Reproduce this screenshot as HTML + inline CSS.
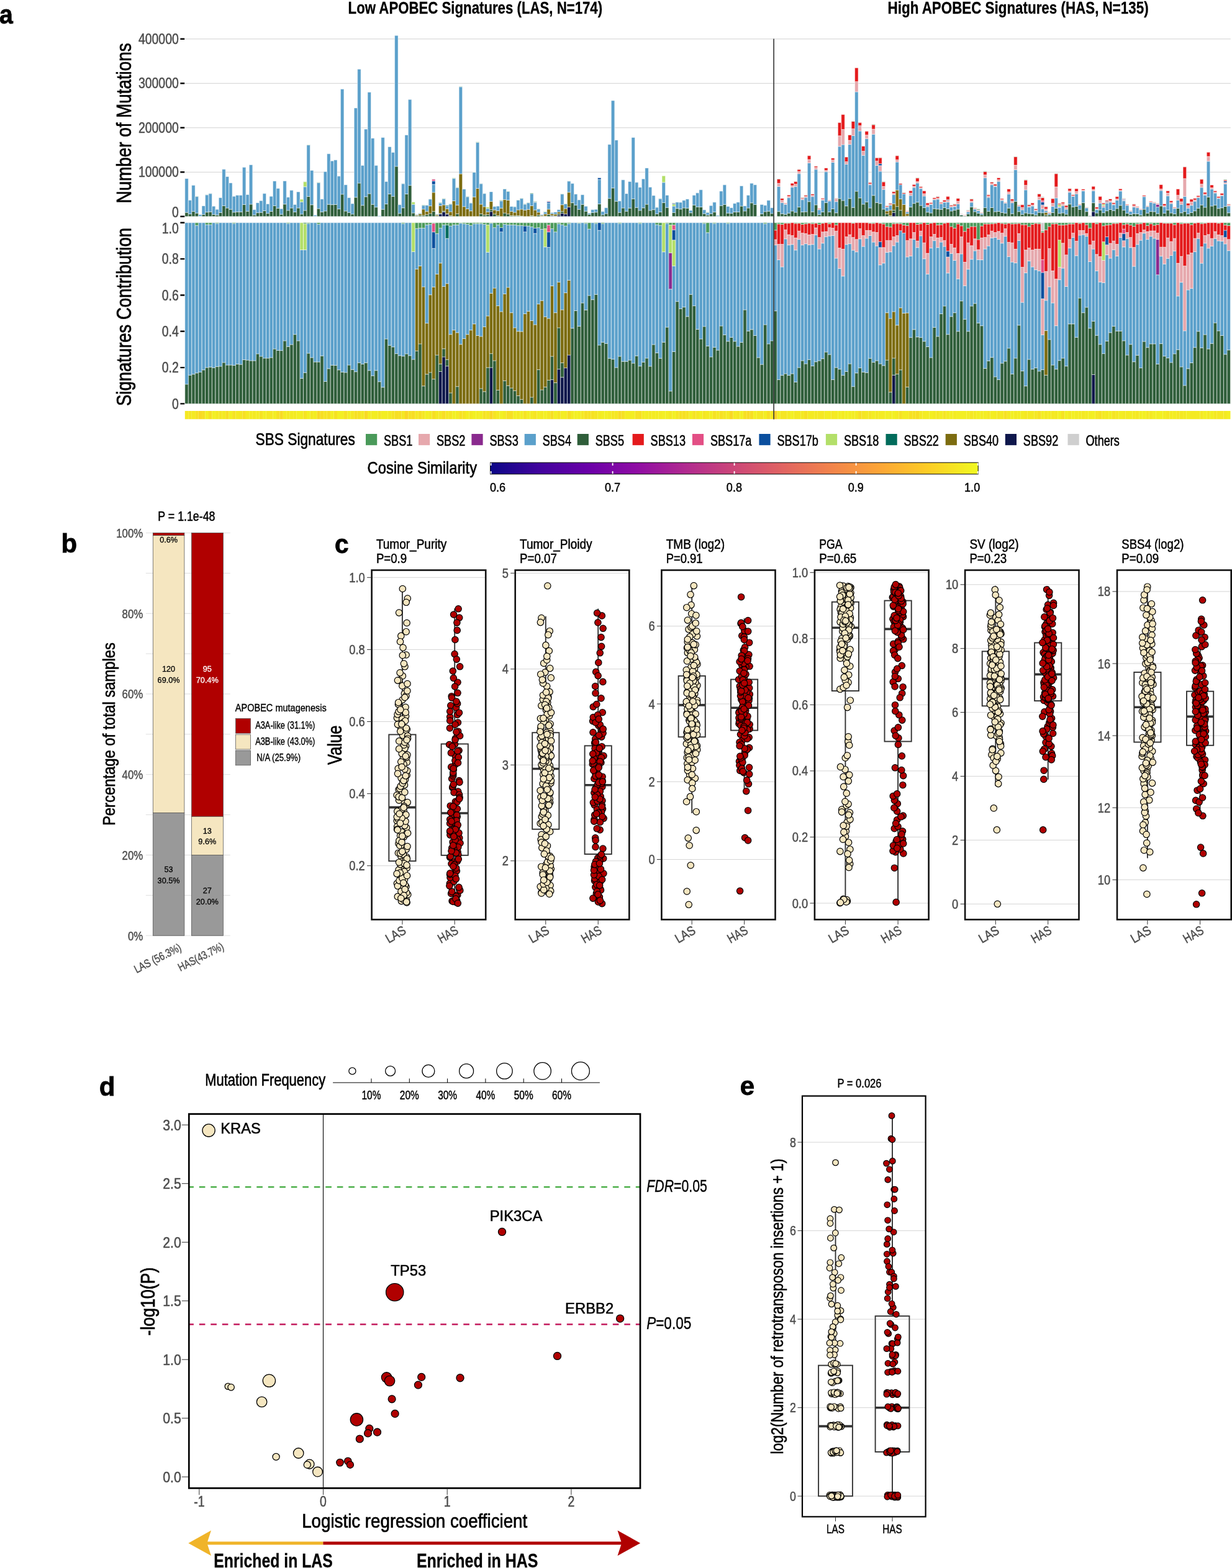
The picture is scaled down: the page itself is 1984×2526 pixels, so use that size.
<!DOCTYPE html>
<html lang="en">
<head>
<meta charset="utf-8">
<title>APOBEC signatures figure</title>
<style>
html,body{margin:0;padding:0;background:#fff;}
body{width:1984px;height:2526px;overflow:hidden;}
svg{display:block;}
text{font-family:"Liberation Sans",Arial,Helvetica,sans-serif;}
</style>
</head>
<body>
<svg width="1984" height="2526" viewBox="0 0 1984 2526">
<rect width="1984" height="2526" fill="#fff"/>
<g>
<path d="M297.8 277.3H1981.8M297.8 205.8H1981.8M297.8 134.3H1981.8M297.8 62.8H1981.8" stroke="#d2d2d2" stroke-width="1" fill="none"/>
<g stroke="#fff" stroke-width="0.5">
<path fill="#0e174c" d="M706.44 348.8h5.45V344.8h-5.45zM711.89 348.8h5.45V341.3h-5.45zM717.34 348.8h5.45V344.93h-5.45zM788.17 348.8h5.45V340.79h-5.45zM886.24 348.8h5.45V347.92h-5.45zM897.14 348.8h5.45V346.68h-5.45zM902.59 348.8h5.45V343.47h-5.45zM908.04 348.8h5.45V344.69h-5.45zM913.49 348.8h5.45V333.39h-5.45zM1436.55 348.8h5.45V342.42h-5.45zM1758.01 348.8h5.45V341h-5.45z"/>
<path fill="#2f5e3a" d="M297.8 348.8h5.45V342.2h-5.45zM303.25 348.8h5.45V344.63h-5.45zM308.7 348.8h5.45V340.61h-5.45zM314.15 348.8h5.45V343.25h-5.45zM319.59 348.8h5.45V348.25h-5.45zM325.04 348.8h5.45V345.59h-5.45zM330.49 348.8h5.45V341.74h-5.45zM335.94 348.8h5.45V341.21h-5.45zM341.39 348.8h5.45V345.48h-5.45zM346.84 348.8h5.45V346.43h-5.45zM352.29 348.8h5.45V342.51h-5.45zM357.73 348.8h5.45V331.45h-5.45zM363.18 348.8h5.45V335.04h-5.45zM368.63 348.8h5.45V337.22h-5.45zM374.08 348.8h5.45V341.87h-5.45zM379.53 348.8h5.45V341.3h-5.45zM384.98 348.8h5.45V341.37h-5.45zM390.43 348.8h5.45V329.55h-5.45zM395.87 348.8h5.45V340.29h-5.45zM401.32 348.8h5.45V328.98h-5.45zM406.77 348.8h5.45V346.16h-5.45zM412.22 348.8h5.45V342.68h-5.45zM417.67 348.8h5.45V342.13h-5.45zM423.12 348.8h5.45V339.47h-5.45zM428.57 348.8h5.45V343.7h-5.45zM434.01 348.8h5.45V340.5h-5.45zM439.46 348.8h5.45V331.49h-5.45zM444.91 348.8h5.45V335.43h-5.45zM450.36 348.8h5.45V345.14h-5.45zM455.81 348.8h5.45V328.87h-5.45zM461.26 348.8h5.45V338.93h-5.45zM466.7 348.8h5.45V335.01h-5.45zM472.15 348.8h5.45V341.41h-5.45zM477.6 348.8h5.45V334.99h-5.45zM483.05 348.8h5.45V344.92h-5.45zM488.5 348.8h5.45V339.1h-5.45zM493.95 348.8h5.45V316.54h-5.45zM499.4 348.8h5.45V329.86h-5.45zM504.84 348.8h5.45V348.27h-5.45zM510.29 348.8h5.45V336.1h-5.45zM515.74 348.8h5.45V341.35h-5.45zM521.19 348.8h5.45V339.92h-5.45zM526.64 348.8h5.45V329.2h-5.45zM532.09 348.8h5.45V329.72h-5.45zM537.54 348.8h5.45V329.5h-5.45zM542.98 348.8h5.45V336.65h-5.45zM548.43 348.8h5.45V312.89h-5.45zM553.88 348.8h5.45V339.96h-5.45zM559.33 348.8h5.45V342.3h-5.45zM564.78 348.8h5.45V344.88h-5.45zM570.23 348.8h5.45V317.86h-5.45zM575.68 348.8h5.45V294.91h-5.45zM581.12 348.8h5.45V330.79h-5.45zM586.57 348.8h5.45V316.86h-5.45zM592.02 348.8h5.45V311.96h-5.45zM597.47 348.8h5.45V329.25h-5.45zM602.92 348.8h5.45V333.67h-5.45zM613.82 348.8h5.45V337.21h-5.45zM619.26 348.8h5.45V328.6h-5.45zM624.71 348.8h5.45V312.5h-5.45zM630.16 348.8h5.45V316.36h-5.45zM635.61 348.8h5.45V268.01h-5.45zM641.06 348.8h5.45V343.76h-5.45zM646.51 348.8h5.45V334.81h-5.45zM651.96 348.8h5.45V312.53h-5.45zM657.4 348.8h5.45V298.67h-5.45zM662.85 348.8h5.45V343.07h-5.45zM668.3 348.8h5.45V347.78h-5.45zM673.75 348.8h5.45V346.88h-5.45zM679.2 348.8h5.45V346.99h-5.45zM684.65 348.8h5.45V345.79h-5.45zM690.1 348.8h5.45V343.9h-5.45zM695.54 348.8h5.45V340.6h-5.45zM700.99 348.8h5.45V347.7h-5.45zM706.44 344.8h5.45V343.86h-5.45zM711.89 341.3h5.45V340h-5.45zM717.34 344.93h5.45V344.26h-5.45zM722.79 348.8h5.45V347.59h-5.45zM733.68 348.8h5.45V344.33h-5.45zM771.82 348.8h5.45V344.33h-5.45zM777.27 348.8h5.45V346.29h-5.45zM782.72 348.8h5.45V345.71h-5.45zM788.17 340.79h5.45V337.71h-5.45zM793.62 348.8h5.45V344.84h-5.45zM799.07 348.8h5.45V347.51h-5.45zM809.96 348.8h5.45V343.11h-5.45zM815.41 348.8h5.45V344.71h-5.45zM820.86 348.8h5.45V347.35h-5.45zM826.31 348.8h5.45V347.65h-5.45zM831.76 348.8h5.45V347.62h-5.45zM837.21 348.8h5.45V348.09h-5.45zM853.55 348.8h5.45V347.44h-5.45zM864.45 348.8h5.45V346.46h-5.45zM869.9 348.8h5.45V348.56h-5.45zM875.35 348.8h5.45V348.02h-5.45zM880.79 348.8h5.45V345.54h-5.45zM886.24 347.92h5.45V347.06h-5.45zM891.69 348.8h5.45V347.92h-5.45zM897.14 346.68h5.45V344.15h-5.45zM902.59 343.47h5.45V340.54h-5.45zM918.93 348.8h5.45V326.62h-5.45zM924.38 348.8h5.45V330.28h-5.45zM929.83 348.8h5.45V337.29h-5.45zM935.28 348.8h5.45V329.25h-5.45zM940.73 348.8h5.45V340.17h-5.45zM946.18 348.8h5.45V345.34h-5.45zM951.63 348.8h5.45V342.43h-5.45zM957.07 348.8h5.45V341.8h-5.45zM962.52 348.8h5.45V328.6h-5.45zM967.97 348.8h5.45V346.05h-5.45zM973.42 348.8h5.45V344.11h-5.45zM978.87 348.8h5.45V319.65h-5.45zM984.32 348.8h5.45V302.86h-5.45zM989.77 348.8h5.45V324.18h-5.45zM995.21 348.8h5.45V342.22h-5.45zM1000.66 348.8h5.45V334.98h-5.45zM1006.11 348.8h5.45V340.17h-5.45zM1011.56 348.8h5.45V335.2h-5.45zM1017.01 348.8h5.45V320.28h-5.45zM1022.46 348.8h5.45V334.23h-5.45zM1027.9 348.8h5.45V338.94h-5.45zM1033.35 348.8h5.45V334.85h-5.45zM1038.8 348.8h5.45V329.11h-5.45zM1044.25 348.8h5.45V338.99h-5.45zM1049.7 348.8h5.45V337.72h-5.45zM1055.15 348.8h5.45V344.56h-5.45zM1060.6 348.8h5.45V341.48h-5.45zM1066.04 348.8h5.45V326.53h-5.45zM1071.49 348.8h5.45V334.22h-5.45zM1082.39 348.8h5.45V342.48h-5.45zM1087.84 348.8h5.45V335.79h-5.45zM1093.29 348.8h5.45V336.83h-5.45zM1098.74 348.8h5.45V334.9h-5.45zM1104.18 348.8h5.45V335.26h-5.45zM1109.63 348.8h5.45V342.84h-5.45zM1115.08 348.8h5.45V330.27h-5.45zM1120.53 348.8h5.45V333.2h-5.45zM1125.98 348.8h5.45V333.39h-5.45zM1131.43 348.8h5.45V344.22h-5.45zM1136.88 348.8h5.45V346.56h-5.45zM1142.32 348.8h5.45V344.24h-5.45zM1147.77 348.8h5.45V341.62h-5.45zM1153.22 348.8h5.45V348.27h-5.45zM1158.67 348.8h5.45V331.21h-5.45zM1164.12 348.8h5.45V329.38h-5.45zM1169.57 348.8h5.45V343.15h-5.45zM1175.02 348.8h5.45V343.63h-5.45zM1180.46 348.8h5.45V341.52h-5.45zM1185.91 348.8h5.45V341.5h-5.45zM1191.36 348.8h5.45V332.08h-5.45zM1196.81 348.8h5.45V339.89h-5.45zM1202.26 348.8h5.45V335.03h-5.45zM1207.71 348.8h5.45V326.84h-5.45zM1213.16 348.8h5.45V329.53h-5.45zM1218.6 348.8h5.45V348.58h-5.45zM1224.05 348.8h5.45V344.61h-5.45zM1229.5 348.8h5.45V340.89h-5.45zM1234.95 348.8h5.45V340.19h-5.45zM1240.4 348.8h5.45V343.9h-5.45zM1245.85 348.8h5.45V348.54h-5.45zM1251.3 348.8h5.45V340.72h-5.45zM1256.74 348.8h5.45V344.16h-5.45zM1262.19 348.8h5.45V345.22h-5.45zM1267.64 348.8h5.45V343.34h-5.45zM1273.09 348.8h5.45V339.91h-5.45zM1278.54 348.8h5.45V341.99h-5.45zM1283.99 348.8h5.45V333.58h-5.45zM1289.43 348.8h5.45V341.45h-5.45zM1294.88 348.8h5.45V341.12h-5.45zM1300.33 348.8h5.45V324.79h-5.45zM1305.78 348.8h5.45V341.16h-5.45zM1311.23 348.8h5.45V329.92h-5.45zM1316.68 348.8h5.45V345.75h-5.45zM1322.13 348.8h5.45V341.45h-5.45zM1327.57 348.8h5.45V326.45h-5.45zM1333.02 348.8h5.45V341.49h-5.45zM1338.47 348.8h5.45V336.3h-5.45zM1343.92 348.8h5.45V342.82h-5.45zM1349.37 348.8h5.45V319.92h-5.45zM1354.82 348.8h5.45V323.02h-5.45zM1360.27 348.8h5.45V331.76h-5.45zM1365.71 348.8h5.45V319.76h-5.45zM1371.16 348.8h5.45V334.2h-5.45zM1376.61 348.8h5.45V308.09h-5.45zM1382.06 348.8h5.45V318.86h-5.45zM1387.51 348.8h5.45V328.97h-5.45zM1392.96 348.8h5.45V325.2h-5.45zM1398.41 348.8h5.45V335h-5.45zM1403.85 348.8h5.45V314.81h-5.45zM1409.3 348.8h5.45V326.3h-5.45zM1414.75 348.8h5.45V327.8h-5.45zM1420.2 348.8h5.45V336.94h-5.45zM1425.65 348.8h5.45V344.56h-5.45zM1431.1 348.8h5.45V347.42h-5.45zM1436.55 342.42h5.45V338.62h-5.45zM1441.99 348.8h5.45V332.67h-5.45zM1447.44 348.8h5.45V338.79h-5.45zM1458.34 348.8h5.45V347.94h-5.45zM1463.79 348.8h5.45V333.62h-5.45zM1469.24 348.8h5.45V327.69h-5.45zM1474.69 348.8h5.45V325.71h-5.45zM1480.13 348.8h5.45V331.06h-5.45zM1485.58 348.8h5.45V334.57h-5.45zM1491.03 348.8h5.45V341.82h-5.45zM1496.48 348.8h5.45V343.07h-5.45zM1501.93 348.8h5.45V336.13h-5.45zM1507.38 348.8h5.45V336.83h-5.45zM1512.83 348.8h5.45V337.36h-5.45zM1518.27 348.8h5.45V334.55h-5.45zM1523.72 348.8h5.45V336.48h-5.45zM1529.17 348.8h5.45V339.91h-5.45zM1534.62 348.8h5.45V338.62h-5.45zM1540.07 348.8h5.45V336.99h-5.45zM1545.52 348.8h5.45V346.49h-5.45zM1550.97 348.8h5.45V347.73h-5.45zM1556.41 348.8h5.45V344.71h-5.45zM1561.86 348.8h5.45V333.36h-5.45zM1567.31 348.8h5.45V341h-5.45zM1572.76 348.8h5.45V343.47h-5.45zM1578.21 348.8h5.45V346.09h-5.45zM1583.66 348.8h5.45V334.58h-5.45zM1589.1 348.8h5.45V340.43h-5.45zM1594.55 348.8h5.45V334.5h-5.45zM1600 348.8h5.45V341h-5.45zM1605.45 348.8h5.45V340.51h-5.45zM1610.9 348.8h5.45V342.31h-5.45zM1616.35 348.8h5.45V343.31h-5.45zM1621.8 348.8h5.45V335.15h-5.45zM1627.24 348.8h5.45V344.16h-5.45zM1632.69 348.8h5.45V324.4h-5.45zM1638.14 348.8h5.45V340.79h-5.45zM1643.59 348.8h5.45V345.31h-5.45zM1649.04 348.8h5.45V342.98h-5.45zM1654.49 348.8h5.45V344.07h-5.45zM1659.94 348.8h5.45V344.57h-5.45zM1665.38 348.8h5.45V346.36h-5.45zM1670.83 348.8h5.45V342.16h-5.45zM1676.28 348.8h5.45V342.75h-5.45zM1681.73 348.8h5.45V346.21h-5.45zM1687.18 348.8h5.45V346.11h-5.45zM1692.63 348.8h5.45V342.56h-5.45zM1698.08 348.8h5.45V335.54h-5.45zM1703.52 348.8h5.45V343.72h-5.45zM1708.97 348.8h5.45V342.91h-5.45zM1714.42 348.8h5.45V345.04h-5.45zM1719.87 348.8h5.45V328.81h-5.45zM1725.32 348.8h5.45V333.22h-5.45zM1730.77 348.8h5.45V332.35h-5.45zM1736.22 348.8h5.45V337.19h-5.45zM1741.66 348.8h5.45V326.61h-5.45zM1747.11 348.8h5.45V340.76h-5.45zM1752.56 348.8h5.45V347.85h-5.45zM1758.01 341h5.45V326.69h-5.45zM1763.46 348.8h5.45V343.1h-5.45zM1768.91 348.8h5.45V338.25h-5.45zM1774.36 348.8h5.45V342.66h-5.45zM1779.8 348.8h5.45V339.67h-5.45zM1785.25 348.8h5.45V337.5h-5.45zM1790.7 348.8h5.45V339.31h-5.45zM1796.15 348.8h5.45V335.89h-5.45zM1801.6 348.8h5.45V330.86h-5.45zM1807.05 348.8h5.45V338.62h-5.45zM1812.5 348.8h5.45V343.51h-5.45zM1817.94 348.8h5.45V345.61h-5.45zM1823.39 348.8h5.45V344.14h-5.45zM1828.84 348.8h5.45V344.49h-5.45zM1834.29 348.8h5.45V346.39h-5.45zM1839.74 348.8h5.45V337.12h-5.45zM1845.19 348.8h5.45V343.35h-5.45zM1850.63 348.8h5.45V340.64h-5.45zM1856.08 348.8h5.45V340.97h-5.45zM1861.53 348.8h5.45V344.12h-5.45zM1866.98 348.8h5.45V331.76h-5.45zM1872.43 348.8h5.45V343.44h-5.45zM1877.88 348.8h5.45V338.34h-5.45zM1883.33 348.8h5.45V343.01h-5.45zM1888.77 348.8h5.45V344.56h-5.45zM1894.22 348.8h5.45V335.55h-5.45zM1899.67 348.8h5.45V342.83h-5.45zM1905.12 348.8h5.45V340.69h-5.45zM1910.57 348.8h5.45V344.65h-5.45zM1916.02 348.8h5.45V342.42h-5.45zM1921.47 348.8h5.45V339.71h-5.45zM1926.91 348.8h5.45V335.39h-5.45zM1932.36 348.8h5.45V330.15h-5.45zM1937.81 348.8h5.45V333.94h-5.45zM1943.26 348.8h5.45V317.43h-5.45zM1948.71 348.8h5.45V331.9h-5.45zM1954.16 348.8h5.45V330.33h-5.45zM1959.61 348.8h5.45V335.8h-5.45zM1965.05 348.8h5.45V334.76h-5.45zM1970.5 348.8h5.45V332.52h-5.45zM1975.95 348.8h5.45V342.83h-5.45z"/>
<path fill="#7c6c10" d="M668.3 347.78h5.45V346.19h-5.45zM673.75 346.88h5.45V344.39h-5.45zM679.2 346.99h5.45V336.88h-5.45zM684.65 345.79h5.45V340.59h-5.45zM690.1 343.9h5.45V331.75h-5.45zM695.54 340.6h5.45V309.92h-5.45zM700.99 347.7h5.45V345.88h-5.45zM706.44 343.86h5.45V331.36h-5.45zM711.89 340h5.45V330.04h-5.45zM717.34 344.26h5.45V336.46h-5.45zM722.79 347.59h5.45V341.05h-5.45zM728.23 348.8h5.45V323.57h-5.45zM733.68 344.33h5.45V330.31h-5.45zM739.13 348.8h5.45V280.06h-5.45zM744.58 348.8h5.45V332.79h-5.45zM750.03 348.8h5.45V336.48h-5.45zM755.48 348.8h5.45V339.78h-5.45zM760.93 348.8h5.45V317.21h-5.45zM766.37 348.8h5.45V303.57h-5.45zM771.82 344.33h5.45V329.01h-5.45zM777.27 346.29h5.45V332.91h-5.45zM782.72 345.71h5.45V341.31h-5.45zM788.17 337.71h5.45V324.38h-5.45zM793.62 344.84h5.45V338.15h-5.45zM799.07 347.51h5.45V339.52h-5.45zM804.51 348.8h5.45V335.37h-5.45zM809.96 343.11h5.45V321.59h-5.45zM815.41 344.71h5.45V322.5h-5.45zM820.86 347.35h5.45V340.42h-5.45zM826.31 347.65h5.45V342.07h-5.45zM831.76 347.62h5.45V338.05h-5.45zM837.21 348.09h5.45V337.02h-5.45zM842.65 348.8h5.45V338.49h-5.45zM848.1 348.8h5.45V337.33h-5.45zM853.55 347.44h5.45V331.47h-5.45zM859 348.8h5.45V338.21h-5.45zM864.45 346.46h5.45V341.95h-5.45zM869.9 348.56h5.45V347.01h-5.45zM875.35 348.02h5.45V344.74h-5.45zM880.79 345.54h5.45V336.98h-5.45zM886.24 347.06h5.45V344.47h-5.45zM891.69 347.92h5.45V344.99h-5.45zM897.14 344.15h5.45V341.35h-5.45zM902.59 340.54h5.45V329.84h-5.45zM908.04 344.69h5.45V336.09h-5.45zM913.49 333.39h5.45V309.74h-5.45zM1425.65 344.56h5.45V339.95h-5.45zM1431.1 347.42h5.45V338.63h-5.45zM1436.55 338.62h5.45V328.24h-5.45zM1441.99 332.67h5.45V306.1h-5.45zM1447.44 338.79h5.45V320.42h-5.45zM1452.89 348.8h5.45V329.46h-5.45zM1458.34 347.94h5.45V344.13h-5.45zM1681.73 346.21h5.45V342.19h-5.45z"/>
<path fill="#5ba0cb" d="M297.8 342.2h5.45V287.67h-5.45zM303.25 344.63h5.45V322.42h-5.45zM308.7 340.61h5.45V298.54h-5.45zM314.15 343.25h5.45V316.61h-5.45zM319.59 348.25h5.45V345.65h-5.45zM325.04 345.59h5.45V331.64h-5.45zM330.49 341.74h5.45V313.87h-5.45zM335.94 341.21h5.45V311.82h-5.45zM341.39 345.48h5.45V332.14h-5.45zM346.84 346.43h5.45V337.26h-5.45zM352.29 342.51h5.45V318.41h-5.45zM357.73 331.45h5.45V272.72h-5.45zM363.18 335.04h5.45V284.52h-5.45zM368.63 337.22h5.45V294.67h-5.45zM374.08 341.87h5.45V316.26h-5.45zM379.53 341.3h5.45V314.55h-5.45zM384.98 341.37h5.45V314.55h-5.45zM390.43 329.55h5.45V269.58h-5.45zM395.87 340.29h5.45V313.48h-5.45zM401.32 328.98h5.45V265.5h-5.45zM406.77 346.16h5.45V337.72h-5.45zM412.22 342.68h5.45V326.63h-5.45zM417.67 342.13h5.45V323.35h-5.45zM423.12 339.47h5.45V311.76h-5.45zM428.57 343.7h5.45V328.57h-5.45zM434.01 340.5h5.45V316.27h-5.45zM439.46 331.49h5.45V291.67h-5.45zM444.91 335.43h5.45V303.47h-5.45zM450.36 345.14h5.45V336.36h-5.45zM455.81 328.87h5.45V291.53h-5.45zM461.26 338.93h5.45V317.68h-5.45zM466.7 335.01h5.45V306.62h-5.45zM472.15 341.41h5.45V329.5h-5.45zM477.6 334.99h5.45V309.12h-5.45zM483.05 344.92h5.45V325.22h-5.45zM488.5 339.1h5.45V300.85h-5.45zM493.95 316.54h5.45V233.65h-5.45zM499.4 329.86h5.45V274.51h-5.45zM504.84 348.27h5.45V346.51h-5.45zM510.29 336.1h5.45V294.26h-5.45zM515.74 341.35h5.45V320.7h-5.45zM521.19 339.92h5.45V276.59h-5.45zM526.64 329.2h5.45V247.77h-5.45zM532.09 329.72h5.45V259.21h-5.45zM537.54 329.5h5.45V257.78h-5.45zM542.98 336.65h5.45V283.81h-5.45zM548.43 312.89h5.45V143.6h-5.45zM553.88 339.96h5.45V297.68h-5.45zM559.33 342.3h5.45V318.41h-5.45zM564.78 344.88h5.45V328.06h-5.45zM570.23 317.86h5.45V173.98h-5.45zM575.68 294.91h5.45V111.42h-5.45zM581.12 330.79h5.45V266.58h-5.45zM586.57 316.86h5.45V208.09h-5.45zM592.02 311.96h5.45V148.6h-5.45zM597.47 329.25h5.45V222.67h-5.45zM602.92 333.67h5.45V266.58h-5.45zM608.37 348.67h5.45V347.73h-5.45zM613.82 337.21h5.45V221.46h-5.45zM619.26 328.6h5.45V292.39h-5.45zM624.71 312.5h5.45V236.4h-5.45zM630.16 316.36h5.45V245.48h-5.45zM635.61 268.01h5.45V57.15h-5.45zM641.06 343.76h5.45V329.85h-5.45zM646.51 334.81h5.45V295.87h-5.45zM651.96 312.53h5.45V217.38h-5.45zM657.4 298.67h5.45V160.33h-5.45zM662.85 343.07h5.45V329.16h-5.45zM668.3 346.19h5.45V345.41h-5.45zM673.75 344.39h5.45V343.18h-5.45zM679.2 336.88h5.45V330.91h-5.45zM684.65 340.59h5.45V330.57h-5.45zM690.1 331.75h5.45V320.77h-5.45zM695.54 309.92h5.45V297.08h-5.45zM700.99 345.88h5.45V344.97h-5.45zM706.44 331.36h5.45V327.02h-5.45zM711.89 330.04h5.45V320.19h-5.45zM717.34 336.46h5.45V331.83h-5.45zM722.79 341.05h5.45V328.93h-5.45zM728.23 323.57h5.45V287.55h-5.45zM733.68 330.31h5.45V302.32h-5.45zM739.13 280.06h5.45V139.86h-5.45zM744.58 332.79h5.45V304.59h-5.45zM750.03 336.48h5.45V316.91h-5.45zM755.48 339.78h5.45V326.97h-5.45zM760.93 317.21h5.45V277.59h-5.45zM766.37 303.57h5.45V229.54h-5.45zM771.82 329.01h5.45V295.87h-5.45zM777.27 332.91h5.45V311.74h-5.45zM782.72 341.31h5.45V335.87h-5.45zM788.17 324.38h5.45V308.88h-5.45zM793.62 338.15h5.45V332.59h-5.45zM799.07 339.52h5.45V331.85h-5.45zM804.51 335.37h5.45V323.76h-5.45zM809.96 321.59h5.45V304.37h-5.45zM815.41 322.5h5.45V308.39h-5.45zM820.86 340.42h5.45V332.34h-5.45zM826.31 342.07h5.45V332.98h-5.45zM831.76 338.05h5.45V322.32h-5.45zM837.21 337.02h5.45V319.71h-5.45zM842.65 338.49h5.45V329.12h-5.45zM848.1 337.33h5.45V326.75h-5.45zM853.55 331.47h5.45V311.92h-5.45zM859 338.21h5.45V325.99h-5.45zM864.45 341.95h5.45V336.69h-5.45zM869.9 347.01h5.45V345.77h-5.45zM875.35 344.74h5.45V341.49h-5.45zM880.79 336.98h5.45V327.12h-5.45zM886.24 344.47h5.45V342.37h-5.45zM891.69 344.99h5.45V341.61h-5.45zM897.14 341.35h5.45V337.78h-5.45zM902.59 329.84h5.45V312.67h-5.45zM908.04 336.09h5.45V328.44h-5.45zM913.49 309.74h5.45V291.81h-5.45zM918.93 326.62h5.45V295.6h-5.45zM924.38 330.28h5.45V312.76h-5.45zM929.83 337.29h5.45V322h-5.45zM935.28 329.25h5.45V313.69h-5.45zM940.73 340.17h5.45V332.21h-5.45zM946.18 345.34h5.45V343.21h-5.45zM951.63 342.43h5.45V337.72h-5.45zM957.07 341.8h5.45V337.26h-5.45zM962.52 328.6h5.45V289.07h-5.45zM967.97 346.05h5.45V340.76h-5.45zM973.42 344.11h5.45V334.71h-5.45zM978.87 319.65h5.45V232.68h-5.45zM984.32 302.86h5.45V162.04h-5.45zM989.77 324.18h5.45V225.68h-5.45zM995.21 342.22h5.45V323.8h-5.45zM1000.66 334.98h5.45V289.74h-5.45zM1006.11 340.17h5.45V311.91h-5.45zM1011.56 335.2h5.45V292.39h-5.45zM1017.01 320.28h5.45V221.46h-5.45zM1022.46 334.23h5.45V293.82h-5.45zM1027.9 338.94h5.45V301.59h-5.45zM1033.35 334.85h5.45V288.17h-5.45zM1038.8 329.11h5.45V270.65h-5.45zM1044.25 338.99h5.45V301.4h-5.45zM1049.7 337.72h5.45V314.91h-5.45zM1055.15 344.56h5.45V333.88h-5.45zM1060.6 341.48h5.45V320.07h-5.45zM1066.04 326.53h5.45V293.85h-5.45zM1071.49 334.22h5.45V314.47h-5.45zM1076.94 348.76h5.45V348.48h-5.45zM1082.39 342.48h5.45V332.1h-5.45zM1087.84 335.79h5.45V325.78h-5.45zM1093.29 336.83h5.45V325.99h-5.45zM1098.74 334.9h5.45V322.77h-5.45zM1104.18 335.26h5.45V320.7h-5.45zM1109.63 342.84h5.45V338.93h-5.45zM1115.08 330.27h5.45V314.55h-5.45zM1120.53 333.2h5.45V310.83h-5.45zM1125.98 333.39h5.45V305.76h-5.45zM1131.43 344.22h5.45V338.12h-5.45zM1136.88 346.56h5.45V342.18h-5.45zM1142.32 344.24h5.45V331.21h-5.45zM1147.77 341.62h5.45V325.87h-5.45zM1153.22 348.27h5.45V347.01h-5.45zM1158.67 331.21h5.45V307.9h-5.45zM1164.12 329.38h5.45V297.82h-5.45zM1169.57 343.15h5.45V332.49h-5.45zM1175.02 343.63h5.45V334.71h-5.45zM1180.46 341.52h5.45V327.71h-5.45zM1185.91 341.5h5.45V325.78h-5.45zM1191.36 332.08h5.45V299.47h-5.45zM1196.81 339.89h5.45V331.64h-5.45zM1202.26 335.03h5.45V314.55h-5.45zM1207.71 326.84h5.45V295.25h-5.45zM1213.16 329.53h5.45V297.68h-5.45zM1218.6 348.58h5.45V347.94h-5.45zM1224.05 344.61h5.45V329.5h-5.45zM1229.5 340.89h5.45V330.82h-5.45zM1234.95 340.19h5.45V322.77h-5.45zM1240.4 343.9h5.45V334.71h-5.45zM1245.85 348.54h5.45V348.36h-5.45zM1251.3 340.72h5.45V300.48h-5.45zM1256.74 344.16h5.45V326.48h-5.45zM1262.19 345.22h5.45V329.13h-5.45zM1267.64 343.34h5.45V318.33h-5.45zM1273.09 339.91h5.45V301.67h-5.45zM1278.54 341.99h5.45V300.6h-5.45zM1283.99 333.58h5.45V279.72h-5.45zM1289.43 341.45h5.45V321.71h-5.45zM1294.88 341.12h5.45V318.08h-5.45zM1300.33 324.79h5.45V262.42h-5.45zM1305.78 341.16h5.45V316.65h-5.45zM1311.23 329.92h5.45V272.88h-5.45zM1316.68 345.75h5.45V337.86h-5.45zM1322.13 341.45h5.45V322.61h-5.45zM1327.57 326.45h5.45V276.67h-5.45zM1333.02 341.49h5.45V323.88h-5.45zM1338.47 336.3h5.45V261.52h-5.45zM1343.92 342.82h5.45V324.77h-5.45zM1349.37 319.92h5.45V235.84h-5.45zM1354.82 323.02h5.45V233.01h-5.45zM1360.27 331.76h5.45V264.55h-5.45zM1365.71 319.76h5.45V232.63h-5.45zM1371.16 334.2h5.45V218.44h-5.45zM1376.61 308.09h5.45V147.9h-5.45zM1382.06 318.86h5.45V211.04h-5.45zM1387.51 328.97h5.45V250.32h-5.45zM1392.96 325.2h5.45V223.39h-5.45zM1398.41 335h5.45V297.72h-5.45zM1403.85 314.81h5.45V216.25h-5.45zM1409.3 326.3h5.45V266.38h-5.45zM1414.75 327.8h5.45V275.92h-5.45zM1420.2 336.94h5.45V305.13h-5.45zM1425.65 339.95h5.45V334.1h-5.45zM1431.1 338.63h5.45V330.68h-5.45zM1436.55 328.24h5.45V313.53h-5.45zM1441.99 306.1h5.45V260.94h-5.45zM1447.44 320.42h5.45V297.6h-5.45zM1452.89 329.46h5.45V312.32h-5.45zM1458.34 344.13h5.45V341.26h-5.45zM1463.79 333.62h5.45V314.96h-5.45zM1469.24 327.69h5.45V302.06h-5.45zM1474.69 325.71h5.45V294.81h-5.45zM1480.13 331.06h5.45V303.81h-5.45zM1485.58 334.57h5.45V315.75h-5.45zM1491.03 341.82h5.45V332.93h-5.45zM1496.48 343.07h5.45V329.49h-5.45zM1501.93 336.13h5.45V321.74h-5.45zM1507.38 336.83h5.45V321.03h-5.45zM1512.83 337.36h5.45V328.24h-5.45zM1518.27 334.55h5.45V325.87h-5.45zM1523.72 336.48h5.45V325.57h-5.45zM1529.17 339.91h5.45V333.49h-5.45zM1534.62 338.62h5.45V332.77h-5.45zM1540.07 336.99h5.45V328.42h-5.45zM1545.52 346.49h5.45V345.43h-5.45zM1550.97 347.73h5.45V347.31h-5.45zM1556.41 344.71h5.45V341.2h-5.45zM1561.86 333.36h5.45V325.98h-5.45zM1567.31 341h5.45V336.9h-5.45zM1572.76 343.47h5.45V339.3h-5.45zM1578.21 346.09h5.45V343.8h-5.45zM1583.66 334.58h5.45V286.44h-5.45zM1589.1 340.43h5.45V318h-5.45zM1594.55 334.5h5.45V297.65h-5.45zM1600 341h5.45V300.7h-5.45zM1605.45 340.51h5.45V292.19h-5.45zM1610.9 342.31h5.45V323.11h-5.45zM1616.35 343.31h5.45V327.17h-5.45zM1621.8 335.15h5.45V312.64h-5.45zM1627.24 344.16h5.45V326.63h-5.45zM1632.69 324.4h5.45V273.48h-5.45zM1638.14 340.79h5.45V332.16h-5.45zM1643.59 345.31h5.45V337.99h-5.45zM1649.04 342.98h5.45V305.89h-5.45zM1654.49 344.07h5.45V333.57h-5.45zM1659.94 344.57h5.45V332.04h-5.45zM1665.38 346.36h5.45V339.7h-5.45zM1670.83 342.16h5.45V321.72h-5.45zM1676.28 342.75h5.45V336.54h-5.45zM1681.73 342.19h5.45V339.45h-5.45zM1687.18 346.11h5.45V343.9h-5.45zM1692.63 342.56h5.45V332.55h-5.45zM1698.08 335.54h5.45V318.88h-5.45zM1703.52 343.72h5.45V334.25h-5.45zM1708.97 342.91h5.45V331.29h-5.45zM1714.42 345.04h5.45V337.08h-5.45zM1719.87 328.81h5.45V309.82h-5.45zM1725.32 333.22h5.45V316.34h-5.45zM1730.77 332.35h5.45V312.13h-5.45zM1736.22 337.19h5.45V330.29h-5.45zM1741.66 326.61h5.45V307.6h-5.45zM1747.11 340.76h5.45V334.84h-5.45zM1752.56 347.85h5.45V347h-5.45zM1758.01 326.69h5.45V307.35h-5.45zM1763.46 343.1h5.45V337.73h-5.45zM1768.91 338.25h5.45V327.15h-5.45zM1774.36 342.66h5.45V333.97h-5.45zM1779.8 339.67h5.45V327.09h-5.45zM1785.25 337.5h5.45V325.69h-5.45zM1790.7 339.31h5.45V329.94h-5.45zM1796.15 335.89h5.45V322.6h-5.45zM1801.6 330.86h5.45V307.8h-5.45zM1807.05 338.62h5.45V323.48h-5.45zM1812.5 343.51h5.45V330.85h-5.45zM1817.94 345.61h5.45V340.41h-5.45zM1823.39 344.14h5.45V333.55h-5.45zM1828.84 344.49h5.45V334.64h-5.45zM1834.29 346.39h5.45V337.82h-5.45zM1839.74 337.12h5.45V316.81h-5.45zM1845.19 343.35h5.45V332.89h-5.45zM1850.63 340.64h5.45V325.98h-5.45zM1856.08 340.97h5.45V327.17h-5.45zM1861.53 344.12h5.45V333.58h-5.45zM1866.98 331.76h5.45V306.96h-5.45zM1872.43 343.44h5.45V333.07h-5.45zM1877.88 338.34h5.45V315.61h-5.45zM1883.33 343.01h5.45V328.01h-5.45zM1888.77 344.56h5.45V335.83h-5.45zM1894.22 335.55h5.45V322.42h-5.45zM1899.67 342.83h5.45V329.18h-5.45zM1905.12 340.69h5.45V316.44h-5.45zM1910.57 344.65h5.45V335.35h-5.45zM1916.02 342.42h5.45V330.81h-5.45zM1921.47 339.71h5.45V324.24h-5.45zM1926.91 335.39h5.45V318.18h-5.45zM1932.36 330.15h5.45V301.97h-5.45zM1937.81 333.94h5.45V314.3h-5.45zM1943.26 317.43h5.45V259.87h-5.45zM1948.71 331.9h5.45V304.58h-5.45zM1954.16 330.33h5.45V311.07h-5.45zM1959.61 335.8h5.45V319.78h-5.45zM1965.05 334.76h5.45V315.35h-5.45zM1970.5 332.52h5.45V296.15h-5.45zM1975.95 342.83h5.45V331.8h-5.45z"/>
<path fill="#8a2a8e" d="M1861.53 333.58h5.45V329.39h-5.45z"/>
<path fill="#016b5b" d="M717.34 331.83h5.45V330.43h-5.45z"/>
<path fill="#e6a8ad" d="M1251.3 300.48h5.45V295.26h-5.45zM1256.74 326.48h5.45V322.78h-5.45zM1262.19 329.13h5.45V328.05h-5.45zM1267.64 318.33h5.45V316.34h-5.45zM1273.09 301.67h5.45V299.05h-5.45zM1278.54 300.6h5.45V296.8h-5.45zM1283.99 279.72h5.45V276.22h-5.45zM1289.43 321.71h5.45V319.67h-5.45zM1294.88 318.08h5.45V316.14h-5.45zM1300.33 262.42h5.45V257.01h-5.45zM1305.78 316.65h5.45V314.6h-5.45zM1311.23 272.88h5.45V269.71h-5.45zM1316.68 337.86h5.45V337.04h-5.45zM1322.13 322.61h5.45V320.78h-5.45zM1327.57 276.67h5.45V274.48h-5.45zM1333.02 323.88h5.45V322.64h-5.45zM1338.47 261.52h5.45V257.67h-5.45zM1343.92 324.77h5.45V320.29h-5.45zM1349.37 235.84h5.45V218.75h-5.45zM1354.82 233.01h5.45V208.54h-5.45zM1360.27 264.55h5.45V260.53h-5.45zM1365.71 232.63h5.45V226.06h-5.45zM1371.16 218.44h5.45V207.53h-5.45zM1376.61 147.9h5.45V131.38h-5.45zM1382.06 211.04h5.45V202.57h-5.45zM1387.51 250.32h5.45V243.52h-5.45zM1392.96 223.39h5.45V217.49h-5.45zM1398.41 297.72h5.45V296.18h-5.45zM1403.85 216.25h5.45V207.94h-5.45zM1409.3 266.38h5.45V259.38h-5.45zM1414.75 275.92h5.45V266.79h-5.45zM1420.2 305.13h5.45V300.3h-5.45zM1425.65 334.1h5.45V332.93h-5.45zM1431.1 330.68h5.45V329.32h-5.45zM1436.55 313.53h5.45V311.55h-5.45zM1441.99 260.94h5.45V257.4h-5.45zM1458.34 341.26h5.45V340.42h-5.45zM1463.79 314.96h5.45V311.02h-5.45zM1469.24 302.06h5.45V300.1h-5.45zM1474.69 294.81h5.45V292.56h-5.45zM1480.13 303.81h5.45V302.55h-5.45zM1485.58 315.75h5.45V312.12h-5.45zM1491.03 332.93h5.45V330.38h-5.45zM1496.48 329.49h5.45V328.1h-5.45zM1501.93 321.74h5.45V320.69h-5.45zM1507.38 321.03h5.45V319.33h-5.45zM1512.83 328.24h5.45V327.64h-5.45zM1518.27 325.87h5.45V325h-5.45zM1523.72 325.57h5.45V322.71h-5.45zM1529.17 333.49h5.45V332.55h-5.45zM1534.62 332.77h5.45V331.38h-5.45zM1540.07 328.42h5.45V324.29h-5.45zM1545.52 345.43h5.45V345.04h-5.45zM1550.97 347.31h5.45V347.01h-5.45zM1556.41 341.2h5.45V339.71h-5.45zM1561.86 325.98h5.45V323.83h-5.45zM1567.31 336.9h5.45V335.97h-5.45zM1572.76 339.3h5.45V338.64h-5.45zM1578.21 343.8h5.45V343.04h-5.45zM1583.66 286.44h5.45V281.78h-5.45zM1589.1 318h5.45V315.85h-5.45zM1594.55 297.65h5.45V295.53h-5.45zM1600 300.7h5.45V299.29h-5.45zM1605.45 292.19h5.45V289.44h-5.45zM1610.9 323.11h5.45V321.49h-5.45zM1616.35 327.17h5.45V326.19h-5.45zM1621.8 312.64h5.45V309.13h-5.45zM1627.24 326.63h5.45V323.63h-5.45zM1632.69 273.48h5.45V266.12h-5.45zM1638.14 332.16h5.45V331.46h-5.45zM1643.59 337.99h5.45V334.24h-5.45zM1649.04 305.89h5.45V298.42h-5.45zM1654.49 333.57h5.45V332.2h-5.45zM1659.94 332.04h5.45V329.98h-5.45zM1665.38 339.7h5.45V338.3h-5.45zM1670.83 321.72h5.45V317.29h-5.45zM1676.28 336.54h5.45V330.14h-5.45zM1681.73 339.45h5.45V336.83h-5.45zM1687.18 343.9h5.45V342.3h-5.45zM1692.63 332.55h5.45V327.39h-5.45zM1698.08 318.88h5.45V300.97h-5.45zM1703.52 334.25h5.45V332.79h-5.45zM1708.97 331.29h5.45V328.06h-5.45zM1714.42 337.08h5.45V333.93h-5.45zM1719.87 309.82h5.45V307.64h-5.45zM1725.32 316.34h5.45V315.49h-5.45zM1730.77 312.13h5.45V308.54h-5.45zM1736.22 330.29h5.45V329.78h-5.45zM1741.66 307.6h5.45V306.58h-5.45zM1747.11 334.84h5.45V334.62h-5.45zM1752.56 347h5.45V346.79h-5.45zM1758.01 307.35h5.45V305.22h-5.45zM1763.46 337.73h5.45V336.35h-5.45zM1768.91 327.15h5.45V322.64h-5.45zM1774.36 333.97h5.45V331.25h-5.45zM1779.8 327.09h5.45V325.64h-5.45zM1785.25 325.69h5.45V323.33h-5.45zM1790.7 329.94h5.45V328.87h-5.45zM1796.15 322.6h5.45V320.52h-5.45zM1801.6 307.8h5.45V306.73h-5.45zM1807.05 323.48h5.45V322.45h-5.45zM1812.5 330.85h5.45V330.2h-5.45zM1817.94 340.41h5.45V339.86h-5.45zM1823.39 333.55h5.45V331.44h-5.45zM1828.84 334.64h5.45V333.68h-5.45zM1834.29 337.82h5.45V337.3h-5.45zM1839.74 316.81h5.45V316.2h-5.45zM1845.19 332.89h5.45V332.14h-5.45zM1850.63 325.98h5.45V325.24h-5.45zM1856.08 327.17h5.45V326.2h-5.45zM1861.53 329.39h5.45V328.64h-5.45zM1866.98 306.96h5.45V304.39h-5.45zM1872.43 333.07h5.45V331.17h-5.45zM1877.88 315.61h5.45V310.94h-5.45zM1883.33 328.01h5.45V326.06h-5.45zM1888.77 335.83h5.45V334.76h-5.45zM1894.22 322.42h5.45V314.4h-5.45zM1899.67 329.18h5.45V325h-5.45zM1905.12 316.44h5.45V287.7h-5.45zM1910.57 335.35h5.45V331.21h-5.45zM1916.02 330.81h5.45V325.27h-5.45zM1921.47 324.24h5.45V322.1h-5.45zM1926.91 318.18h5.45V317.18h-5.45zM1932.36 301.97h5.45V296.48h-5.45zM1937.81 314.3h5.45V312.67h-5.45zM1943.26 259.87h5.45V252h-5.45zM1948.71 304.58h5.45V302.45h-5.45zM1954.16 311.07h5.45V309.5h-5.45zM1959.61 319.78h5.45V318.71h-5.45zM1965.05 315.35h5.45V314.19h-5.45zM1970.5 296.15h5.45V294h-5.45zM1975.95 331.8h5.45V330.56h-5.45z"/>
<path fill="#b3df69" d="M483.05 325.22h5.45V321.06h-5.45zM488.5 300.85h5.45V292.72h-5.45zM662.85 329.16h5.45V325.42h-5.45zM782.72 335.87h5.45V333.54h-5.45zM875.35 341.49h5.45V340.64h-5.45zM1066.04 293.85h5.45V283.31h-5.45zM1082.39 332.1h5.45V328.96h-5.45zM1703.52 332.79h5.45V329.6h-5.45zM1774.36 331.25h5.45V328.96h-5.45z"/>
<path fill="#0b4f9e" d="M695.54 297.08h5.45V291.6h-5.45zM804.51 323.76h5.45V323.13h-5.45zM842.65 329.12h5.45V328.44h-5.45zM859 325.99h5.45V325.29h-5.45zM880.79 327.12h5.45V324.98h-5.45zM962.52 289.07h5.45V286.45h-5.45zM1082.39 328.96h5.45V327.71h-5.45zM1414.75 266.79h5.45V263.66h-5.45zM1523.72 322.71h5.45V321.68h-5.45zM1676.28 330.14h5.45V325.47h-5.45zM1779.8 325.64h5.45V324.47h-5.45zM1807.05 322.45h5.45V321.31h-5.45zM1970.5 294h5.45V291.67h-5.45z"/>
<path fill="#e34f85" d="M695.54 291.6h5.45V288.71h-5.45zM880.79 324.98h5.45V324.03h-5.45zM1082.39 327.71h5.45V327.13h-5.45zM1676.28 325.47h5.45V323.19h-5.45zM1807.05 321.31h5.45V320.58h-5.45z"/>
<path fill="#e41a1c" d="M1251.3 295.26h5.45V288.45h-5.45zM1256.74 322.78h5.45V319.54h-5.45zM1262.19 328.05h5.45V327.27h-5.45zM1267.64 316.34h5.45V314.16h-5.45zM1273.09 299.05h5.45V295.25h-5.45zM1278.54 296.8h5.45V292.26h-5.45zM1283.99 276.22h5.45V272.95h-5.45zM1289.43 319.67h5.45V318.19h-5.45zM1294.88 316.14h5.45V314.26h-5.45zM1300.33 257.01h5.45V250.71h-5.45zM1305.78 314.6h5.45V312.48h-5.45zM1311.23 269.71h5.45V267.68h-5.45zM1316.68 337.04h5.45V336.12h-5.45zM1322.13 320.78h5.45V319.36h-5.45zM1327.57 274.48h5.45V270.65h-5.45zM1333.02 322.64h5.45V322.08h-5.45zM1338.47 257.67h5.45V254.85h-5.45zM1343.92 320.29h5.45V319.27h-5.45zM1349.37 218.75h5.45V197.58h-5.45zM1354.82 208.54h5.45V184.56h-5.45zM1360.27 260.53h5.45V253.06h-5.45zM1365.71 226.06h5.45V217.38h-5.45zM1371.16 207.53h5.45V195.54h-5.45zM1376.61 131.38h5.45V109.35h-5.45zM1382.06 202.57h5.45V197.58h-5.45zM1387.51 243.52h5.45V235.47h-5.45zM1392.96 217.49h5.45V211.59h-5.45zM1398.41 296.18h5.45V293.98h-5.45zM1403.85 207.94h5.45V200.96h-5.45zM1409.3 259.38h5.45V254.28h-5.45zM1414.75 263.66h5.45V254.06h-5.45zM1420.2 300.3h5.45V292.99h-5.45zM1425.65 332.93h5.45V331.58h-5.45zM1431.1 329.32h5.45V327.73h-5.45zM1436.55 311.55h5.45V308.64h-5.45zM1441.99 257.4h5.45V250.81h-5.45zM1447.44 297.6h5.45V295.57h-5.45zM1452.89 312.32h5.45V310.62h-5.45zM1458.34 340.42h5.45V339.65h-5.45zM1463.79 311.02h5.45V307.33h-5.45zM1469.24 300.1h5.45V297.32h-5.45zM1474.69 292.56h5.45V286.8h-5.45zM1480.13 302.55h5.45V300.61h-5.45zM1485.58 312.12h5.45V307.54h-5.45zM1491.03 330.38h5.45V326.83h-5.45zM1496.48 328.1h5.45V326.42h-5.45zM1501.93 320.69h5.45V318.77h-5.45zM1507.38 319.33h5.45V317.01h-5.45zM1512.83 327.64h5.45V326.03h-5.45zM1518.27 325h5.45V322.5h-5.45zM1523.72 321.68h5.45V316.62h-5.45zM1529.17 332.55h5.45V330.74h-5.45zM1534.62 331.38h5.45V329.17h-5.45zM1540.07 324.29h5.45V319.48h-5.45zM1545.52 345.04h5.45V344.79h-5.45zM1550.97 347.01h5.45V346.62h-5.45zM1556.41 339.71h5.45V338.88h-5.45zM1561.86 323.83h5.45V320.8h-5.45zM1567.31 335.97h5.45V335.01h-5.45zM1572.76 338.64h5.45V337.97h-5.45zM1578.21 343.04h5.45V342.62h-5.45zM1583.66 281.78h5.45V276.38h-5.45zM1589.1 315.85h5.45V313.73h-5.45zM1594.55 295.53h5.45V293.29h-5.45zM1600 299.29h5.45V296.67h-5.45zM1605.45 289.44h5.45V286.45h-5.45zM1610.9 321.49h5.45V319.96h-5.45zM1616.35 326.19h5.45V325.58h-5.45zM1621.8 309.13h5.45V304.46h-5.45zM1627.24 323.63h5.45V320.68h-5.45zM1632.69 266.12h5.45V252.57h-5.45zM1638.14 331.46h5.45V330.43h-5.45zM1643.59 334.24h5.45V329.71h-5.45zM1649.04 298.42h5.45V290.11h-5.45zM1654.49 332.2h5.45V329.9h-5.45zM1659.94 329.98h5.45V326.83h-5.45zM1665.38 338.3h5.45V336.55h-5.45zM1670.83 317.29h5.45V312.13h-5.45zM1676.28 323.19h5.45V318.36h-5.45zM1681.73 336.83h5.45V333.07h-5.45zM1687.18 342.3h5.45V341.38h-5.45zM1692.63 327.39h5.45V319.83h-5.45zM1698.08 300.97h5.45V279.79h-5.45zM1703.52 329.6h5.45V327.84h-5.45zM1708.97 328.06h5.45V325.72h-5.45zM1714.42 333.93h5.45V330.91h-5.45zM1719.87 307.64h5.45V303.79h-5.45zM1725.32 315.49h5.45V313.73h-5.45zM1730.77 308.54h5.45V303.97h-5.45zM1736.22 329.78h5.45V329h-5.45zM1741.66 306.58h5.45V304.68h-5.45zM1747.11 334.62h5.45V333.88h-5.45zM1752.56 346.79h5.45V346.58h-5.45zM1758.01 305.22h5.45V300.32h-5.45zM1763.46 336.35h5.45V333.8h-5.45zM1768.91 322.64h5.45V316.62h-5.45zM1774.36 328.96h5.45V327.01h-5.45zM1779.8 324.47h5.45V322.76h-5.45zM1785.25 323.33h5.45V320.37h-5.45zM1790.7 328.87h5.45V326.72h-5.45zM1796.15 320.52h5.45V316.82h-5.45zM1801.6 306.73h5.45V304.18h-5.45zM1807.05 320.58h5.45V319.88h-5.45zM1812.5 330.2h5.45V329.28h-5.45zM1817.94 339.86h5.45V339.2h-5.45zM1823.39 331.44h5.45V329.11h-5.45zM1828.84 333.68h5.45V332.83h-5.45zM1834.29 337.3h5.45V336.71h-5.45zM1839.74 316.2h5.45V314.84h-5.45zM1845.19 332.14h5.45V331.56h-5.45zM1850.63 325.24h5.45V324.28h-5.45zM1856.08 326.2h5.45V325.46h-5.45zM1861.53 328.64h5.45V327.64h-5.45zM1866.98 304.39h5.45V297.46h-5.45zM1872.43 331.17h5.45V328.48h-5.45zM1877.88 310.94h5.45V307.6h-5.45zM1883.33 326.06h5.45V323.49h-5.45zM1888.77 334.76h5.45V333.6h-5.45zM1894.22 314.4h5.45V304.47h-5.45zM1899.67 325h5.45V319.73h-5.45zM1905.12 287.7h5.45V268.75h-5.45zM1910.57 331.21h5.45V327.49h-5.45zM1916.02 325.27h5.45V320.87h-5.45zM1921.47 322.1h5.45V319.61h-5.45zM1926.91 317.18h5.45V315.27h-5.45zM1932.36 296.48h5.45V288.76h-5.45zM1937.81 312.67h5.45V310.02h-5.45zM1943.26 252h5.45V245.27h-5.45zM1948.71 302.45h5.45V298.04h-5.45zM1954.16 309.5h5.45V307.47h-5.45zM1959.61 318.71h5.45V316.65h-5.45zM1965.05 314.19h5.45V311.55h-5.45zM1970.5 291.67h5.45V289.94h-5.45zM1975.95 330.56h5.45V329.03h-5.45z"/>
<path fill="#4a9a5a" d="M314.15 316.61h5.45V316.12h-5.45zM330.49 313.87h5.45V313.48h-5.45zM335.94 311.82h5.45V311.41h-5.45zM488.5 292.72h5.45V292.39h-5.45zM493.95 233.65h5.45V233.18h-5.45zM510.29 294.26h5.45V293.82h-5.45zM646.51 295.87h5.45V295.6h-5.45zM673.75 343.18h5.45V343.01h-5.45zM679.2 330.91h5.45V330.35h-5.45zM684.65 330.57h5.45V330.35h-5.45zM690.1 320.77h5.45V320.49h-5.45zM695.54 288.71h5.45V288.53h-5.45zM700.99 344.97h5.45V344.72h-5.45zM706.44 327.02h5.45V326.35h-5.45zM711.89 320.19h5.45V319.84h-5.45zM717.34 330.43h5.45V330.21h-5.45zM722.79 328.93h5.45V328.57h-5.45zM728.23 287.55h5.45V286.81h-5.45zM733.68 302.32h5.45V301.75h-5.45zM739.13 139.86h5.45V139.23h-5.45zM744.58 304.59h5.45V304.33h-5.45zM750.03 316.91h5.45V316.62h-5.45zM755.48 326.97h5.45V326.63h-5.45zM760.93 277.59h5.45V277.16h-5.45zM766.37 229.54h5.45V228.82h-5.45zM771.82 295.87h5.45V295.6h-5.45zM777.27 311.74h5.45V311.41h-5.45zM782.72 333.54h5.45V333.36h-5.45zM793.62 332.59h5.45V332.14h-5.45zM799.07 331.85h5.45V331.64h-5.45zM804.51 323.13h5.45V322.42h-5.45zM809.96 304.37h5.45V303.97h-5.45zM815.41 308.39h5.45V307.9h-5.45zM820.86 332.34h5.45V332.14h-5.45zM826.31 332.98h5.45V332.78h-5.45zM831.76 322.32h5.45V321.92h-5.45zM837.21 319.71h5.45V319.27h-5.45zM842.65 328.44h5.45V328.06h-5.45zM848.1 326.75h5.45V326.35h-5.45zM853.55 311.92h5.45V311.05h-5.45zM859 325.29h5.45V324.56h-5.45zM864.45 336.69h5.45V336.36h-5.45zM875.35 340.64h5.45V340.36h-5.45zM880.79 324.03h5.45V323.7h-5.45zM886.24 342.37h5.45V342.15h-5.45zM891.69 341.61h5.45V341.22h-5.45zM902.59 312.67h5.45V312.26h-5.45zM908.04 328.44h5.45V328.06h-5.45zM913.49 291.81h5.45V291.53h-5.45zM946.18 343.21h5.45V343.01h-5.45zM1027.9 301.59h5.45V301.4h-5.45zM1055.15 333.88h5.45V333.71h-5.45zM1060.6 320.07h5.45V319.63h-5.45zM1082.39 327.13h5.45V326.85h-5.45zM1136.88 342.18h5.45V341.79h-5.45zM1251.3 288.45h5.45V288.03h-5.45zM1256.74 319.54h5.45V319.27h-5.45zM1278.54 292.26h5.45V292.03h-5.45zM1283.99 272.95h5.45V272.72h-5.45zM1289.43 318.19h5.45V317.91h-5.45zM1294.88 314.26h5.45V314.05h-5.45zM1300.33 250.71h5.45V250.42h-5.45zM1305.78 312.48h5.45V312.26h-5.45zM1311.23 267.68h5.45V267.43h-5.45zM1333.02 322.08h5.45V321.92h-5.45zM1343.92 319.27h5.45V318.91h-5.45zM1371.16 195.54h5.45V195.08h-5.45zM1398.41 293.98h5.45V293.82h-5.45zM1403.85 200.96h5.45V200.37h-5.45zM1414.75 254.06h5.45V253.78h-5.45zM1420.2 292.99h5.45V292.6h-5.45zM1425.65 331.58h5.45V331.21h-5.45zM1431.1 327.73h5.45V327.21h-5.45zM1436.55 308.64h5.45V308.4h-5.45zM1441.99 250.81h5.45V250.42h-5.45zM1447.44 295.57h5.45V295.25h-5.45zM1452.89 310.62h5.45V310.12h-5.45zM1474.69 286.8h5.45V286.24h-5.45zM1480.13 300.61h5.45V300.32h-5.45zM1491.03 326.83h5.45V326.63h-5.45zM1507.38 317.01h5.45V316.62h-5.45zM1512.83 326.03h5.45V325.78h-5.45zM1529.17 330.74h5.45V330.35h-5.45zM1534.62 329.17h5.45V328.57h-5.45zM1540.07 319.48h5.45V319.27h-5.45zM1556.41 338.88h5.45V338.58h-5.45zM1561.86 320.8h5.45V320.2h-5.45zM1567.31 335.01h5.45V334.71h-5.45zM1572.76 337.97h5.45V336.86h-5.45zM1583.66 276.38h5.45V275.87h-5.45zM1589.1 313.73h5.45V313.48h-5.45zM1594.55 293.29h5.45V292.96h-5.45zM1600 296.67h5.45V296.46h-5.45zM1616.35 325.58h5.45V325.42h-5.45zM1627.24 320.68h5.45V320.49h-5.45zM1632.69 252.57h5.45V251.99h-5.45zM1643.59 329.71h5.45V329.5h-5.45zM1649.04 290.11h5.45V289.46h-5.45zM1654.49 329.9h5.45V329.5h-5.45zM1659.94 326.83h5.45V326.63h-5.45zM1670.83 312.13h5.45V311.91h-5.45zM1676.28 318.36h5.45V318.11h-5.45zM1681.73 333.07h5.45V332.43h-5.45zM1687.18 341.38h5.45V341.22h-5.45zM1692.63 319.83h5.45V319.63h-5.45zM1698.08 279.79h5.45V279.37h-5.45zM1703.52 327.84h5.45V327.56h-5.45zM1708.97 325.72h5.45V325.42h-5.45zM1714.42 330.91h5.45V330.71h-5.45zM1719.87 303.79h5.45V303.47h-5.45zM1725.32 313.73h5.45V313.48h-5.45zM1747.11 333.88h5.45V333.71h-5.45zM1774.36 327.01h5.45V326.63h-5.45zM1779.8 322.76h5.45V322.42h-5.45zM1785.25 320.37h5.45V320.06h-5.45zM1807.05 319.88h5.45V319.56h-5.45zM1823.39 329.11h5.45V328.71h-5.45zM1845.19 331.56h5.45V331.28h-5.45zM1856.08 325.46h5.45V325.13h-5.45zM1861.53 327.64h5.45V327.42h-5.45zM1888.77 333.6h5.45V333.43h-5.45zM1899.67 319.73h5.45V319.56h-5.45zM1905.12 268.75h5.45V268.51h-5.45zM1916.02 320.87h5.45V320.56h-5.45zM1932.36 288.76h5.45V288.45h-5.45zM1970.5 289.94h5.45V289.17h-5.45zM1975.95 329.03h5.45V328.71h-5.45z"/>
<path fill="#cfcfcf" d="M1676.28 318.11h5.45V316.62h-5.45z"/>
<path fill="#0e174c" d="M706.44 650.4h5.45V598.5h-5.45zM711.89 650.4h5.45V574.88h-5.45zM717.34 650.4h5.45V589.75h-5.45zM788.17 650.4h5.45V592.08h-5.45zM886.24 650.4h5.45V611.62h-5.45zM897.14 650.4h5.45V594.7h-5.45zM902.59 650.4h5.45V607.83h-5.45zM908.04 650.4h5.45V592.66h-5.45zM913.49 650.4h5.45V571.96h-5.45zM1436.55 650.4h5.45V604.33h-5.45zM1758.01 650.4h5.45V603.45h-5.45z"/>
<path fill="#2f5e3a" d="M297.8 650.4h5.45V618.91h-5.45zM303.25 650.4h5.45V604.33h-5.45zM308.7 650.4h5.45V602.87h-5.45zM314.15 650.4h5.45V600.83h-5.45zM319.59 650.4h5.45V599.37h-5.45zM325.04 650.4h5.45V595.87h-5.45zM330.49 650.4h5.45V592.08h-5.45zM335.94 650.4h5.45V591.21h-5.45zM341.39 650.4h5.45V592.37h-5.45zM346.84 650.4h5.45V590.62h-5.45zM352.29 650.4h5.45V590.04h-5.45zM357.73 650.4h5.45V583.92h-5.45zM363.18 650.4h5.45V588h-5.45zM368.63 650.4h5.45V588h-5.45zM374.08 650.4h5.45V588.58h-5.45zM379.53 650.4h5.45V586.54h-5.45zM384.98 650.4h5.45V587.12h-5.45zM390.43 650.4h5.45V579.54h-5.45zM395.87 650.4h5.45V580.12h-5.45zM401.32 650.4h5.45V581h-5.45zM406.77 650.4h5.45V581h-5.45zM412.22 650.4h5.45V569.92h-5.45zM417.67 650.4h5.45V574h-5.45zM423.12 650.4h5.45V576.92h-5.45zM428.57 650.4h5.45V576.92h-5.45zM434.01 650.4h5.45V576.04h-5.45zM439.46 650.4h5.45V562.05h-5.45zM444.91 650.4h5.45V564.38h-5.45zM450.36 650.4h5.45V564.67h-5.45zM455.81 650.4h5.45V548.92h-5.45zM461.26 650.4h5.45V558.25h-5.45zM466.7 650.4h5.45V555.05h-5.45zM472.15 650.4h5.45V538.72h-5.45zM477.6 650.4h5.45V548.92h-5.45zM483.05 650.4h5.45V609.58h-5.45zM488.5 650.4h5.45V600.24h-5.45zM493.95 650.4h5.45V569.04h-5.45zM499.4 650.4h5.45V576.04h-5.45zM504.84 650.4h5.45V583.04h-5.45zM510.29 650.4h5.45V583.04h-5.45zM515.74 650.4h5.45V573.13h-5.45zM521.19 650.4h5.45V614.53h-5.45zM526.64 650.4h5.45V593.83h-5.45zM532.09 650.4h5.45V588.29h-5.45zM537.54 650.4h5.45V588.58h-5.45zM542.98 650.4h5.45V595.87h-5.45zM548.43 650.4h5.45V599.37h-5.45zM553.88 650.4h5.45V599.95h-5.45zM559.33 650.4h5.45V588h-5.45zM564.78 650.4h5.45V595.29h-5.45zM570.23 650.4h5.45V598.79h-5.45zM575.68 650.4h5.45V584.21h-5.45zM581.12 650.4h5.45V586.54h-5.45zM586.57 650.4h5.45V584.21h-5.45zM592.02 650.4h5.45V596.75h-5.45zM597.47 650.4h5.45V605.2h-5.45zM602.92 650.4h5.45V596.75h-5.45zM608.37 650.4h5.45V614.82h-5.45zM613.82 650.4h5.45V623.86h-5.45zM619.26 650.4h5.45V546.01h-5.45zM624.71 650.4h5.45V556.21h-5.45zM630.16 650.4h5.45V558.84h-5.45zM635.61 650.4h5.45V569.63h-5.45zM641.06 650.4h5.45V572.83h-5.45zM646.51 650.4h5.45V573.71h-5.45zM651.96 650.4h5.45V569.92h-5.45zM657.4 650.4h5.45V572.83h-5.45zM662.85 650.4h5.45V578.96h-5.45zM668.3 650.4h5.45V565.25h-5.45zM673.75 650.4h5.45V553.88h-5.45zM679.2 650.4h5.45V621.82h-5.45zM684.65 650.4h5.45V602.87h-5.45zM690.1 650.4h5.45V599.95h-5.45zM695.54 650.4h5.45V610.74h-5.45zM700.99 650.4h5.45V571.96h-5.45zM706.44 598.5h5.45V586.25h-5.45zM711.89 574.88h5.45V561.75h-5.45zM717.34 589.75h5.45V579.25h-5.45zM722.79 650.4h5.45V632.9h-5.45zM733.68 650.4h5.45V622.7h-5.45zM771.82 650.4h5.45V625.91h-5.45zM777.27 650.4h5.45V630.86h-5.45zM782.72 650.4h5.45V592.08h-5.45zM788.17 592.08h5.45V569.63h-5.45zM793.62 650.4h5.45V581h-5.45zM799.07 650.4h5.45V628.53h-5.45zM809.96 650.4h5.45V613.37h-5.45zM815.41 650.4h5.45V621.24h-5.45zM820.86 650.4h5.45V625.03h-5.45zM826.31 650.4h5.45V629.4h-5.45zM831.76 650.4h5.45V637.57h-5.45zM837.21 650.4h5.45V643.4h-5.45zM853.55 650.4h5.45V639.9h-5.45zM864.45 650.4h5.45V595.58h-5.45zM869.9 650.4h5.45V627.95h-5.45zM875.35 650.4h5.45V623.57h-5.45zM880.79 650.4h5.45V612.49h-5.45zM886.24 611.62h5.45V574h-5.45zM891.69 650.4h5.45V616.57h-5.45zM897.14 594.7h5.45V527.93h-5.45zM902.59 607.83h5.45V584.5h-5.45zM918.93 650.4h5.45V528.8h-5.45zM924.38 650.4h5.45V500.52h-5.45zM929.83 650.4h5.45V525.6h-5.45zM935.28 650.4h5.45V487.98h-5.45zM940.73 650.4h5.45V499.35h-5.45zM946.18 650.4h5.45V476.02h-5.45zM951.63 650.4h5.45V482.73h-5.45zM957.07 650.4h5.45V474.27h-5.45zM962.52 650.4h5.45V555.92h-5.45zM967.97 650.4h5.45V551.26h-5.45zM973.42 650.4h5.45V553.3h-5.45zM978.87 650.4h5.45V577.21h-5.45zM984.32 650.4h5.45V578.67h-5.45zM989.77 650.4h5.45V592.08h-5.45zM995.21 650.4h5.45V574h-5.45zM1000.66 650.4h5.45V582.17h-5.45zM1006.11 650.4h5.45V582.17h-5.45zM1011.56 650.4h5.45V580.12h-5.45zM1017.01 650.4h5.45V585.08h-5.45zM1022.46 650.4h5.45V573.13h-5.45zM1027.9 650.4h5.45V589.75h-5.45zM1033.35 650.4h5.45V583.33h-5.45zM1038.8 650.4h5.45V576.92h-5.45zM1044.25 650.4h5.45V590.04h-5.45zM1049.7 650.4h5.45V555.05h-5.45zM1055.15 650.4h5.45V568.46h-5.45zM1060.6 650.4h5.45V577.21h-5.45zM1066.04 650.4h5.45V551.26h-5.45zM1071.49 650.4h5.45V527.05h-5.45zM1076.94 650.4h5.45V629.99h-5.45zM1082.39 650.4h5.45V566.42h-5.45zM1087.84 650.4h5.45V485.65h-5.45zM1093.29 650.4h5.45V497.31h-5.45zM1098.74 650.4h5.45V494.69h-5.45zM1104.18 650.4h5.45V509.85h-5.45zM1109.63 650.4h5.45V474.27h-5.45zM1115.08 650.4h5.45V492.64h-5.45zM1120.53 650.4h5.45V530.55h-5.45zM1125.98 650.4h5.45V546.01h-5.45zM1131.43 650.4h5.45V525.89h-5.45zM1136.88 650.4h5.45V557.38h-5.45zM1142.32 650.4h5.45V574.88h-5.45zM1147.77 650.4h5.45V559.42h-5.45zM1153.22 650.4h5.45V564.09h-5.45zM1158.67 650.4h5.45V525.01h-5.45zM1164.12 650.4h5.45V539.3h-5.45zM1169.57 650.4h5.45V549.8h-5.45zM1175.02 650.4h5.45V543.38h-5.45zM1180.46 650.4h5.45V549.8h-5.45zM1185.91 650.4h5.45V557.96h-5.45zM1191.36 650.4h5.45V551.55h-5.45zM1196.81 650.4h5.45V499.06h-5.45zM1202.26 650.4h5.45V533.18h-5.45zM1207.71 650.4h5.45V530.84h-5.45zM1213.16 650.4h5.45V540.47h-5.45zM1218.6 650.4h5.45V576.04h-5.45zM1224.05 650.4h5.45V587.12h-5.45zM1229.5 650.4h5.45V522.97h-5.45zM1234.95 650.4h5.45V553.88h-5.45zM1240.4 650.4h5.45V548.92h-5.45zM1245.85 650.4h5.45V500.81h-5.45zM1251.3 650.4h5.45V611.62h-5.45zM1256.74 650.4h5.45V604.62h-5.45zM1262.19 650.4h5.45V601.99h-5.45zM1267.64 650.4h5.45V604.62h-5.45zM1273.09 650.4h5.45V601.99h-5.45zM1278.54 650.4h5.45V615.41h-5.45zM1283.99 650.4h5.45V592.08h-5.45zM1289.43 650.4h5.45V581h-5.45zM1294.88 650.4h5.45V585.96h-5.45zM1300.33 650.4h5.45V579.25h-5.45zM1305.78 650.4h5.45V589.46h-5.45zM1311.23 650.4h5.45V582.75h-5.45zM1316.68 650.4h5.45V581h-5.45zM1322.13 650.4h5.45V577.79h-5.45zM1327.57 650.4h5.45V567h-5.45zM1333.02 650.4h5.45V571.08h-5.45zM1338.47 650.4h5.45V611.62h-5.45zM1343.92 650.4h5.45V592.08h-5.45zM1349.37 650.4h5.45V594.7h-5.45zM1354.82 650.4h5.45V604.62h-5.45zM1360.27 650.4h5.45V598.5h-5.45zM1365.71 650.4h5.45V585.96h-5.45zM1371.16 650.4h5.45V622.7h-5.45zM1376.61 650.4h5.45V600.83h-5.45zM1382.06 650.4h5.45V592.66h-5.45zM1387.51 650.4h5.45V599.37h-5.45zM1392.96 650.4h5.45V600.24h-5.45zM1398.41 650.4h5.45V577.21h-5.45zM1403.85 650.4h5.45V583.62h-5.45zM1409.3 650.4h5.45V581h-5.45zM1414.75 650.4h5.45V585.96h-5.45zM1420.2 650.4h5.45V588.87h-5.45zM1425.65 650.4h5.45V580.12h-5.45zM1431.1 650.4h5.45V631.74h-5.45zM1436.55 604.33h5.45V576.92h-5.45zM1441.99 650.4h5.45V602.58h-5.45zM1447.44 650.4h5.45V595.87h-5.45zM1458.34 650.4h5.45V623.57h-5.45zM1463.79 650.4h5.45V543.67h-5.45zM1469.24 650.4h5.45V530.84h-5.45zM1474.69 650.4h5.45V542.8h-5.45zM1480.13 650.4h5.45V543.67h-5.45zM1485.58 650.4h5.45V549.8h-5.45zM1491.03 650.4h5.45V558.55h-5.45zM1496.48 650.4h5.45V576.04h-5.45zM1501.93 650.4h5.45V527.34h-5.45zM1507.38 650.4h5.45V541.92h-5.45zM1512.83 650.4h5.45V505.47h-5.45zM1518.27 650.4h5.45V492.94h-5.45zM1523.72 650.4h5.45V538.72h-5.45zM1529.17 650.4h5.45V509.85h-5.45zM1534.62 650.4h5.45V503.73h-5.45zM1540.07 650.4h5.45V533.76h-5.45zM1545.52 650.4h5.45V484.77h-5.45zM1550.97 650.4h5.45V514.22h-5.45zM1556.41 650.4h5.45V533.76h-5.45zM1561.86 650.4h5.45V492.94h-5.45zM1567.31 650.4h5.45V488.85h-5.45zM1572.76 650.4h5.45V520.35h-5.45zM1578.21 650.4h5.45V524.72h-5.45zM1583.66 650.4h5.45V593.54h-5.45zM1589.1 650.4h5.45V581.29h-5.45zM1594.55 650.4h5.45V575.75h-5.45zM1600 650.4h5.45V606.95h-5.45zM1605.45 650.4h5.45V611.62h-5.45zM1610.9 650.4h5.45V585.08h-5.45zM1616.35 650.4h5.45V581.87h-5.45zM1621.8 650.4h5.45V560.88h-5.45zM1627.24 650.4h5.45V602.58h-5.45zM1632.69 650.4h5.45V576.92h-5.45zM1638.14 650.4h5.45V523.85h-5.45zM1643.59 650.4h5.45V597.62h-5.45zM1649.04 650.4h5.45V621.82h-5.45zM1654.49 650.4h5.45V578.96h-5.45zM1659.94 650.4h5.45V594.7h-5.45zM1665.38 650.4h5.45V592.66h-5.45zM1670.83 650.4h5.45V597.91h-5.45zM1676.28 650.4h5.45V595.58h-5.45zM1681.73 650.4h5.45V604.33h-5.45zM1687.18 650.4h5.45V546.88h-5.45zM1692.63 650.4h5.45V588h-5.45zM1698.08 650.4h5.45V594.7h-5.45zM1703.52 650.4h5.45V580.71h-5.45zM1708.97 650.4h5.45V576.92h-5.45zM1714.42 650.4h5.45V589.75h-5.45zM1719.87 650.4h5.45V521.8h-5.45zM1725.32 650.4h5.45V521.8h-5.45zM1730.77 650.4h5.45V543.38h-5.45zM1736.22 650.4h5.45V480.11h-5.45zM1741.66 650.4h5.45V503.73h-5.45zM1747.11 650.4h5.45V494.98h-5.45zM1752.56 650.4h5.45V528.8h-5.45zM1758.01 603.45h5.45V517.43h-5.45zM1763.46 650.4h5.45V540.18h-5.45zM1768.91 650.4h5.45V554.76h-5.45zM1774.36 650.4h5.45V569.63h-5.45zM1779.8 650.4h5.45V549.51h-5.45zM1785.25 650.4h5.45V535.8h-5.45zM1790.7 650.4h5.45V525.6h-5.45zM1796.15 650.4h5.45V533.18h-5.45zM1801.6 650.4h5.45V533.18h-5.45zM1807.05 650.4h5.45V548.92h-5.45zM1812.5 650.4h5.45V571.96h-5.45zM1817.94 650.4h5.45V554.76h-5.45zM1823.39 650.4h5.45V582.75h-5.45zM1828.84 650.4h5.45V572.25h-5.45zM1834.29 650.4h5.45V592.66h-5.45zM1839.74 650.4h5.45V550.09h-5.45zM1845.19 650.4h5.45V559.71h-5.45zM1850.63 650.4h5.45V553.88h-5.45zM1856.08 650.4h5.45V553.88h-5.45zM1861.53 650.4h5.45V586.54h-5.45zM1866.98 650.4h5.45V553.59h-5.45zM1872.43 650.4h5.45V573.71h-5.45zM1877.88 650.4h5.45V576.63h-5.45zM1883.33 650.4h5.45V583.92h-5.45zM1888.77 650.4h5.45V569.92h-5.45zM1894.22 650.4h5.45V563.21h-5.45zM1899.67 650.4h5.45V590.91h-5.45zM1905.12 650.4h5.45V620.95h-5.45zM1910.57 650.4h5.45V593.83h-5.45zM1916.02 650.4h5.45V584.5h-5.45zM1921.47 650.4h5.45V559.71h-5.45zM1926.91 650.4h5.45V533.76h-5.45zM1932.36 650.4h5.45V560.3h-5.45zM1937.81 650.4h5.45V539.01h-5.45zM1943.26 650.4h5.45V562.05h-5.45zM1948.71 650.4h5.45V553.3h-5.45zM1954.16 650.4h5.45V520.05h-5.45zM1959.61 650.4h5.45V532.89h-5.45zM1965.05 650.4h5.45V540.47h-5.45zM1970.5 650.4h5.45V570.79h-5.45zM1975.95 650.4h5.45V563.79h-5.45z"/>
<path fill="#7c6c10" d="M668.3 565.25h5.45V433.45h-5.45zM673.75 553.88h5.45V428.49h-5.45zM679.2 621.82h5.45V462.03h-5.45zM684.65 602.87h5.45V520.64h-5.45zM690.1 599.95h5.45V474.86h-5.45zM695.54 610.74h5.45V462.32h-5.45zM700.99 571.96h5.45V441.61h-5.45zM706.44 586.25h5.45V423.83h-5.45zM711.89 561.75h5.45V461.44h-5.45zM717.34 579.25h5.45V456.78h-5.45zM722.79 632.9h5.45V538.72h-5.45zM728.23 650.4h5.45V531.72h-5.45zM733.68 622.7h5.45V535.8h-5.45zM739.13 650.4h5.45V554.76h-5.45zM744.58 650.4h5.45V545.42h-5.45zM750.03 650.4h5.45V538.72h-5.45zM755.48 650.4h5.45V531.72h-5.45zM760.93 650.4h5.45V521.8h-5.45zM766.37 650.4h5.45V540.47h-5.45zM771.82 625.91h5.45V541.92h-5.45zM777.27 630.86h5.45V526.47h-5.45zM782.72 592.08h5.45V508.97h-5.45zM788.17 569.63h5.45V472.52h-5.45zM793.62 581h5.45V464.07h-5.45zM799.07 628.53h5.45V492.64h-5.45zM804.51 650.4h5.45V501.98h-5.45zM809.96 613.37h5.45V473.4h-5.45zM815.41 621.24h5.45V462.9h-5.45zM820.86 625.03h5.45V503.73h-5.45zM826.31 629.4h5.45V527.93h-5.45zM831.76 637.57h5.45V533.76h-5.45zM837.21 643.4h5.45V534.05h-5.45zM842.65 650.4h5.45V505.47h-5.45zM848.1 650.4h5.45V501.39h-5.45zM853.55 639.9h5.45V516.56h-5.45zM859 650.4h5.45V522.97h-5.45zM864.45 595.58h5.45V489.73h-5.45zM869.9 627.95h5.45V484.19h-5.45zM875.35 623.57h5.45V510.14h-5.45zM880.79 612.49h5.45V513.06h-5.45zM886.24 574h5.45V460.57h-5.45zM891.69 616.57h5.45V503.73h-5.45zM897.14 527.93h5.45V454.44h-5.45zM902.59 584.5h5.45V499.06h-5.45zM908.04 592.66h5.45V471.65h-5.45zM913.49 571.96h5.45V451.53h-5.45zM1425.65 580.12h5.45V503.73h-5.45zM1431.1 631.74h5.45V513.06h-5.45zM1436.55 576.92h5.45V501.98h-5.45zM1441.99 602.58h5.45V523.85h-5.45zM1447.44 595.87h5.45V495.85h-5.45zM1452.89 650.4h5.45V504.6h-5.45zM1458.34 623.57h5.45V504.02h-5.45zM1681.73 604.33h5.45V532.59h-5.45z"/>
<path fill="#5ba0cb" d="M297.8 618.91h5.45V358.8h-5.45zM303.25 604.33h5.45V358.8h-5.45zM308.7 602.87h5.45V358.8h-5.45zM314.15 600.83h5.45V363.17h-5.45zM319.59 599.37h5.45V358.8h-5.45zM325.04 595.87h5.45V358.8h-5.45zM330.49 592.08h5.45V362.01h-5.45zM335.94 591.21h5.45V362.01h-5.45zM341.39 592.37h5.45V358.8h-5.45zM346.84 590.62h5.45V359.97h-5.45zM352.29 590.04h5.45V358.8h-5.45zM357.73 583.92h5.45V358.8h-5.45zM363.18 588h5.45V358.8h-5.45zM368.63 588h5.45V358.8h-5.45zM374.08 588.58h5.45V359.97h-5.45zM379.53 586.54h5.45V358.8h-5.45zM384.98 587.12h5.45V358.8h-5.45zM390.43 579.54h5.45V358.8h-5.45zM395.87 580.12h5.45V358.8h-5.45zM401.32 581h5.45V358.8h-5.45zM406.77 581h5.45V358.8h-5.45zM412.22 569.92h5.45V358.8h-5.45zM417.67 574h5.45V358.8h-5.45zM423.12 576.92h5.45V358.8h-5.45zM428.57 576.92h5.45V358.8h-5.45zM434.01 576.04h5.45V358.8h-5.45zM439.46 562.05h5.45V358.8h-5.45zM444.91 564.38h5.45V358.8h-5.45zM450.36 564.67h5.45V358.8h-5.45zM455.81 548.92h5.45V358.8h-5.45zM461.26 558.25h5.45V359.97h-5.45zM466.7 555.05h5.45V358.8h-5.45zM472.15 538.72h5.45V358.8h-5.45zM477.6 548.92h5.45V358.8h-5.45zM483.05 609.58h5.45V402.54h-5.45zM488.5 600.24h5.45V402.54h-5.45zM493.95 569.04h5.45V359.97h-5.45zM499.4 576.04h5.45V358.8h-5.45zM504.84 583.04h5.45V358.8h-5.45zM510.29 583.04h5.45V361.13h-5.45zM515.74 573.13h5.45V358.8h-5.45zM521.19 614.53h5.45V358.8h-5.45zM526.64 593.83h5.45V358.8h-5.45zM532.09 588.29h5.45V358.8h-5.45zM537.54 588.58h5.45V358.8h-5.45zM542.98 595.87h5.45V358.8h-5.45zM548.43 599.37h5.45V358.8h-5.45zM553.88 599.95h5.45V358.8h-5.45zM559.33 588h5.45V358.8h-5.45zM564.78 595.29h5.45V358.8h-5.45zM570.23 598.79h5.45V358.8h-5.45zM575.68 584.21h5.45V358.8h-5.45zM581.12 586.54h5.45V358.8h-5.45zM586.57 584.21h5.45V358.8h-5.45zM592.02 596.75h5.45V358.8h-5.45zM597.47 605.2h5.45V358.8h-5.45zM602.92 596.75h5.45V358.8h-5.45zM608.37 614.82h5.45V358.8h-5.45zM613.82 623.86h5.45V358.8h-5.45zM619.26 546.01h5.45V358.8h-5.45zM624.71 556.21h5.45V358.8h-5.45zM630.16 558.84h5.45V358.8h-5.45zM635.61 569.63h5.45V358.8h-5.45zM641.06 572.83h5.45V358.8h-5.45zM646.51 573.71h5.45V360.26h-5.45zM651.96 569.92h5.45V358.8h-5.45zM657.4 572.83h5.45V358.8h-5.45zM662.85 578.96h5.45V405.46h-5.45zM668.3 433.45h5.45V368.13h-5.45zM673.75 428.49h5.45V367.55h-5.45zM679.2 462.03h5.45V367.55h-5.45zM684.65 520.64h5.45V362.3h-5.45zM690.1 474.86h5.45V361.72h-5.45zM695.54 462.32h5.45V400.21h-5.45zM700.99 441.61h5.45V376.3h-5.45zM706.44 423.83h5.45V367.55h-5.45zM711.89 461.44h5.45V362.3h-5.45zM717.34 456.78h5.45V384.17h-5.45zM722.79 538.72h5.45V364.05h-5.45zM728.23 531.72h5.45V362.3h-5.45zM733.68 535.8h5.45V362.3h-5.45zM739.13 554.76h5.45V359.67h-5.45zM744.58 545.42h5.45V360.55h-5.45zM750.03 538.72h5.45V361.42h-5.45zM755.48 531.72h5.45V363.17h-5.45zM760.93 521.8h5.45V360.55h-5.45zM766.37 540.47h5.45V360.55h-5.45zM771.82 541.92h5.45V360.26h-5.45zM777.27 526.47h5.45V361.42h-5.45zM782.72 508.97h5.45V406.33h-5.45zM788.17 472.52h5.45V359.67h-5.45zM793.62 464.07h5.45V366.67h-5.45zM799.07 492.64h5.45V362.3h-5.45zM804.51 501.98h5.45V373.67h-5.45zM809.96 473.4h5.45V361.42h-5.45zM815.41 462.9h5.45V362.3h-5.45zM820.86 503.73h5.45V362.3h-5.45zM826.31 527.93h5.45V362.3h-5.45zM831.76 533.76h5.45V363.17h-5.45zM837.21 534.05h5.45V363.17h-5.45zM842.65 505.47h5.45V373.67h-5.45zM848.1 501.39h5.45V364.05h-5.45zM853.55 516.56h5.45V365.51h-5.45zM859 522.97h5.45V376h-5.45zM864.45 489.73h5.45V366.67h-5.45zM869.9 484.19h5.45V369.3h-5.45zM875.35 510.14h5.45V397.87h-5.45zM880.79 513.06h5.45V398.46h-5.45zM886.24 460.57h5.45V368.42h-5.45zM891.69 503.73h5.45V373.67h-5.45zM897.14 454.44h5.45V360.55h-5.45zM902.59 499.06h5.45V362.01h-5.45zM908.04 471.65h5.45V364.05h-5.45zM913.49 451.53h5.45V360.26h-5.45zM918.93 528.8h5.45V358.8h-5.45zM924.38 500.52h5.45V358.8h-5.45zM929.83 525.6h5.45V359.67h-5.45zM935.28 487.98h5.45V358.8h-5.45zM940.73 499.35h5.45V359.97h-5.45zM946.18 476.02h5.45V369.01h-5.45zM951.63 482.73h5.45V358.8h-5.45zM957.07 474.27h5.45V359.97h-5.45zM962.52 555.92h5.45V371.05h-5.45zM967.97 551.26h5.45V360.26h-5.45zM973.42 553.3h5.45V358.8h-5.45zM978.87 577.21h5.45V358.8h-5.45zM984.32 578.67h5.45V358.8h-5.45zM989.77 592.08h5.45V358.8h-5.45zM995.21 574h5.45V359.97h-5.45zM1000.66 582.17h5.45V358.8h-5.45zM1006.11 582.17h5.45V358.8h-5.45zM1011.56 580.12h5.45V358.8h-5.45zM1017.01 585.08h5.45V358.8h-5.45zM1022.46 573.13h5.45V358.8h-5.45zM1027.9 589.75h5.45V359.97h-5.45zM1033.35 583.33h5.45V358.8h-5.45zM1038.8 576.92h5.45V358.8h-5.45zM1044.25 590.04h5.45V358.8h-5.45zM1049.7 555.05h5.45V358.8h-5.45zM1055.15 568.46h5.45V362.01h-5.45zM1060.6 577.21h5.45V363.17h-5.45zM1066.04 551.26h5.45V405.75h-5.45zM1071.49 527.05h5.45V359.97h-5.45zM1076.94 629.99h5.45V465.82h-5.45zM1082.39 566.42h5.45V428.49h-5.45zM1087.84 485.65h5.45V358.8h-5.45zM1093.29 497.31h5.45V358.8h-5.45zM1098.74 494.69h5.45V358.8h-5.45zM1104.18 509.85h5.45V358.8h-5.45zM1109.63 474.27h5.45V358.8h-5.45zM1115.08 492.64h5.45V358.8h-5.45zM1120.53 530.55h5.45V358.8h-5.45zM1125.98 546.01h5.45V358.8h-5.45zM1131.43 525.89h5.45V359.97h-5.45zM1136.88 557.38h5.45V374.84h-5.45zM1142.32 574.88h5.45V358.8h-5.45zM1147.77 559.42h5.45V359.97h-5.45zM1153.22 564.09h5.45V358.8h-5.45zM1158.67 525.01h5.45V358.8h-5.45zM1164.12 539.3h5.45V358.8h-5.45zM1169.57 549.8h5.45V359.97h-5.45zM1175.02 543.38h5.45V358.8h-5.45zM1180.46 549.8h5.45V358.8h-5.45zM1185.91 557.96h5.45V358.8h-5.45zM1191.36 551.55h5.45V358.8h-5.45zM1196.81 499.06h5.45V358.8h-5.45zM1202.26 533.18h5.45V358.8h-5.45zM1207.71 530.84h5.45V358.8h-5.45zM1213.16 540.47h5.45V358.8h-5.45zM1218.6 576.04h5.45V358.8h-5.45zM1224.05 587.12h5.45V358.8h-5.45zM1229.5 522.97h5.45V360.55h-5.45zM1234.95 553.88h5.45V358.8h-5.45zM1240.4 548.92h5.45V358.8h-5.45zM1245.85 500.81h5.45V394.67h-5.45zM1251.3 611.62h5.45V418.58h-5.45zM1256.74 604.62h5.45V429.95h-5.45zM1262.19 601.99h5.45V384.75h-5.45zM1267.64 604.62h5.45V394.67h-5.45zM1273.09 601.99h5.45V393.79h-5.45zM1278.54 615.41h5.45V402.83h-5.45zM1283.99 592.08h5.45V385.63h-5.45zM1289.43 581h5.45V394.67h-5.45zM1294.88 585.96h5.45V392.63h-5.45zM1300.33 579.25h5.45V394.38h-5.45zM1305.78 589.46h5.45V393.79h-5.45zM1311.23 582.75h5.45V378.34h-5.45zM1316.68 581h5.45V401.08h-5.45zM1322.13 577.79h5.45V391.75h-5.45zM1327.57 567h5.45V381.25h-5.45zM1333.02 571.08h5.45V380.09h-5.45zM1338.47 611.62h5.45V379.5h-5.45zM1343.92 592.08h5.45V415.95h-5.45zM1349.37 594.7h5.45V432.57h-5.45zM1354.82 604.62h5.45V444.82h-5.45zM1360.27 598.5h5.45V393.79h-5.45zM1365.71 585.96h5.45V392.63h-5.45zM1371.16 622.7h5.45V403.12h-5.45zM1376.61 600.83h5.45V405.75h-5.45zM1382.06 592.66h5.45V384.75h-5.45zM1387.51 599.37h5.45V397h-5.45zM1392.96 600.24h5.45V383.88h-5.45zM1398.41 577.21h5.45V379.5h-5.45zM1403.85 583.62h5.45V390h-5.45zM1409.3 581h5.45V396.12h-5.45zM1414.75 585.96h5.45V426.74h-5.45zM1420.2 588.87h5.45V423.83h-5.45zM1425.65 503.73h5.45V406.62h-5.45zM1431.1 513.06h5.45V405.75h-5.45zM1436.55 501.98h5.45V395.83h-5.45zM1441.99 523.85h5.45V390h-5.45zM1447.44 495.85h5.45V371.63h-5.45zM1452.89 504.6h5.45V375.42h-5.45zM1458.34 504.02h5.45V413.91h-5.45zM1463.79 543.67h5.45V412.45h-5.45zM1469.24 530.84h5.45V385.63h-5.45zM1474.69 542.8h5.45V398.75h-5.45zM1480.13 543.67h5.45V379.8h-5.45zM1485.58 549.8h5.45V416.83h-5.45zM1491.03 558.55h5.45V441.61h-5.45zM1496.48 576.04h5.45V399.62h-5.45zM1501.93 527.34h5.45V387.67h-5.45zM1507.38 541.92h5.45V398.75h-5.45zM1512.83 505.47h5.45V390h-5.45zM1518.27 492.94h5.45V397h-5.45zM1523.72 538.72h5.45V439.86h-5.45zM1529.17 509.85h5.45V408.37h-5.45zM1534.62 503.73h5.45V419.45h-5.45zM1540.07 533.76h5.45V449.2h-5.45zM1545.52 484.77h5.45V408.96h-5.45zM1550.97 514.22h5.45V460.28h-5.45zM1556.41 533.76h5.45V433.74h-5.45zM1561.86 492.94h5.45V417.7h-5.45zM1567.31 488.85h5.45V404h-5.45zM1572.76 520.35h5.45V418.29h-5.45zM1578.21 524.72h5.45V418.58h-5.45zM1583.66 593.54h5.45V401.08h-5.45zM1589.1 581.29h5.45V396.12h-5.45zM1594.55 575.75h5.45V383.29h-5.45zM1600 606.95h5.45V382.42h-5.45zM1605.45 611.62h5.45V385.63h-5.45zM1610.9 585.08h5.45V391.75h-5.45zM1616.35 581.87h5.45V380.67h-5.45zM1621.8 560.88h5.45V413.33h-5.45zM1627.24 602.58h5.45V422.08h-5.45zM1632.69 576.92h5.45V423.54h-5.45zM1638.14 523.85h5.45V387.38h-5.45zM1643.59 597.62h5.45V487.1h-5.45zM1649.04 621.82h5.45V439.57h-5.45zM1654.49 578.96h5.45V420.33h-5.45zM1659.94 594.7h5.45V429.95h-5.45zM1665.38 592.66h5.45V434.62h-5.45zM1670.83 597.91h5.45V436.37h-5.45zM1676.28 595.58h5.45V539.3h-5.45zM1681.73 532.59h5.45V483.9h-5.45zM1687.18 546.88h5.45V462.03h-5.45zM1692.63 588h5.45V487.98h-5.45zM1698.08 594.7h5.45V524.72h-5.45zM1703.52 580.71h5.45V450.65h-5.45zM1708.97 576.92h5.45V431.99h-5.45zM1714.42 589.75h5.45V461.44h-5.45zM1719.87 521.8h5.45V399.62h-5.45zM1725.32 521.8h5.45V382.42h-5.45zM1730.77 543.38h5.45V411.87h-5.45zM1736.22 480.11h5.45V378.92h-5.45zM1741.66 503.73h5.45V378.05h-5.45zM1747.11 494.98h5.45V380.67h-5.45zM1752.56 528.8h5.45V421.49h-5.45zM1758.01 517.43h5.45V401.08h-5.45zM1763.46 540.18h5.45V436.37h-5.45zM1768.91 554.76h5.45V454.15h-5.45zM1774.36 569.63h5.45V455.32h-5.45zM1779.8 549.51h5.45V410.41h-5.45zM1785.25 535.8h5.45V415.95h-5.45zM1790.7 525.6h5.45V402.25h-5.45zM1796.15 533.18h5.45V412.45h-5.45zM1801.6 533.18h5.45V382.42h-5.45zM1807.05 548.92h5.45V397.87h-5.45zM1812.5 571.96h5.45V384.17h-5.45zM1817.94 554.76h5.45V398.75h-5.45zM1823.39 582.75h5.45V429.08h-5.45zM1828.84 572.25h5.45V393.79h-5.45zM1834.29 592.66h5.45V387.09h-5.45zM1839.74 550.09h5.45V375.71h-5.45zM1845.19 559.71h5.45V385.63h-5.45zM1850.63 553.88h5.45V380.67h-5.45zM1856.08 553.88h5.45V383.88h-5.45zM1861.53 586.54h5.45V442.78h-5.45zM1866.98 553.59h5.45V412.75h-5.45zM1872.43 573.71h5.45V425.28h-5.45zM1877.88 576.63h5.45V416.25h-5.45zM1883.33 583.92h5.45V411.58h-5.45zM1888.77 569.92h5.45V404.29h-5.45zM1894.22 563.21h5.45V476.9h-5.45zM1899.67 590.91h5.45V454.74h-5.45zM1905.12 620.95h5.45V532.89h-5.45zM1910.57 593.83h5.45V466.98h-5.45zM1916.02 584.5h5.45V464.65h-5.45zM1921.47 559.71h5.45V405.46h-5.45zM1926.91 533.76h5.45V384.17h-5.45zM1932.36 560.3h5.45V424.12h-5.45zM1937.81 539.01h5.45V391.75h-5.45zM1943.26 562.05h5.45V399.92h-5.45zM1948.71 553.3h5.45V396.42h-5.45zM1954.16 520.05h5.45V384.17h-5.45zM1959.61 532.89h5.45V387.96h-5.45zM1965.05 540.47h5.45V388.54h-5.45zM1970.5 570.79h5.45V392.92h-5.45zM1975.95 563.79h5.45V403.71h-5.45z"/>
<path fill="#8a2a8e" d="M1076.94 465.82h5.45V407.21h-5.45zM1861.53 442.78h5.45V385.63h-5.45z"/>
<path fill="#016b5b" d="M717.34 384.17h5.45V362.3h-5.45z"/>
<path fill="#e6a8ad" d="M1245.85 394.67h5.45V385.92h-5.45zM1251.3 418.58h5.45V393.5h-5.45zM1256.74 429.95h5.45V393.5h-5.45zM1262.19 384.75h5.45V370.17h-5.45zM1267.64 394.67h5.45V378.05h-5.45zM1273.09 393.79h5.45V379.5h-5.45zM1278.54 402.83h5.45V383.29h-5.45zM1283.99 385.63h5.45V372.21h-5.45zM1289.43 394.67h5.45V375.42h-5.45zM1294.88 392.63h5.45V376.3h-5.45zM1300.33 394.38h5.45V378.34h-5.45zM1305.78 393.79h5.45V377.46h-5.45zM1311.23 378.34h5.45V366.96h-5.45zM1316.68 401.08h5.45V382.42h-5.45zM1322.13 391.75h5.45V373.67h-5.45zM1327.57 381.25h5.45V373.09h-5.45zM1333.02 380.09h5.45V366.67h-5.45zM1338.47 379.5h5.45V367.55h-5.45zM1343.92 415.95h5.45V372.21h-5.45zM1349.37 432.57h5.45V399.62h-5.45zM1354.82 444.82h5.45V401.37h-5.45zM1360.27 393.79h5.45V381.54h-5.45zM1365.71 392.63h5.45V378.05h-5.45zM1371.16 403.12h5.45V382.42h-5.45zM1376.61 405.75h5.45V385.63h-5.45zM1382.06 384.75h5.45V368.42h-5.45zM1387.51 397h5.45V379.5h-5.45zM1392.96 383.88h5.45V371.34h-5.45zM1398.41 379.5h5.45V371.34h-5.45zM1403.85 390h5.45V373.67h-5.45zM1409.3 396.12h5.45V374.55h-5.45zM1414.75 426.74h5.45V398.75h-5.45zM1420.2 423.83h5.45V398.75h-5.45zM1425.65 406.62h5.45V387.38h-5.45zM1431.1 405.75h5.45V387.38h-5.45zM1436.55 395.83h5.45V381.54h-5.45zM1441.99 390h5.45V379.5h-5.45zM1458.34 413.91h5.45V387.38h-5.45zM1463.79 412.45h5.45V384.75h-5.45zM1469.24 385.63h5.45V374.55h-5.45zM1474.69 398.75h5.45V388.25h-5.45zM1480.13 379.8h5.45V372.21h-5.45zM1485.58 416.83h5.45V391.17h-5.45zM1491.03 441.61h5.45V408.08h-5.45zM1496.48 399.62h5.45V381.54h-5.45zM1501.93 387.67h5.45V377.46h-5.45zM1507.38 398.75h5.45V383.29h-5.45zM1512.83 390h5.45V382.42h-5.45zM1518.27 397h5.45V387.38h-5.45zM1523.72 439.86h5.45V413.91h-5.45zM1529.17 408.37h5.45V393.5h-5.45zM1534.62 419.45h5.45V399.33h-5.45zM1540.07 449.2h5.45V408.37h-5.45zM1545.52 408.96h5.45V381.54h-5.45zM1550.97 460.28h5.45V422.37h-5.45zM1556.41 433.74h5.45V391.17h-5.45zM1561.86 417.7h5.45V395.83h-5.45zM1567.31 404h5.45V384.75h-5.45zM1572.76 418.29h5.45V402.25h-5.45zM1578.21 418.58h5.45V383.29h-5.45zM1583.66 401.08h5.45V382.42h-5.45zM1589.1 396.12h5.45V378.34h-5.45zM1594.55 383.29h5.45V372.21h-5.45zM1600 382.42h5.45V374.55h-5.45zM1605.45 385.63h5.45V372.8h-5.45zM1610.9 391.75h5.45V375.42h-5.45zM1616.35 380.67h5.45V368.42h-5.45zM1621.8 413.33h5.45V390.29h-5.45zM1627.24 422.08h5.45V391.17h-5.45zM1632.69 423.54h5.45V401.37h-5.45zM1638.14 387.38h5.45V376.3h-5.45zM1643.59 487.1h5.45V430.53h-5.45zM1649.04 439.57h5.45V402.83h-5.45zM1654.49 420.33h5.45V399.62h-5.45zM1659.94 429.95h5.45V402.83h-5.45zM1665.38 434.62h5.45V401.37h-5.45zM1670.83 436.37h5.45V401.37h-5.45zM1676.28 539.3h5.45V481.27h-5.45zM1681.73 483.9h5.45V437.24h-5.45zM1687.18 462.03h5.45V400.5h-5.45zM1692.63 487.98h5.45V436.37h-5.45zM1698.08 524.72h5.45V449.49h-5.45zM1703.52 450.65h5.45V430.53h-5.45zM1708.97 431.99h5.45V391.75h-5.45zM1714.42 461.44h5.45V410.7h-5.45zM1719.87 399.62h5.45V385.63h-5.45zM1725.32 382.42h5.45V375.42h-5.45zM1730.77 411.87h5.45V388.54h-5.45zM1736.22 378.92h5.45V371.34h-5.45zM1741.66 378.05h5.45V371.34h-5.45zM1747.11 380.67h5.45V376.3h-5.45zM1752.56 421.49h5.45V394.38h-5.45zM1758.01 401.08h5.45V388.25h-5.45zM1763.46 436.37h5.45V409.83h-5.45zM1768.91 454.15h5.45V413.33h-5.45zM1774.36 455.32h5.45V419.45h-5.45zM1779.8 410.41h5.45V394.38h-5.45zM1785.25 415.95h5.45V392.04h-5.45zM1790.7 402.25h5.45V388.25h-5.45zM1796.15 412.45h5.45V393.5h-5.45zM1801.6 382.42h5.45V375.42h-5.45zM1807.05 397.87h5.45V387.67h-5.45zM1812.5 384.17h5.45V374.55h-5.45zM1817.94 398.75h5.45V382.42h-5.45zM1823.39 429.08h5.45V398.46h-5.45zM1828.84 393.79h5.45V376.3h-5.45zM1834.29 387.09h5.45V374.55h-5.45zM1839.74 375.71h5.45V370.46h-5.45zM1845.19 385.63h5.45V373.09h-5.45zM1850.63 380.67h5.45V371.92h-5.45zM1856.08 383.88h5.45V371.92h-5.45zM1861.53 385.63h5.45V375.42h-5.45zM1866.98 412.75h5.45V398.17h-5.45zM1872.43 425.28h5.45V398.17h-5.45zM1877.88 416.25h5.45V383.29h-5.45zM1883.33 411.58h5.45V389.13h-5.45zM1888.77 404.29h5.45V384.17h-5.45zM1894.22 476.9h5.45V424.12h-5.45zM1899.67 454.74h5.45V413.04h-5.45zM1905.12 532.89h5.45V428.49h-5.45zM1910.57 466.98h5.45V410.41h-5.45zM1916.02 464.65h5.45V407.5h-5.45zM1921.47 405.46h5.45V384.17h-5.45zM1926.91 384.17h5.45V375.42h-5.45zM1932.36 424.12h5.45V397.58h-5.45zM1937.81 391.75h5.45V379.5h-5.45zM1943.26 399.92h5.45V377.75h-5.45zM1948.71 396.42h5.45V384.17h-5.45zM1954.16 384.17h5.45V373.09h-5.45zM1959.61 387.96h5.45V378.34h-5.45zM1965.05 388.54h5.45V379.5h-5.45zM1970.5 392.92h5.45V382.42h-5.45zM1975.95 403.71h5.45V385.63h-5.45z"/>
<path fill="#b3df69" d="M483.05 402.54h5.45V358.8h-5.45zM488.5 402.54h5.45V360.55h-5.45zM662.85 405.46h5.45V358.8h-5.45zM782.72 406.33h5.45V362.3h-5.45zM875.35 397.87h5.45V368.42h-5.45zM1066.04 405.75h5.45V358.8h-5.45zM1076.94 407.21h5.45V362.59h-5.45zM1082.39 428.49h5.45V386.79h-5.45zM1703.52 430.53h5.45V386.79h-5.45zM1774.36 419.45h5.45V389.42h-5.45z"/>
<path fill="#0b4f9e" d="M695.54 400.21h5.45V373.67h-5.45zM804.51 373.67h5.45V366.67h-5.45zM842.65 373.67h5.45V364.05h-5.45zM859 376h5.45V367.55h-5.45zM880.79 398.46h5.45V373.67h-5.45zM962.52 371.05h5.45V358.8h-5.45zM1082.39 386.79h5.45V370.17h-5.45zM1414.75 398.75h5.45V389.13h-5.45zM1523.72 413.91h5.45V404.58h-5.45zM1676.28 481.27h5.45V438.99h-5.45zM1779.8 394.38h5.45V381.54h-5.45zM1807.05 387.67h5.45V376.3h-5.45zM1970.5 382.42h5.45V371.05h-5.45z"/>
<path fill="#e34f85" d="M695.54 373.67h5.45V359.67h-5.45zM880.79 373.67h5.45V362.59h-5.45zM1082.39 370.17h5.45V362.59h-5.45zM1676.28 438.99h5.45V418.29h-5.45zM1807.05 376.3h5.45V369.01h-5.45z"/>
<path fill="#e41a1c" d="M1245.85 385.92h5.45V370.76h-5.45zM1251.3 393.5h5.45V360.84h-5.45zM1256.74 393.5h5.45V361.42h-5.45zM1262.19 370.17h5.45V359.67h-5.45zM1267.64 378.05h5.45V359.67h-5.45zM1273.09 379.5h5.45V358.8h-5.45zM1278.54 383.29h5.45V359.97h-5.45zM1283.99 372.21h5.45V359.67h-5.45zM1289.43 375.42h5.45V361.42h-5.45zM1294.88 376.3h5.45V360.55h-5.45zM1300.33 378.34h5.45V359.67h-5.45zM1305.78 377.46h5.45V360.55h-5.45zM1311.23 366.96h5.45V359.67h-5.45zM1316.68 382.42h5.45V361.42h-5.45zM1322.13 373.67h5.45V359.67h-5.45zM1327.57 373.09h5.45V358.8h-5.45zM1333.02 366.67h5.45V360.55h-5.45zM1338.47 367.55h5.45V358.8h-5.45zM1343.92 372.21h5.45V362.3h-5.45zM1349.37 399.62h5.45V358.8h-5.45zM1354.82 401.37h5.45V358.8h-5.45zM1360.27 381.54h5.45V358.8h-5.45zM1365.71 378.05h5.45V358.8h-5.45zM1371.16 382.42h5.45V359.67h-5.45zM1376.61 385.63h5.45V358.8h-5.45zM1382.06 368.42h5.45V358.8h-5.45zM1387.51 379.5h5.45V358.8h-5.45zM1392.96 371.34h5.45V358.8h-5.45zM1398.41 371.34h5.45V359.67h-5.45zM1403.85 373.67h5.45V359.97h-5.45zM1409.3 374.55h5.45V358.8h-5.45zM1414.75 389.13h5.45V359.67h-5.45zM1420.2 398.75h5.45V360.84h-5.45zM1425.65 387.38h5.45V364.92h-5.45zM1431.1 387.38h5.45V365.8h-5.45zM1436.55 381.54h5.45V360.55h-5.45zM1441.99 379.5h5.45V359.97h-5.45zM1447.44 371.63h5.45V360.55h-5.45zM1452.89 375.42h5.45V362.59h-5.45zM1458.34 387.38h5.45V363.47h-5.45zM1463.79 384.75h5.45V358.8h-5.45zM1469.24 374.55h5.45V358.8h-5.45zM1474.69 388.25h5.45V361.42h-5.45zM1480.13 372.21h5.45V360.55h-5.45zM1485.58 391.17h5.45V358.8h-5.45zM1491.03 408.08h5.45V361.42h-5.45zM1496.48 381.54h5.45V359.67h-5.45zM1501.93 377.46h5.45V358.8h-5.45zM1507.38 383.29h5.45V362.3h-5.45zM1512.83 382.42h5.45V362.01h-5.45zM1518.27 387.38h5.45V359.67h-5.45zM1523.72 404.58h5.45V358.8h-5.45zM1529.17 393.5h5.45V364.92h-5.45zM1534.62 399.33h5.45V367.55h-5.45zM1540.07 408.37h5.45V360.84h-5.45zM1545.52 381.54h5.45V363.76h-5.45zM1550.97 422.37h5.45V372.8h-5.45zM1556.41 391.17h5.45V367.55h-5.45zM1561.86 395.83h5.45V364.92h-5.45zM1567.31 384.75h5.45V364.92h-5.45zM1572.76 402.25h5.45V385.92h-5.45zM1578.21 383.29h5.45V364.05h-5.45zM1583.66 382.42h5.45V360.84h-5.45zM1589.1 378.34h5.45V360.84h-5.45zM1594.55 372.21h5.45V360.55h-5.45zM1600 374.55h5.45V359.97h-5.45zM1605.45 372.8h5.45V358.8h-5.45zM1610.9 375.42h5.45V359.97h-5.45zM1616.35 368.42h5.45V360.84h-5.45zM1621.8 390.29h5.45V359.67h-5.45zM1627.24 391.17h5.45V360.84h-5.45zM1632.69 401.37h5.45V360.55h-5.45zM1638.14 376.3h5.45V359.97h-5.45zM1643.59 430.53h5.45V362.01h-5.45zM1649.04 402.83h5.45V362.01h-5.45zM1654.49 399.62h5.45V364.92h-5.45zM1659.94 402.83h5.45V361.42h-5.45zM1665.38 401.37h5.45V359.97h-5.45zM1670.83 401.37h5.45V360.55h-5.45zM1676.28 418.29h5.45V374.55h-5.45zM1681.73 437.24h5.45V370.17h-5.45zM1687.18 400.5h5.45V364.92h-5.45zM1692.63 436.37h5.45V360.84h-5.45zM1698.08 449.49h5.45V360.55h-5.45zM1703.52 386.79h5.45V362.59h-5.45zM1708.97 391.75h5.45V362.59h-5.45zM1714.42 410.7h5.45V362.01h-5.45zM1719.87 385.63h5.45V360.84h-5.45zM1725.32 375.42h5.45V360.84h-5.45zM1730.77 388.54h5.45V358.8h-5.45zM1736.22 371.34h5.45V359.97h-5.45zM1741.66 371.34h5.45V358.8h-5.45zM1747.11 376.3h5.45V362.01h-5.45zM1752.56 394.38h5.45V367.55h-5.45zM1758.01 388.25h5.45V358.8h-5.45zM1763.46 409.83h5.45V360.55h-5.45zM1768.91 413.33h5.45V358.8h-5.45zM1774.36 389.42h5.45V363.76h-5.45zM1779.8 381.54h5.45V362.59h-5.45zM1785.25 392.04h5.45V362.01h-5.45zM1790.7 388.25h5.45V359.97h-5.45zM1796.15 393.5h5.45V359.97h-5.45zM1801.6 375.42h5.45V358.8h-5.45zM1807.05 369.01h5.45V362.01h-5.45zM1812.5 374.55h5.45V360.84h-5.45zM1817.94 382.42h5.45V362.59h-5.45zM1823.39 398.46h5.45V364.63h-5.45zM1828.84 376.3h5.45V360.84h-5.45zM1834.29 374.55h5.45V360.26h-5.45zM1839.74 370.46h5.45V358.8h-5.45zM1845.19 373.09h5.45V363.47h-5.45zM1850.63 371.92h5.45V360.55h-5.45zM1856.08 371.92h5.45V362.88h-5.45zM1861.53 375.42h5.45V361.72h-5.45zM1866.98 398.17h5.45V358.8h-5.45zM1872.43 398.17h5.45V359.67h-5.45zM1877.88 383.29h5.45V359.67h-5.45zM1883.33 389.13h5.45V359.67h-5.45zM1888.77 384.17h5.45V362.01h-5.45zM1894.22 424.12h5.45V358.8h-5.45zM1899.67 413.04h5.45V360.55h-5.45zM1905.12 428.49h5.45V359.67h-5.45zM1910.57 410.41h5.45V359.67h-5.45zM1916.02 407.5h5.45V362.01h-5.45zM1921.47 384.17h5.45V359.38h-5.45zM1926.91 375.42h5.45V358.8h-5.45zM1932.36 397.58h5.45V360.26h-5.45zM1937.81 379.5h5.45V359.67h-5.45zM1943.26 377.75h5.45V358.8h-5.45zM1948.71 384.17h5.45V358.8h-5.45zM1954.16 373.09h5.45V358.8h-5.45zM1959.61 378.34h5.45V359.67h-5.45zM1965.05 379.5h5.45V358.8h-5.45zM1970.5 371.05h5.45V362.59h-5.45zM1975.95 385.63h5.45V363.47h-5.45z"/>
<path fill="#4a9a5a" d="M314.15 363.17h5.45V358.8h-5.45zM330.49 362.01h5.45V358.8h-5.45zM335.94 362.01h5.45V358.8h-5.45zM346.84 359.97h5.45V358.8h-5.45zM374.08 359.97h5.45V358.8h-5.45zM461.26 359.97h5.45V358.8h-5.45zM488.5 360.55h5.45V358.8h-5.45zM493.95 359.97h5.45V358.8h-5.45zM510.29 361.13h5.45V358.8h-5.45zM646.51 360.26h5.45V358.8h-5.45zM668.3 368.13h5.45V358.8h-5.45zM673.75 367.55h5.45V358.8h-5.45zM679.2 367.55h5.45V358.8h-5.45zM684.65 362.3h5.45V358.8h-5.45zM690.1 361.72h5.45V358.8h-5.45zM695.54 359.67h5.45V358.8h-5.45zM700.99 376.3h5.45V358.8h-5.45zM706.44 367.55h5.45V358.8h-5.45zM711.89 362.3h5.45V358.8h-5.45zM717.34 362.3h5.45V358.8h-5.45zM722.79 364.05h5.45V358.8h-5.45zM728.23 362.3h5.45V358.8h-5.45zM733.68 362.3h5.45V358.8h-5.45zM739.13 359.67h5.45V358.8h-5.45zM744.58 360.55h5.45V358.8h-5.45zM750.03 361.42h5.45V358.8h-5.45zM755.48 363.17h5.45V358.8h-5.45zM760.93 360.55h5.45V358.8h-5.45zM766.37 360.55h5.45V358.8h-5.45zM771.82 360.26h5.45V358.8h-5.45zM777.27 361.42h5.45V358.8h-5.45zM782.72 362.3h5.45V358.8h-5.45zM788.17 359.67h5.45V358.8h-5.45zM793.62 366.67h5.45V358.8h-5.45zM799.07 362.3h5.45V358.8h-5.45zM804.51 366.67h5.45V358.8h-5.45zM809.96 361.42h5.45V358.8h-5.45zM815.41 362.3h5.45V358.8h-5.45zM820.86 362.3h5.45V358.8h-5.45zM826.31 362.3h5.45V358.8h-5.45zM831.76 363.17h5.45V358.8h-5.45zM837.21 363.17h5.45V358.8h-5.45zM842.65 364.05h5.45V358.8h-5.45zM848.1 364.05h5.45V358.8h-5.45zM853.55 365.51h5.45V358.8h-5.45zM859 367.55h5.45V358.8h-5.45zM864.45 366.67h5.45V358.8h-5.45zM869.9 369.3h5.45V358.8h-5.45zM875.35 368.42h5.45V358.8h-5.45zM880.79 362.59h5.45V358.8h-5.45zM886.24 368.42h5.45V358.8h-5.45zM891.69 373.67h5.45V358.8h-5.45zM897.14 360.55h5.45V358.8h-5.45zM902.59 362.01h5.45V358.8h-5.45zM908.04 364.05h5.45V358.8h-5.45zM913.49 360.26h5.45V358.8h-5.45zM929.83 359.67h5.45V358.8h-5.45zM940.73 359.97h5.45V358.8h-5.45zM946.18 369.01h5.45V358.8h-5.45zM957.07 359.97h5.45V358.8h-5.45zM967.97 360.26h5.45V358.8h-5.45zM995.21 359.97h5.45V358.8h-5.45zM1027.9 359.97h5.45V358.8h-5.45zM1055.15 362.01h5.45V358.8h-5.45zM1060.6 363.17h5.45V358.8h-5.45zM1071.49 359.97h5.45V358.8h-5.45zM1076.94 362.59h5.45V358.8h-5.45zM1082.39 362.59h5.45V358.8h-5.45zM1131.43 359.97h5.45V358.8h-5.45zM1136.88 374.84h5.45V358.8h-5.45zM1147.77 359.97h5.45V358.8h-5.45zM1169.57 359.97h5.45V358.8h-5.45zM1229.5 360.55h5.45V358.8h-5.45zM1245.85 370.76h5.45V358.8h-5.45zM1251.3 360.84h5.45V358.8h-5.45zM1256.74 361.42h5.45V358.8h-5.45zM1262.19 359.67h5.45V358.8h-5.45zM1267.64 359.67h5.45V358.8h-5.45zM1278.54 359.97h5.45V358.8h-5.45zM1283.99 359.67h5.45V358.8h-5.45zM1289.43 361.42h5.45V358.8h-5.45zM1294.88 360.55h5.45V358.8h-5.45zM1300.33 359.67h5.45V358.8h-5.45zM1305.78 360.55h5.45V358.8h-5.45zM1311.23 359.67h5.45V358.8h-5.45zM1316.68 361.42h5.45V358.8h-5.45zM1322.13 359.67h5.45V358.8h-5.45zM1333.02 360.55h5.45V358.8h-5.45zM1343.92 362.3h5.45V358.8h-5.45zM1371.16 359.67h5.45V358.8h-5.45zM1398.41 359.67h5.45V358.8h-5.45zM1403.85 359.97h5.45V358.8h-5.45zM1414.75 359.67h5.45V358.8h-5.45zM1420.2 360.84h5.45V358.8h-5.45zM1425.65 364.92h5.45V358.8h-5.45zM1431.1 365.8h5.45V358.8h-5.45zM1436.55 360.55h5.45V358.8h-5.45zM1441.99 359.97h5.45V358.8h-5.45zM1447.44 360.55h5.45V358.8h-5.45zM1452.89 362.59h5.45V358.8h-5.45zM1458.34 363.47h5.45V358.8h-5.45zM1474.69 361.42h5.45V358.8h-5.45zM1480.13 360.55h5.45V358.8h-5.45zM1491.03 361.42h5.45V358.8h-5.45zM1496.48 359.67h5.45V358.8h-5.45zM1507.38 362.3h5.45V358.8h-5.45zM1512.83 362.01h5.45V358.8h-5.45zM1518.27 359.67h5.45V358.8h-5.45zM1529.17 364.92h5.45V358.8h-5.45zM1534.62 367.55h5.45V358.8h-5.45zM1540.07 360.84h5.45V358.8h-5.45zM1545.52 363.76h5.45V358.8h-5.45zM1550.97 372.8h5.45V358.8h-5.45zM1556.41 367.55h5.45V358.8h-5.45zM1561.86 364.92h5.45V358.8h-5.45zM1567.31 364.92h5.45V358.8h-5.45zM1572.76 385.92h5.45V358.8h-5.45zM1578.21 364.05h5.45V358.8h-5.45zM1583.66 360.84h5.45V358.8h-5.45zM1589.1 360.84h5.45V358.8h-5.45zM1594.55 360.55h5.45V358.8h-5.45zM1600 359.97h5.45V358.8h-5.45zM1610.9 359.97h5.45V358.8h-5.45zM1616.35 360.84h5.45V358.8h-5.45zM1621.8 359.67h5.45V358.8h-5.45zM1627.24 360.84h5.45V358.8h-5.45zM1632.69 360.55h5.45V358.8h-5.45zM1638.14 359.97h5.45V358.8h-5.45zM1643.59 362.01h5.45V358.8h-5.45zM1649.04 362.01h5.45V358.8h-5.45zM1654.49 364.92h5.45V358.8h-5.45zM1659.94 361.42h5.45V358.8h-5.45zM1665.38 359.97h5.45V358.8h-5.45zM1670.83 360.55h5.45V358.8h-5.45zM1676.28 374.55h5.45V372.21h-5.45zM1681.73 370.17h5.45V358.8h-5.45zM1687.18 364.92h5.45V358.8h-5.45zM1692.63 360.84h5.45V358.8h-5.45zM1698.08 360.55h5.45V358.8h-5.45zM1703.52 362.59h5.45V358.8h-5.45zM1708.97 362.59h5.45V358.8h-5.45zM1714.42 362.01h5.45V358.8h-5.45zM1719.87 360.84h5.45V358.8h-5.45zM1725.32 360.84h5.45V358.8h-5.45zM1736.22 359.97h5.45V358.8h-5.45zM1747.11 362.01h5.45V358.8h-5.45zM1752.56 367.55h5.45V358.8h-5.45zM1763.46 360.55h5.45V358.8h-5.45zM1774.36 363.76h5.45V358.8h-5.45zM1779.8 362.59h5.45V358.8h-5.45zM1785.25 362.01h5.45V358.8h-5.45zM1790.7 359.97h5.45V358.8h-5.45zM1796.15 359.97h5.45V358.8h-5.45zM1807.05 362.01h5.45V358.8h-5.45zM1812.5 360.84h5.45V358.8h-5.45zM1817.94 362.59h5.45V358.8h-5.45zM1823.39 364.63h5.45V358.8h-5.45zM1828.84 360.84h5.45V358.8h-5.45zM1834.29 360.26h5.45V358.8h-5.45zM1845.19 363.47h5.45V358.8h-5.45zM1850.63 360.55h5.45V358.8h-5.45zM1856.08 362.88h5.45V358.8h-5.45zM1861.53 361.72h5.45V358.8h-5.45zM1872.43 359.67h5.45V358.8h-5.45zM1877.88 359.67h5.45V358.8h-5.45zM1883.33 359.67h5.45V358.8h-5.45zM1888.77 362.01h5.45V358.8h-5.45zM1899.67 360.55h5.45V358.8h-5.45zM1905.12 359.67h5.45V358.8h-5.45zM1910.57 359.67h5.45V358.8h-5.45zM1916.02 362.01h5.45V358.8h-5.45zM1921.47 359.38h5.45V358.8h-5.45zM1932.36 360.26h5.45V358.8h-5.45zM1937.81 359.67h5.45V358.8h-5.45zM1959.61 359.67h5.45V358.8h-5.45zM1970.5 362.59h5.45V358.8h-5.45zM1975.95 363.47h5.45V358.8h-5.45z"/>
<path fill="#cfcfcf" d="M1676.28 372.21h5.45V358.8h-5.45z"/>
</g>
<path fill="#f5e823" d="M297.8 662h5.5v13.3h-5.5zM434.01 662h5.5v13.3h-5.5zM564.78 662h5.5v13.3h-5.5zM668.3 662h5.5v13.3h-5.5zM679.2 662h5.5v13.3h-5.5zM706.44 662h5.5v13.3h-5.5zM717.34 662h5.5v13.3h-5.5zM880.79 662h5.5v13.3h-5.5zM989.77 662h5.5v13.3h-5.5zM1087.84 662h5.5v13.3h-5.5zM1120.53 662h5.5v13.3h-5.5zM1316.68 662h5.5v13.3h-5.5zM1322.13 662h5.5v13.3h-5.5zM1561.86 662h5.5v13.3h-5.5zM1589.1 662h5.5v13.3h-5.5zM1605.45 662h5.5v13.3h-5.5zM1649.04 662h5.5v13.3h-5.5zM1665.38 662h5.5v13.3h-5.5zM1763.46 662h5.5v13.3h-5.5zM1828.84 662h5.5v13.3h-5.5zM1877.88 662h5.5v13.3h-5.5zM1894.22 662h5.5v13.3h-5.5z"/>
<path fill="#f5e723" d="M303.25 662h5.5v13.3h-5.5zM352.29 662h5.5v13.3h-5.5zM384.98 662h5.5v13.3h-5.5zM608.37 662h5.5v13.3h-5.5zM646.51 662h5.5v13.3h-5.5zM722.79 662h5.5v13.3h-5.5zM782.72 662h5.5v13.3h-5.5zM984.32 662h5.5v13.3h-5.5zM1164.12 662h5.5v13.3h-5.5zM1185.91 662h5.5v13.3h-5.5z"/>
<path fill="#f4ea22" d="M308.7 662h5.5v13.3h-5.5zM357.73 662h5.5v13.3h-5.5zM379.53 662h5.5v13.3h-5.5zM406.77 662h5.5v13.3h-5.5zM428.57 662h5.5v13.3h-5.5zM461.26 662h5.5v13.3h-5.5zM809.96 662h5.5v13.3h-5.5zM1153.22 662h5.5v13.3h-5.5zM1283.99 662h5.5v13.3h-5.5zM1300.33 662h5.5v13.3h-5.5zM1305.78 662h5.5v13.3h-5.5zM1409.3 662h5.5v13.3h-5.5zM1480.13 662h5.5v13.3h-5.5zM1610.9 662h5.5v13.3h-5.5zM1621.8 662h5.5v13.3h-5.5zM1654.49 662h5.5v13.3h-5.5zM1659.94 662h5.5v13.3h-5.5zM1681.73 662h5.5v13.3h-5.5zM1698.08 662h5.5v13.3h-5.5zM1719.87 662h5.5v13.3h-5.5zM1774.36 662h5.5v13.3h-5.5zM1807.05 662h5.5v13.3h-5.5zM1845.19 662h5.5v13.3h-5.5zM1916.02 662h5.5v13.3h-5.5zM1921.47 662h5.5v13.3h-5.5zM1943.26 662h5.5v13.3h-5.5zM1970.5 662h5.5v13.3h-5.5z"/>
<path fill="#f6e223" d="M314.15 662h5.5v13.3h-5.5zM444.91 662h5.5v13.3h-5.5zM537.54 662h5.5v13.3h-5.5zM575.68 662h5.5v13.3h-5.5zM951.63 662h5.5v13.3h-5.5zM1000.66 662h5.5v13.3h-5.5zM1093.29 662h5.5v13.3h-5.5zM1147.77 662h5.5v13.3h-5.5zM1447.44 662h5.5v13.3h-5.5zM1469.24 662h5.5v13.3h-5.5z"/>
<path fill="#f9d924" d="M319.59 662h5.5v13.3h-5.5zM510.29 662h5.5v13.3h-5.5zM586.57 662h5.5v13.3h-5.5z"/>
<path fill="#f7df23" d="M325.04 662h5.5v13.3h-5.5zM363.18 662h5.5v13.3h-5.5zM515.74 662h5.5v13.3h-5.5zM635.61 662h5.5v13.3h-5.5zM695.54 662h5.5v13.3h-5.5zM886.24 662h5.5v13.3h-5.5zM1207.71 662h5.5v13.3h-5.5zM1234.95 662h5.5v13.3h-5.5zM1382.06 662h5.5v13.3h-5.5z"/>
<path fill="#f3ef22" d="M330.49 662h5.5v13.3h-5.5zM368.63 662h5.5v13.3h-5.5zM423.12 662h5.5v13.3h-5.5zM532.09 662h5.5v13.3h-5.5zM542.98 662h5.5v13.3h-5.5zM548.43 662h5.5v13.3h-5.5zM559.33 662h5.5v13.3h-5.5zM766.37 662h5.5v13.3h-5.5zM826.31 662h5.5v13.3h-5.5zM891.69 662h5.5v13.3h-5.5zM929.83 662h5.5v13.3h-5.5zM967.97 662h5.5v13.3h-5.5zM1071.49 662h5.5v13.3h-5.5zM1109.63 662h5.5v13.3h-5.5zM1142.32 662h5.5v13.3h-5.5zM1251.3 662h5.5v13.3h-5.5zM1349.37 662h5.5v13.3h-5.5zM1365.71 662h5.5v13.3h-5.5zM1496.48 662h5.5v13.3h-5.5zM1529.17 662h5.5v13.3h-5.5zM1540.07 662h5.5v13.3h-5.5zM1545.52 662h5.5v13.3h-5.5zM1550.97 662h5.5v13.3h-5.5zM1572.76 662h5.5v13.3h-5.5zM1785.25 662h5.5v13.3h-5.5zM1834.29 662h5.5v13.3h-5.5zM1861.53 662h5.5v13.3h-5.5zM1975.95 662h5.5v13.3h-5.5z"/>
<path fill="#f7e023" d="M335.94 662h5.5v13.3h-5.5zM390.43 662h5.5v13.3h-5.5zM526.64 662h5.5v13.3h-5.5zM570.23 662h5.5v13.3h-5.5zM641.06 662h5.5v13.3h-5.5zM815.41 662h5.5v13.3h-5.5zM820.86 662h5.5v13.3h-5.5zM1098.74 662h5.5v13.3h-5.5zM1196.81 662h5.5v13.3h-5.5zM1294.88 662h5.5v13.3h-5.5z"/>
<path fill="#f3f022" d="M341.39 662h5.5v13.3h-5.5zM477.6 662h5.5v13.3h-5.5zM875.35 662h5.5v13.3h-5.5zM924.38 662h5.5v13.3h-5.5zM973.42 662h5.5v13.3h-5.5zM1066.04 662h5.5v13.3h-5.5zM1082.39 662h5.5v13.3h-5.5zM1213.16 662h5.5v13.3h-5.5zM1273.09 662h5.5v13.3h-5.5zM1703.52 662h5.5v13.3h-5.5zM1725.32 662h5.5v13.3h-5.5zM1758.01 662h5.5v13.3h-5.5zM1839.74 662h5.5v13.3h-5.5zM1856.08 662h5.5v13.3h-5.5zM1866.98 662h5.5v13.3h-5.5zM1937.81 662h5.5v13.3h-5.5z"/>
<path fill="#f4eb22" d="M346.84 662h5.5v13.3h-5.5zM395.87 662h5.5v13.3h-5.5zM472.15 662h5.5v13.3h-5.5zM624.71 662h5.5v13.3h-5.5zM690.1 662h5.5v13.3h-5.5zM799.07 662h5.5v13.3h-5.5zM831.76 662h5.5v13.3h-5.5zM853.55 662h5.5v13.3h-5.5zM869.9 662h5.5v13.3h-5.5zM962.52 662h5.5v13.3h-5.5zM1044.25 662h5.5v13.3h-5.5zM1136.88 662h5.5v13.3h-5.5zM1169.57 662h5.5v13.3h-5.5zM1240.4 662h5.5v13.3h-5.5zM1267.64 662h5.5v13.3h-5.5zM1376.61 662h5.5v13.3h-5.5zM1441.99 662h5.5v13.3h-5.5zM1501.93 662h5.5v13.3h-5.5zM1567.31 662h5.5v13.3h-5.5zM1632.69 662h5.5v13.3h-5.5zM1779.8 662h5.5v13.3h-5.5zM1812.5 662h5.5v13.3h-5.5zM1823.39 662h5.5v13.3h-5.5zM1905.12 662h5.5v13.3h-5.5zM1926.91 662h5.5v13.3h-5.5z"/>
<path fill="#f6e323" d="M374.08 662h5.5v13.3h-5.5zM417.67 662h5.5v13.3h-5.5zM777.27 662h5.5v13.3h-5.5zM946.18 662h5.5v13.3h-5.5zM1022.46 662h5.5v13.3h-5.5zM1708.97 662h5.5v13.3h-5.5zM1768.91 662h5.5v13.3h-5.5z"/>
<path fill="#f4ec22" d="M401.32 662h5.5v13.3h-5.5zM455.81 662h5.5v13.3h-5.5zM592.02 662h5.5v13.3h-5.5zM908.04 662h5.5v13.3h-5.5zM978.87 662h5.5v13.3h-5.5zM1006.11 662h5.5v13.3h-5.5zM1011.56 662h5.5v13.3h-5.5zM1033.35 662h5.5v13.3h-5.5zM1049.7 662h5.5v13.3h-5.5zM1060.6 662h5.5v13.3h-5.5zM1180.46 662h5.5v13.3h-5.5zM1333.02 662h5.5v13.3h-5.5zM1343.92 662h5.5v13.3h-5.5zM1354.82 662h5.5v13.3h-5.5zM1414.75 662h5.5v13.3h-5.5zM1420.2 662h5.5v13.3h-5.5zM1452.89 662h5.5v13.3h-5.5zM1458.34 662h5.5v13.3h-5.5zM1485.58 662h5.5v13.3h-5.5zM1534.62 662h5.5v13.3h-5.5zM1600 662h5.5v13.3h-5.5zM1687.18 662h5.5v13.3h-5.5zM1736.22 662h5.5v13.3h-5.5zM1747.11 662h5.5v13.3h-5.5zM1883.33 662h5.5v13.3h-5.5z"/>
<path fill="#f3ed22" d="M412.22 662h5.5v13.3h-5.5zM483.05 662h5.5v13.3h-5.5zM504.84 662h5.5v13.3h-5.5zM597.47 662h5.5v13.3h-5.5zM602.92 662h5.5v13.3h-5.5zM733.68 662h5.5v13.3h-5.5zM902.59 662h5.5v13.3h-5.5zM918.93 662h5.5v13.3h-5.5zM1055.15 662h5.5v13.3h-5.5zM1327.57 662h5.5v13.3h-5.5zM1371.16 662h5.5v13.3h-5.5zM1431.1 662h5.5v13.3h-5.5zM1491.03 662h5.5v13.3h-5.5zM1512.83 662h5.5v13.3h-5.5zM1523.72 662h5.5v13.3h-5.5zM1578.21 662h5.5v13.3h-5.5zM1643.59 662h5.5v13.3h-5.5zM1730.77 662h5.5v13.3h-5.5zM1817.94 662h5.5v13.3h-5.5zM1872.43 662h5.5v13.3h-5.5zM1888.77 662h5.5v13.3h-5.5z"/>
<path fill="#f3ee22" d="M439.46 662h5.5v13.3h-5.5zM613.82 662h5.5v13.3h-5.5zM619.26 662h5.5v13.3h-5.5zM750.03 662h5.5v13.3h-5.5zM771.82 662h5.5v13.3h-5.5zM837.21 662h5.5v13.3h-5.5zM848.1 662h5.5v13.3h-5.5zM864.45 662h5.5v13.3h-5.5zM1017.01 662h5.5v13.3h-5.5zM1038.8 662h5.5v13.3h-5.5zM1229.5 662h5.5v13.3h-5.5zM1403.85 662h5.5v13.3h-5.5zM1556.41 662h5.5v13.3h-5.5zM1583.66 662h5.5v13.3h-5.5zM1594.55 662h5.5v13.3h-5.5zM1638.14 662h5.5v13.3h-5.5zM1676.28 662h5.5v13.3h-5.5zM1752.56 662h5.5v13.3h-5.5zM1801.6 662h5.5v13.3h-5.5zM1910.57 662h5.5v13.3h-5.5z"/>
<path fill="#f8db24" d="M450.36 662h5.5v13.3h-5.5z"/>
<path fill="#f3ec22" d="M466.7 662h5.5v13.3h-5.5z"/>
<path fill="#f6e423" d="M488.5 662h5.5v13.3h-5.5zM630.16 662h5.5v13.3h-5.5zM793.62 662h5.5v13.3h-5.5zM842.65 662h5.5v13.3h-5.5zM1104.18 662h5.5v13.3h-5.5zM1115.08 662h5.5v13.3h-5.5z"/>
<path fill="#f2f022" d="M493.95 662h5.5v13.3h-5.5zM684.65 662h5.5v13.3h-5.5zM728.23 662h5.5v13.3h-5.5zM760.93 662h5.5v13.3h-5.5zM804.51 662h5.5v13.3h-5.5zM1125.98 662h5.5v13.3h-5.5zM1191.36 662h5.5v13.3h-5.5zM1360.27 662h5.5v13.3h-5.5zM1425.65 662h5.5v13.3h-5.5zM1436.55 662h5.5v13.3h-5.5zM1627.24 662h5.5v13.3h-5.5zM1714.42 662h5.5v13.3h-5.5zM1948.71 662h5.5v13.3h-5.5z"/>
<path fill="#f4e922" d="M499.4 662h5.5v13.3h-5.5zM581.12 662h5.5v13.3h-5.5zM700.99 662h5.5v13.3h-5.5zM755.48 662h5.5v13.3h-5.5zM1076.94 662h5.5v13.3h-5.5zM1218.6 662h5.5v13.3h-5.5zM1278.54 662h5.5v13.3h-5.5zM1289.43 662h5.5v13.3h-5.5zM1311.23 662h5.5v13.3h-5.5zM1392.96 662h5.5v13.3h-5.5zM1507.38 662h5.5v13.3h-5.5zM1741.66 662h5.5v13.3h-5.5zM1850.63 662h5.5v13.3h-5.5zM1899.67 662h5.5v13.3h-5.5zM1932.36 662h5.5v13.3h-5.5zM1954.16 662h5.5v13.3h-5.5z"/>
<path fill="#f6e523" d="M521.19 662h5.5v13.3h-5.5zM744.58 662h5.5v13.3h-5.5zM859 662h5.5v13.3h-5.5zM897.14 662h5.5v13.3h-5.5z"/>
<path fill="#f7e223" d="M553.88 662h5.5v13.3h-5.5z"/>
<path fill="#fad624" d="M651.96 662h5.5v13.3h-5.5z"/>
<path fill="#f7e123" d="M657.4 662h5.5v13.3h-5.5zM673.75 662h5.5v13.3h-5.5zM739.13 662h5.5v13.3h-5.5zM940.73 662h5.5v13.3h-5.5zM1027.9 662h5.5v13.3h-5.5zM1158.67 662h5.5v13.3h-5.5zM1463.79 662h5.5v13.3h-5.5zM1616.35 662h5.5v13.3h-5.5zM1670.83 662h5.5v13.3h-5.5z"/>
<path fill="#f8dd24" d="M662.85 662h5.5v13.3h-5.5z"/>
<path fill="#f8de24" d="M711.89 662h5.5v13.3h-5.5z"/>
<path fill="#f9d724" d="M788.17 662h5.5v13.3h-5.5z"/>
<path fill="#f7de23" d="M913.49 662h5.5v13.3h-5.5zM1474.69 662h5.5v13.3h-5.5z"/>
<path fill="#f5e923" d="M935.28 662h5.5v13.3h-5.5zM1338.47 662h5.5v13.3h-5.5zM1692.63 662h5.5v13.3h-5.5zM1796.15 662h5.5v13.3h-5.5zM1959.61 662h5.5v13.3h-5.5zM1965.05 662h5.5v13.3h-5.5z"/>
<path fill="#f5e623" d="M957.07 662h5.5v13.3h-5.5zM1131.43 662h5.5v13.3h-5.5zM1224.05 662h5.5v13.3h-5.5zM1256.74 662h5.5v13.3h-5.5zM1262.19 662h5.5v13.3h-5.5zM1398.41 662h5.5v13.3h-5.5zM1518.27 662h5.5v13.3h-5.5z"/>
<path fill="#f8dc24" d="M995.21 662h5.5v13.3h-5.5zM1202.26 662h5.5v13.3h-5.5z"/>
<path fill="#f9d824" d="M1175.02 662h5.5v13.3h-5.5z"/>
<path fill="#fbd025" d="M1245.85 662h5.5v13.3h-5.5z"/>
<path fill="#f5e523" d="M1387.51 662h5.5v13.3h-5.5zM1790.7 662h5.5v13.3h-5.5z"/>
<line x1="1246.1" y1="62.4" x2="1246.1" y2="675.4" stroke="#333" stroke-width="1.6"/>
<path d="M290.4 348.8H297.2M290.4 277.3H297.2M290.4 205.8H297.2M290.4 134.3H297.2M290.4 62.8H297.2M290.4 650.4H297.2M290.4 592.08H297.2M290.4 533.76H297.2M290.4 475.44H297.2M290.4 417.12H297.2M290.4 358.8H297.2" stroke="#000" stroke-width="2.4" fill="none"/>
<text x="276.98" y="350.4" font-size="23.3" textLength="10.82" lengthAdjust="spacingAndGlyphs" fill="#4d4d4d" stroke="#4d4d4d" stroke-width="0.54">0</text>
<text x="222.88" y="285.4" font-size="23.3" textLength="64.92" lengthAdjust="spacingAndGlyphs" fill="#4d4d4d" stroke="#4d4d4d" stroke-width="0.54">100000</text>
<text x="222.88" y="213.9" font-size="23.3" textLength="64.92" lengthAdjust="spacingAndGlyphs" fill="#4d4d4d" stroke="#4d4d4d" stroke-width="0.54">200000</text>
<text x="222.88" y="142.4" font-size="23.3" textLength="64.92" lengthAdjust="spacingAndGlyphs" fill="#4d4d4d" stroke="#4d4d4d" stroke-width="0.54">300000</text>
<text x="222.88" y="70.9" font-size="23.3" textLength="64.92" lengthAdjust="spacingAndGlyphs" fill="#4d4d4d" stroke="#4d4d4d" stroke-width="0.54">400000</text>
<text x="276.98" y="658.5" font-size="23.3" textLength="10.82" lengthAdjust="spacingAndGlyphs" fill="#4d4d4d" stroke="#4d4d4d" stroke-width="0.54">0</text>
<text x="260.75" y="600.18" font-size="23.3" textLength="27.05" lengthAdjust="spacingAndGlyphs" fill="#4d4d4d" stroke="#4d4d4d" stroke-width="0.54">0.2</text>
<text x="260.75" y="541.86" font-size="23.3" textLength="27.05" lengthAdjust="spacingAndGlyphs" fill="#4d4d4d" stroke="#4d4d4d" stroke-width="0.54">0.4</text>
<text x="260.75" y="483.54" font-size="23.3" textLength="27.05" lengthAdjust="spacingAndGlyphs" fill="#4d4d4d" stroke="#4d4d4d" stroke-width="0.54">0.6</text>
<text x="260.75" y="425.22" font-size="23.3" textLength="27.05" lengthAdjust="spacingAndGlyphs" fill="#4d4d4d" stroke="#4d4d4d" stroke-width="0.54">0.8</text>
<text x="260.75" y="376.4" font-size="23.3" textLength="27.05" lengthAdjust="spacingAndGlyphs" fill="#4d4d4d" stroke="#4d4d4d" stroke-width="0.54">1.0</text>
<text transform="translate(211.4 198.4) rotate(-90)" x="-129" y="0" font-size="32.3" textLength="258" lengthAdjust="spacingAndGlyphs" stroke="#000" stroke-width="0.74">Number of Mutations</text>
<text transform="translate(211.4 510.5) rotate(-90)" x="-143.5" y="0" font-size="32.3" textLength="287" lengthAdjust="spacingAndGlyphs" stroke="#000" stroke-width="0.74">Signatures Contribution</text>
<text x="560.6" y="21.5" font-size="28" textLength="409.5" lengthAdjust="spacingAndGlyphs" font-weight="bold" stroke="#000" stroke-width="0.34">Low APOBEC Signatures (LAS, N=174)</text>
<text x="1429.6" y="21.5" font-size="28" textLength="420" lengthAdjust="spacingAndGlyphs" font-weight="bold" stroke="#000" stroke-width="0.34">High APOBEC Signatures (HAS, N=135)</text>
<text x="-1" y="37.6" font-size="42" textLength="21.8" lengthAdjust="spacingAndGlyphs" font-weight="bold" stroke="#000" stroke-width="0.8">a</text>
<text x="411.6" y="717" font-size="28.5" textLength="160.2" lengthAdjust="spacingAndGlyphs" stroke="#000" stroke-width="0.66">SBS Signatures</text>
<rect x="589" y="699" width="18.2" height="18.2" fill="#4a9a5a"/>
<text x="618" y="718" font-size="23.7" textLength="46.36" lengthAdjust="spacingAndGlyphs" stroke="#000" stroke-width="0.55">SBS1</text>
<rect x="674" y="699" width="18.2" height="18.2" fill="#e6a8ad"/>
<text x="703" y="718" font-size="23.7" textLength="46.36" lengthAdjust="spacingAndGlyphs" stroke="#000" stroke-width="0.55">SBS2</text>
<rect x="759.4" y="699" width="18.2" height="18.2" fill="#8a2a8e"/>
<text x="788.4" y="718" font-size="23.7" textLength="46.36" lengthAdjust="spacingAndGlyphs" stroke="#000" stroke-width="0.55">SBS3</text>
<rect x="844.7" y="699" width="18.2" height="18.2" fill="#5ba0cb"/>
<text x="873.7" y="718" font-size="23.7" textLength="46.36" lengthAdjust="spacingAndGlyphs" stroke="#000" stroke-width="0.55">SBS4</text>
<rect x="929.7" y="699" width="18.2" height="18.2" fill="#2f5e3a"/>
<text x="958.7" y="718" font-size="23.7" textLength="46.36" lengthAdjust="spacingAndGlyphs" stroke="#000" stroke-width="0.55">SBS5</text>
<rect x="1018.6" y="699" width="18.2" height="18.2" fill="#e41a1c"/>
<text x="1047.6" y="718" font-size="23.7" textLength="56.45" lengthAdjust="spacingAndGlyphs" stroke="#000" stroke-width="0.55">SBS13</text>
<rect x="1114.9" y="699" width="18.2" height="18.2" fill="#e34f85"/>
<text x="1143.9" y="718" font-size="23.7" textLength="66.53" lengthAdjust="spacingAndGlyphs" stroke="#000" stroke-width="0.55">SBS17a</text>
<rect x="1222.4" y="699" width="18.2" height="18.2" fill="#0b4f9e"/>
<text x="1251.4" y="718" font-size="23.7" textLength="66.53" lengthAdjust="spacingAndGlyphs" stroke="#000" stroke-width="0.55">SBS17b</text>
<rect x="1329.9" y="699" width="18.2" height="18.2" fill="#b3df69"/>
<text x="1358.9" y="718" font-size="23.7" textLength="56.45" lengthAdjust="spacingAndGlyphs" stroke="#000" stroke-width="0.55">SBS18</text>
<rect x="1426.5" y="699" width="18.2" height="18.2" fill="#016b5b"/>
<text x="1455.5" y="718" font-size="23.7" textLength="56.45" lengthAdjust="spacingAndGlyphs" stroke="#000" stroke-width="0.55">SBS22</text>
<rect x="1522.7" y="699" width="18.2" height="18.2" fill="#7c6c10"/>
<text x="1551.7" y="718" font-size="23.7" textLength="56.45" lengthAdjust="spacingAndGlyphs" stroke="#000" stroke-width="0.55">SBS40</text>
<rect x="1618.8" y="699" width="18.2" height="18.2" fill="#0e174c"/>
<text x="1647.8" y="718" font-size="23.7" textLength="56.45" lengthAdjust="spacingAndGlyphs" stroke="#000" stroke-width="0.55">SBS92</text>
<rect x="1719.5" y="699" width="18.2" height="18.2" fill="#cfcfcf"/>
<text x="1748.5" y="718" font-size="23.7" textLength="54.41" lengthAdjust="spacingAndGlyphs" stroke="#000" stroke-width="0.55">Others</text>
<text x="591.6" y="762.7" font-size="28.5" textLength="176.4" lengthAdjust="spacingAndGlyphs" stroke="#000" stroke-width="0.66">Cosine Similarity</text>
<defs><linearGradient id="pl" x1="0" x2="1" y1="0" y2="0"><stop offset="0%" stop-color="#0d0887"/><stop offset="10%" stop-color="#41049d"/><stop offset="20%" stop-color="#6a00a8"/><stop offset="30%" stop-color="#8f0da4"/><stop offset="40%" stop-color="#b12a90"/><stop offset="50%" stop-color="#cc4778"/><stop offset="60%" stop-color="#e16462"/><stop offset="70%" stop-color="#f2844b"/><stop offset="80%" stop-color="#fca636"/><stop offset="90%" stop-color="#fcce25"/><stop offset="100%" stop-color="#f0f921"/></linearGradient></defs>
<rect x="789.6" y="745.2" width="785.6" height="18.6" fill="url(#pl)" stroke="#000" stroke-width="1"/>
<path d="M790.6 745.7v4.4M790.6 763.3v-4.4M986.6 745.7v4.4M986.6 763.3v-4.4M1182.6 745.7v4.4M1182.6 763.3v-4.4M1378.6 745.7v4.4M1378.6 763.3v-4.4M1574.6 745.7v4.4M1574.6 763.3v-4.4" stroke="#fff" stroke-width="1.8" fill="none"/>
<text x="789" y="792.3" font-size="21" textLength="25.11" lengthAdjust="spacingAndGlyphs" stroke="#000" stroke-width="0.48">0.6</text>
<text x="973.95" y="792.3" font-size="21" textLength="25.11" lengthAdjust="spacingAndGlyphs" stroke="#000" stroke-width="0.48">0.7</text>
<text x="1169.85" y="792.3" font-size="21" textLength="25.11" lengthAdjust="spacingAndGlyphs" stroke="#000" stroke-width="0.48">0.8</text>
<text x="1365.75" y="792.3" font-size="21" textLength="25.11" lengthAdjust="spacingAndGlyphs" stroke="#000" stroke-width="0.48">0.9</text>
<text x="1553.09" y="792.3" font-size="21" textLength="25.11" lengthAdjust="spacingAndGlyphs" stroke="#000" stroke-width="0.48">1.0</text>
</g>
<g>
<path d="M234.8 1507.2H370.8M234.8 1442.33H370.8M234.8 1377.46H370.8M234.8 1312.59H370.8M234.8 1247.72H370.8M234.8 1182.85H370.8M234.8 1117.98H370.8M234.8 1053.11H370.8M234.8 988.24H370.8M234.8 923.37H370.8M234.8 858.5H370.8" stroke="#dedede" stroke-width="1" fill="none"/>
<rect x="246.3" y="1309.35" width="50.6" height="197.85" fill="#999999" stroke="#4a4a4a" stroke-width="0.7"/>
<rect x="246.3" y="862.39" width="50.6" height="446.95" fill="#f5e6c0" stroke="#4a4a4a" stroke-width="0.7"/>
<rect x="246.3" y="858.5" width="50.6" height="3.89" fill="#b00000" stroke="#4a4a4a" stroke-width="0.7"/>
<rect x="308.4" y="1377.46" width="51" height="129.74" fill="#999999" stroke="#4a4a4a" stroke-width="0.7"/>
<rect x="308.4" y="1315.18" width="51" height="62.28" fill="#f5e6c0" stroke="#4a4a4a" stroke-width="0.7"/>
<rect x="308.4" y="858.5" width="51" height="456.68" fill="#b00000" stroke="#4a4a4a" stroke-width="0.7"/>
<text x="257.13" y="873.7" font-size="12.7" textLength="28.95" lengthAdjust="spacingAndGlyphs" fill="#000" stroke="#000" stroke-width="0.29">0.6%</text>
<text x="261" y="1082.2" font-size="12.7" textLength="21.19" lengthAdjust="spacingAndGlyphs" fill="#000" stroke="#000" stroke-width="0.29">120</text>
<text x="253.59" y="1100" font-size="12.7" textLength="36.01" lengthAdjust="spacingAndGlyphs" fill="#000" stroke="#000" stroke-width="0.29">69.0%</text>
<text x="326.74" y="1082.4" font-size="12.7" textLength="14.13" lengthAdjust="spacingAndGlyphs" fill="#fff" stroke="#fff" stroke-width="0.29">95</text>
<text x="315.79" y="1100.4" font-size="12.7" textLength="36.01" lengthAdjust="spacingAndGlyphs" fill="#fff" stroke="#fff" stroke-width="0.29">70.4%</text>
<text x="326.74" y="1342.5" font-size="12.7" textLength="14.13" lengthAdjust="spacingAndGlyphs" fill="#000" stroke="#000" stroke-width="0.29">13</text>
<text x="319.33" y="1360.3" font-size="12.7" textLength="28.95" lengthAdjust="spacingAndGlyphs" fill="#000" stroke="#000" stroke-width="0.29">9.6%</text>
<text x="264.54" y="1404.7" font-size="12.7" textLength="14.13" lengthAdjust="spacingAndGlyphs" fill="#000" stroke="#000" stroke-width="0.29">53</text>
<text x="253.59" y="1422.7" font-size="12.7" textLength="36.01" lengthAdjust="spacingAndGlyphs" fill="#000" stroke="#000" stroke-width="0.29">30.5%</text>
<text x="326.74" y="1438.6" font-size="12.7" textLength="14.13" lengthAdjust="spacingAndGlyphs" fill="#000" stroke="#000" stroke-width="0.29">27</text>
<text x="315.79" y="1456.6" font-size="12.7" textLength="36.01" lengthAdjust="spacingAndGlyphs" fill="#000" stroke="#000" stroke-width="0.29">20.0%</text>
<text x="205.92" y="1514.6" font-size="21" textLength="24.28" lengthAdjust="spacingAndGlyphs" fill="#4d4d4d" stroke="#4d4d4d" stroke-width="0.48">0%</text>
<text x="196.58" y="1384.86" font-size="21" textLength="33.62" lengthAdjust="spacingAndGlyphs" fill="#4d4d4d" stroke="#4d4d4d" stroke-width="0.48">20%</text>
<text x="196.58" y="1255.12" font-size="21" textLength="33.62" lengthAdjust="spacingAndGlyphs" fill="#4d4d4d" stroke="#4d4d4d" stroke-width="0.48">40%</text>
<text x="196.58" y="1125.38" font-size="21" textLength="33.62" lengthAdjust="spacingAndGlyphs" fill="#4d4d4d" stroke="#4d4d4d" stroke-width="0.48">60%</text>
<text x="196.58" y="995.64" font-size="21" textLength="33.62" lengthAdjust="spacingAndGlyphs" fill="#4d4d4d" stroke="#4d4d4d" stroke-width="0.48">80%</text>
<text x="187.23" y="865.9" font-size="21" textLength="42.97" lengthAdjust="spacingAndGlyphs" fill="#4d4d4d" stroke="#4d4d4d" stroke-width="0.48">100%</text>
<text x="254.3" y="838.6" font-size="21.3" textLength="92.2" lengthAdjust="spacingAndGlyphs" stroke="#000" stroke-width="0.49">P = 1.1e-48</text>
<text transform="translate(185.1 1182.5) rotate(-90)" x="-147.5" y="0" font-size="28" textLength="295" lengthAdjust="spacingAndGlyphs" stroke="#000" stroke-width="0.64">Percentage of total samples</text>
<text x="98.5" y="890.3" font-size="42" textLength="25.7" lengthAdjust="spacingAndGlyphs" font-weight="bold" stroke="#000" stroke-width="0.8">b</text>
<text transform="translate(219.9 1567.9) rotate(-27)" x="0" y="0" font-size="18.2" textLength="82.5" lengthAdjust="spacingAndGlyphs" fill="#4d4d4d" stroke="#4d4d4d" stroke-width="0.42">LAS (56.3%)</text>
<text transform="translate(290.5 1565.1) rotate(-27)" x="0" y="0" font-size="18.2" textLength="80" lengthAdjust="spacingAndGlyphs" fill="#4d4d4d" stroke="#4d4d4d" stroke-width="0.42">HAS(43.7%)</text>
<text x="378.8" y="1146.3" font-size="16.4" textLength="147" lengthAdjust="spacingAndGlyphs" stroke="#000" stroke-width="0.38">APOBEC mutagenesis</text>
<rect x="379.5" y="1157.5" width="24" height="23.8" fill="#b00000" stroke="#4a4a4a" stroke-width="0.7"/>
<text x="411.2" y="1174.2" font-size="15.9" textLength="96.2" lengthAdjust="spacingAndGlyphs" stroke="#000" stroke-width="0.37">A3A-like (31.1%)</text>
<rect x="379.5" y="1183.25" width="24" height="23.8" fill="#f5e6c0" stroke="#4a4a4a" stroke-width="0.7"/>
<text x="411.2" y="1199.95" font-size="15.9" textLength="96.2" lengthAdjust="spacingAndGlyphs" stroke="#000" stroke-width="0.37">A3B-like (43.0%)</text>
<rect x="379.5" y="1209" width="24" height="23.8" fill="#999999" stroke="#4a4a4a" stroke-width="0.7"/>
<text x="413.3" y="1225.7" font-size="15.9" textLength="70.8" lengthAdjust="spacingAndGlyphs" stroke="#000" stroke-width="0.37">N/A (25.9%)</text>
</g>
<g>
<path d="M598.6 1394.7H782.2M598.6 1278.6H782.2M598.6 1162.5H782.2M598.6 1046.4H782.2M598.6 930.3H782.2" stroke="#d0d0d0" stroke-width="0.9" fill="none"/>
<path d="M647.9 944.81V1183.4M647.9 1387.15V1454.49" stroke="#333" stroke-width="1.9" fill="none"/>
<rect x="626.3" y="1183.4" width="43.2" height="203.76" fill="none" stroke="#333" stroke-width="1.9"/>
<path d="M626.3 1300.66H669.5" stroke="#333" stroke-width="3.6" fill="none"/>
<g fill="#f5e6c0" stroke="#000" stroke-width="1.2"><circle cx="654" cy="1428.3" r="5.2"/><circle cx="649.2" cy="1327" r="5.2"/><circle cx="650.2" cy="1348.5" r="5.2"/><circle cx="639.4" cy="1156.6" r="5.2"/><circle cx="650.6" cy="1211.6" r="5.2"/><circle cx="655.3" cy="1174.9" r="5.2"/><circle cx="648.2" cy="1127.3" r="5.2"/><circle cx="655.1" cy="1454" r="5.2"/><circle cx="644.6" cy="1346.2" r="5.2"/><circle cx="650" cy="1413.1" r="5.2"/><circle cx="643.9" cy="1355.8" r="5.2"/><circle cx="655.3" cy="1228" r="5.2"/><circle cx="639.2" cy="1322.3" r="5.2"/><circle cx="649.4" cy="1445.9" r="5.2"/><circle cx="650.8" cy="1396.6" r="5.2"/><circle cx="642.1" cy="1272.1" r="5.2"/><circle cx="653.4" cy="1297.7" r="5.2"/><circle cx="640.3" cy="1444.4" r="5.2"/><circle cx="653.5" cy="1153.8" r="5.2"/><circle cx="646.9" cy="1395.2" r="5.2"/><circle cx="652" cy="1436.7" r="5.2"/><circle cx="651.3" cy="1117.3" r="5.2"/><circle cx="645.8" cy="1024.4" r="5.2"/><circle cx="646.8" cy="1429.9" r="5.2"/><circle cx="653.1" cy="1451" r="5.2"/><circle cx="654.7" cy="1380.5" r="5.2"/><circle cx="642.5" cy="1402.7" r="5.2"/><circle cx="650.2" cy="1306.2" r="5.2"/><circle cx="647.4" cy="1278.9" r="5.2"/><circle cx="653.1" cy="1181.6" r="5.2"/><circle cx="645.8" cy="1379.4" r="5.2"/><circle cx="641.4" cy="1374.2" r="5.2"/><circle cx="654.6" cy="1333.3" r="5.2"/><circle cx="641.4" cy="1310" r="5.2"/><circle cx="648.6" cy="1184.6" r="5.2"/><circle cx="653.6" cy="1201.7" r="5.2"/><circle cx="649.1" cy="1222.6" r="5.2"/><circle cx="642" cy="1401.3" r="5.2"/><circle cx="641.4" cy="1134.6" r="5.2"/><circle cx="656.3" cy="964.1" r="5.2"/><circle cx="641.9" cy="1359.1" r="5.2"/><circle cx="651.7" cy="1330.1" r="5.2"/><circle cx="654.4" cy="1450" r="5.2"/><circle cx="643.9" cy="1362.2" r="5.2"/><circle cx="651.7" cy="1364.3" r="5.2"/><circle cx="648.4" cy="1088.9" r="5.2"/><circle cx="652.4" cy="1425.8" r="5.2"/><circle cx="646.4" cy="1351.7" r="5.2"/><circle cx="650.2" cy="1231.3" r="5.2"/><circle cx="647.7" cy="1158.2" r="5.2"/><circle cx="642.9" cy="1095.9" r="5.2"/><circle cx="651.9" cy="1205.7" r="5.2"/><circle cx="651.5" cy="1264.6" r="5.2"/><circle cx="639.4" cy="1423.2" r="5.2"/><circle cx="642.8" cy="1354.2" r="5.2"/><circle cx="650.4" cy="1200.2" r="5.2"/><circle cx="651.2" cy="1292" r="5.2"/><circle cx="650.1" cy="1448.3" r="5.2"/><circle cx="640.4" cy="1096.1" r="5.2"/><circle cx="654.2" cy="970.3" r="5.2"/><circle cx="646.7" cy="1387.9" r="5.2"/><circle cx="647.8" cy="1104.9" r="5.2"/><circle cx="654.7" cy="1220.1" r="5.2"/><circle cx="645.2" cy="1171.3" r="5.2"/><circle cx="639.6" cy="1331.6" r="5.2"/><circle cx="654.2" cy="1367.3" r="5.2"/><circle cx="646" cy="1253.3" r="5.2"/><circle cx="645.7" cy="1227.3" r="5.2"/><circle cx="656.5" cy="1185.5" r="5.2"/><circle cx="644.1" cy="1083.8" r="5.2"/><circle cx="652" cy="1073.8" r="5.2"/><circle cx="654" cy="1121.1" r="5.2"/><circle cx="643.5" cy="1409.5" r="5.2"/><circle cx="646.9" cy="1303.9" r="5.2"/><circle cx="656.8" cy="1441.2" r="5.2"/><circle cx="641.2" cy="1238" r="5.2"/><circle cx="655.2" cy="1248.9" r="5.2"/><circle cx="647.6" cy="1420.4" r="5.2"/><circle cx="639.7" cy="1306.9" r="5.2"/><circle cx="641.3" cy="1319.7" r="5.2"/><circle cx="644.8" cy="1392.6" r="5.2"/><circle cx="649" cy="1043.3" r="5.2"/><circle cx="653.4" cy="1384.6" r="5.2"/><circle cx="639.1" cy="1281" r="5.2"/><circle cx="654.1" cy="1017.7" r="5.2"/><circle cx="649.4" cy="1431.1" r="5.2"/><circle cx="653.1" cy="1323.2" r="5.2"/><circle cx="643.8" cy="1270.4" r="5.2"/><circle cx="639.5" cy="1336.1" r="5.2"/><circle cx="655.7" cy="1241.6" r="5.2"/><circle cx="645.1" cy="1266.7" r="5.2"/><circle cx="651.9" cy="1123.5" r="5.2"/><circle cx="648.3" cy="1261.7" r="5.2"/><circle cx="654.1" cy="1055" r="5.2"/><circle cx="653.8" cy="1312.6" r="5.2"/><circle cx="651.5" cy="1417.2" r="5.2"/><circle cx="653.1" cy="1139.3" r="5.2"/><circle cx="640.4" cy="1427.3" r="5.2"/><circle cx="647.1" cy="1318.1" r="5.2"/><circle cx="641.6" cy="1131.7" r="5.2"/><circle cx="654" cy="1368.4" r="5.2"/><circle cx="648.8" cy="1164.3" r="5.2"/><circle cx="649.4" cy="1376.3" r="5.2"/><circle cx="646.4" cy="1451.6" r="5.2"/><circle cx="656" cy="1363.5" r="5.2"/><circle cx="647" cy="1340.3" r="5.2"/><circle cx="656.2" cy="1292.6" r="5.2"/><circle cx="643" cy="1418.6" r="5.2"/><circle cx="642.5" cy="1289.2" r="5.2"/><circle cx="640.1" cy="1150.8" r="5.2"/><circle cx="647.2" cy="1214.1" r="5.2"/><circle cx="654" cy="1343.9" r="5.2"/><circle cx="651.9" cy="1239.2" r="5.2"/><circle cx="645.9" cy="1436.1" r="5.2"/><circle cx="644.5" cy="1326.2" r="5.2"/><circle cx="642.1" cy="1283.6" r="5.2"/><circle cx="655.9" cy="1216" r="5.2"/><circle cx="654.7" cy="1438.2" r="5.2"/><circle cx="648.3" cy="948.5" r="5.2"/><circle cx="639.3" cy="1316" r="5.2"/><circle cx="656" cy="1101.5" r="5.2"/><circle cx="655.4" cy="1383.4" r="5.2"/><circle cx="647.5" cy="1285.1" r="5.2"/><circle cx="650.9" cy="1391.1" r="5.2"/><circle cx="655.2" cy="1398.3" r="5.2"/><circle cx="650.7" cy="1298.9" r="5.2"/><circle cx="644.5" cy="1033.7" r="5.2"/><circle cx="647" cy="1356.8" r="5.2"/><circle cx="655" cy="1393.7" r="5.2"/><circle cx="640.4" cy="1167.1" r="5.2"/><circle cx="649.9" cy="1444.7" r="5.2"/><circle cx="649.2" cy="1448.9" r="5.2"/><circle cx="651.1" cy="1404.1" r="5.2"/><circle cx="656.6" cy="1342.2" r="5.2"/><circle cx="648.3" cy="1055.7" r="5.2"/><circle cx="640.5" cy="1246.3" r="5.2"/><circle cx="644.6" cy="1374.5" r="5.2"/><circle cx="647.9" cy="1414.7" r="5.2"/><circle cx="643.2" cy="1311" r="5.2"/><circle cx="654.3" cy="1173" r="5.2"/><circle cx="642" cy="1146.3" r="5.2"/><circle cx="647.1" cy="1235.5" r="5.2"/><circle cx="650.2" cy="1300.9" r="5.2"/><circle cx="644.3" cy="1406.1" r="5.2"/><circle cx="642.7" cy="1193.9" r="5.2"/><circle cx="642.6" cy="1206.4" r="5.2"/><circle cx="647.8" cy="1346.9" r="5.2"/><circle cx="640.2" cy="1336.9" r="5.2"/><circle cx="652.5" cy="1256.2" r="5.2"/><circle cx="642.6" cy="987.1" r="5.2"/><circle cx="653.2" cy="1218.2" r="5.2"/><circle cx="650.4" cy="1069.1" r="5.2"/><circle cx="652.1" cy="1432.8" r="5.2"/><circle cx="642.5" cy="1389.2" r="5.2"/><circle cx="649.7" cy="1422.3" r="5.2"/><circle cx="651.8" cy="1196" r="5.2"/><circle cx="639.1" cy="1407.6" r="5.2"/><circle cx="653.3" cy="1147.7" r="5.2"/><circle cx="652.7" cy="1161.2" r="5.2"/><circle cx="650" cy="1257.6" r="5.2"/><circle cx="644.7" cy="1178.2" r="5.2"/><circle cx="650.4" cy="1442.6" r="5.2"/><circle cx="655.1" cy="1003.5" r="5.2"/><circle cx="645.8" cy="1447" r="5.2"/><circle cx="651.8" cy="1276.2" r="5.2"/><circle cx="655.9" cy="1113" r="5.2"/><circle cx="654.6" cy="1452.9" r="5.2"/><circle cx="656.5" cy="1189.7" r="5.2"/><circle cx="655.5" cy="1410.7" r="5.2"/><circle cx="646.8" cy="1166.4" r="5.2"/><circle cx="653.2" cy="1249.8" r="5.2"/><circle cx="647.8" cy="1371.8" r="5.2"/><circle cx="655.1" cy="1192" r="5.2"/><circle cx="644.9" cy="1143.2" r="5.2"/></g>
<path d="M732.2 980.22V1198.49M732.2 1377.87V1455.65" stroke="#333" stroke-width="1.9" fill="none"/>
<rect x="710.6" y="1198.49" width="43.2" height="179.37" fill="none" stroke="#333" stroke-width="1.9"/>
<path d="M710.6 1309.95H753.8" stroke="#333" stroke-width="3.6" fill="none"/>
<g fill="#b00000" stroke="#000" stroke-width="1.2"><circle cx="739.7" cy="1432.5" r="5.2"/><circle cx="733.4" cy="1291.3" r="5.2"/><circle cx="739.1" cy="1209.1" r="5.2"/><circle cx="725.8" cy="1136.6" r="5.2"/><circle cx="736.5" cy="1151.4" r="5.2"/><circle cx="737" cy="1372.1" r="5.2"/><circle cx="728.7" cy="1268.8" r="5.2"/><circle cx="727.7" cy="1254.5" r="5.2"/><circle cx="729.4" cy="1388.2" r="5.2"/><circle cx="737.8" cy="1376.6" r="5.2"/><circle cx="739.8" cy="1349.8" r="5.2"/><circle cx="733.3" cy="1217.8" r="5.2"/><circle cx="724.4" cy="1173" r="5.2"/><circle cx="739.7" cy="995.1" r="5.2"/><circle cx="728.7" cy="1317.1" r="5.2"/><circle cx="734.6" cy="1140" r="5.2"/><circle cx="729.1" cy="1356.5" r="5.2"/><circle cx="724.5" cy="1381.1" r="5.2"/><circle cx="736.2" cy="1315.8" r="5.2"/><circle cx="737" cy="1099.2" r="5.2"/><circle cx="739.4" cy="1148.2" r="5.2"/><circle cx="729.7" cy="1250" r="5.2"/><circle cx="732.9" cy="1030.5" r="5.2"/><circle cx="729.8" cy="1247" r="5.2"/><circle cx="733.4" cy="1448.5" r="5.2"/><circle cx="737.4" cy="1164" r="5.2"/><circle cx="727.2" cy="1121.7" r="5.2"/><circle cx="733.3" cy="1231.5" r="5.2"/><circle cx="734.4" cy="1453.4" r="5.2"/><circle cx="727.6" cy="1124.1" r="5.2"/><circle cx="733" cy="1167.2" r="5.2"/><circle cx="724.6" cy="1339.7" r="5.2"/><circle cx="728.6" cy="1330.3" r="5.2"/><circle cx="728.1" cy="1421.2" r="5.2"/><circle cx="726.6" cy="1439.4" r="5.2"/><circle cx="737" cy="1116.3" r="5.2"/><circle cx="736" cy="1292" r="5.2"/><circle cx="726.7" cy="1235.6" r="5.2"/><circle cx="727.7" cy="1436.4" r="5.2"/><circle cx="723.6" cy="1199.5" r="5.2"/><circle cx="724.7" cy="1154.8" r="5.2"/><circle cx="736.6" cy="1351.9" r="5.2"/><circle cx="737.7" cy="1275.1" r="5.2"/><circle cx="728.9" cy="1267.3" r="5.2"/><circle cx="739.3" cy="1257.6" r="5.2"/><circle cx="730.6" cy="990" r="5.2"/><circle cx="724.3" cy="1423.3" r="5.2"/><circle cx="735" cy="1360.1" r="5.2"/><circle cx="724.6" cy="1326.5" r="5.2"/><circle cx="730.9" cy="1420.1" r="5.2"/><circle cx="724.7" cy="1161" r="5.2"/><circle cx="732.6" cy="1106" r="5.2"/><circle cx="724.9" cy="1345.1" r="5.2"/><circle cx="729.6" cy="1308" r="5.2"/><circle cx="733.1" cy="1400.6" r="5.2"/><circle cx="731.1" cy="1276.6" r="5.2"/><circle cx="728.3" cy="1311.7" r="5.2"/><circle cx="736.8" cy="1441.7" r="5.2"/><circle cx="738.1" cy="980.8" r="5.2"/><circle cx="728.1" cy="1451.5" r="5.2"/><circle cx="730.3" cy="1239.9" r="5.2"/><circle cx="732.5" cy="1199.1" r="5.2"/><circle cx="731.9" cy="1335" r="5.2"/><circle cx="736.3" cy="1303" r="5.2"/><circle cx="740.8" cy="1434.5" r="5.2"/><circle cx="741" cy="1358.2" r="5.2"/><circle cx="740.6" cy="1073.8" r="5.2"/><circle cx="724.7" cy="1320" r="5.2"/><circle cx="725.4" cy="1379.8" r="5.2"/><circle cx="732.1" cy="1053.6" r="5.2"/><circle cx="725.3" cy="1298.2" r="5.2"/><circle cx="729.8" cy="1299.2" r="5.2"/><circle cx="733.4" cy="1189.6" r="5.2"/><circle cx="736.9" cy="1210.1" r="5.2"/><circle cx="739" cy="1341.9" r="5.2"/><circle cx="737.7" cy="1178.2" r="5.2"/><circle cx="724.7" cy="1146.1" r="5.2"/><circle cx="735.5" cy="1332.7" r="5.2"/><circle cx="727" cy="1391.5" r="5.2"/><circle cx="735.7" cy="1313" r="5.2"/><circle cx="728.3" cy="1202.7" r="5.2"/><circle cx="740.6" cy="1185.4" r="5.2"/><circle cx="739.6" cy="1280.2" r="5.2"/><circle cx="736.6" cy="1387.3" r="5.2"/><circle cx="740.1" cy="1284.6" r="5.2"/><circle cx="731.8" cy="1393.2" r="5.2"/><circle cx="733.1" cy="1353.2" r="5.2"/><circle cx="735.4" cy="1403.1" r="5.2"/><circle cx="734.6" cy="1398.5" r="5.2"/><circle cx="739" cy="1429.4" r="5.2"/><circle cx="737.8" cy="1364.6" r="5.2"/><circle cx="735.5" cy="1450.3" r="5.2"/><circle cx="735.1" cy="1321.9" r="5.2"/><circle cx="739.7" cy="1286.9" r="5.2"/><circle cx="735.3" cy="1062.1" r="5.2"/><circle cx="737.2" cy="1328.9" r="5.2"/><circle cx="734.9" cy="1179.3" r="5.2"/><circle cx="735.9" cy="1003.1" r="5.2"/><circle cx="725" cy="1413.7" r="5.2"/><circle cx="740" cy="1260.1" r="5.2"/><circle cx="730.8" cy="1367.4" r="5.2"/><circle cx="729.3" cy="1081" r="5.2"/><circle cx="732.9" cy="1225.2" r="5.2"/><circle cx="727.8" cy="1366" r="5.2"/><circle cx="727" cy="1323.2" r="5.2"/><circle cx="734.6" cy="1444" r="5.2"/><circle cx="734.4" cy="1374.1" r="5.2"/><circle cx="727" cy="1370.9" r="5.2"/><circle cx="725.8" cy="1308.9" r="5.2"/><circle cx="733.4" cy="1336.3" r="5.2"/><circle cx="729.8" cy="1345.2" r="5.2"/><circle cx="729.9" cy="1395.7" r="5.2"/><circle cx="729.8" cy="1361.9" r="5.2"/><circle cx="724.5" cy="1408.4" r="5.2"/><circle cx="729.7" cy="1244.6" r="5.2"/><circle cx="730.9" cy="1347.7" r="5.2"/><circle cx="730.4" cy="1263.6" r="5.2"/><circle cx="732.9" cy="1411.1" r="5.2"/><circle cx="738.3" cy="1219.9" r="5.2"/><circle cx="738.3" cy="1384" r="5.2"/><circle cx="734.4" cy="1415.8" r="5.2"/><circle cx="736.6" cy="1133.5" r="5.2"/><circle cx="730.3" cy="1092.3" r="5.2"/><circle cx="736.2" cy="1015.4" r="5.2"/><circle cx="724.7" cy="1338.6" r="5.2"/><circle cx="723.9" cy="1427.1" r="5.2"/><circle cx="733" cy="1191.8" r="5.2"/><circle cx="729.7" cy="1452.5" r="5.2"/><circle cx="737.5" cy="1228.9" r="5.2"/><circle cx="733.9" cy="1447.9" r="5.2"/><circle cx="734.9" cy="1130.1" r="5.2"/><circle cx="724.8" cy="1406.9" r="5.2"/><circle cx="726.4" cy="1212.9" r="5.2"/><circle cx="737.3" cy="1455.1" r="5.2"/><circle cx="730.2" cy="1238" r="5.2"/></g>
<rect x="598.6" y="918.5" width="183.6" height="562.9" fill="none" stroke="#111" stroke-width="2.6"/>
<path d="M591.1 1394.7H597.6M591.1 1278.6H597.6M591.1 1162.5H597.6M591.1 1046.4H597.6M591.1 930.3H597.6M647.9 1482.4V1489.4M732.2 1482.4V1489.4" stroke="#333" stroke-width="1" fill="none"/>
<text x="562.34" y="1402.2" font-size="21.3" textLength="25.46" lengthAdjust="spacingAndGlyphs" fill="#4d4d4d" stroke="#4d4d4d" stroke-width="0.49">0.2</text>
<text x="562.34" y="1286.1" font-size="21.3" textLength="25.46" lengthAdjust="spacingAndGlyphs" fill="#4d4d4d" stroke="#4d4d4d" stroke-width="0.49">0.4</text>
<text x="562.34" y="1170" font-size="21.3" textLength="25.46" lengthAdjust="spacingAndGlyphs" fill="#4d4d4d" stroke="#4d4d4d" stroke-width="0.49">0.6</text>
<text x="562.34" y="1053.9" font-size="21.3" textLength="25.46" lengthAdjust="spacingAndGlyphs" fill="#4d4d4d" stroke="#4d4d4d" stroke-width="0.49">0.8</text>
<text x="562.34" y="937.8" font-size="21.3" textLength="25.46" lengthAdjust="spacingAndGlyphs" fill="#4d4d4d" stroke="#4d4d4d" stroke-width="0.49">1.0</text>
<text x="605.9" y="884.3" font-size="21.6" textLength="113.4" lengthAdjust="spacingAndGlyphs" stroke="#000" stroke-width="0.5">Tumor_Purity</text>
<text x="605.9" y="906.8" font-size="21.6" textLength="49.3" lengthAdjust="spacingAndGlyphs" stroke="#000" stroke-width="0.5">P=0.9</text>
<text transform="translate(625.9 1520) rotate(-30)" x="0" y="0" font-size="21" textLength="34" lengthAdjust="spacingAndGlyphs" fill="#4d4d4d" stroke="#4d4d4d" stroke-width="0.48">LAS</text>
<text transform="translate(710.2 1520) rotate(-30)" x="0" y="0" font-size="21" textLength="34" lengthAdjust="spacingAndGlyphs" fill="#4d4d4d" stroke="#4d4d4d" stroke-width="0.48">HAS</text>
<path d="M829.7 1386.8H1013.3M829.7 1232.3H1013.3M829.7 1077.8H1013.3M829.7 923.3H1013.3" stroke="#d0d0d0" stroke-width="0.9" fill="none"/>
<path d="M878.8 992.83V1180.23M878.8 1335.82V1441.65" stroke="#333" stroke-width="1.9" fill="none"/>
<rect x="857.2" y="1180.23" width="43.2" height="155.58" fill="none" stroke="#333" stroke-width="1.9"/>
<path d="M857.2 1238.48H900.4" stroke="#333" stroke-width="3.6" fill="none"/>
<g fill="#f5e6c0" stroke="#000" stroke-width="1.2"><circle cx="885.3" cy="1278.6" r="5.2"/><circle cx="884.3" cy="1221.6" r="5.2"/><circle cx="887" cy="1238.9" r="5.2"/><circle cx="886.1" cy="1202.9" r="5.2"/><circle cx="882.2" cy="1230.8" r="5.2"/><circle cx="885" cy="1406.7" r="5.2"/><circle cx="874.2" cy="1405.9" r="5.2"/><circle cx="885.7" cy="1339.7" r="5.2"/><circle cx="886.9" cy="1261.6" r="5.2"/><circle cx="879.4" cy="1143.6" r="5.2"/><circle cx="885.8" cy="1176.8" r="5.2"/><circle cx="877.9" cy="1083.1" r="5.2"/><circle cx="877.7" cy="1321.5" r="5.2"/><circle cx="885.9" cy="1215.4" r="5.2"/><circle cx="880.3" cy="1180.2" r="5.2"/><circle cx="880.7" cy="1105.6" r="5.2"/><circle cx="885.3" cy="1233" r="5.2"/><circle cx="872.8" cy="1365.8" r="5.2"/><circle cx="885.3" cy="1287" r="5.2"/><circle cx="885.6" cy="1384.2" r="5.2"/><circle cx="884" cy="1187.8" r="5.2"/><circle cx="880" cy="1196.7" r="5.2"/><circle cx="887.3" cy="1399.8" r="5.2"/><circle cx="882.8" cy="1227.7" r="5.2"/><circle cx="871.9" cy="1219" r="5.2"/><circle cx="871.9" cy="995.6" r="5.2"/><circle cx="870.9" cy="1173.2" r="5.2"/><circle cx="876.6" cy="1419.6" r="5.2"/><circle cx="878.5" cy="1160.1" r="5.2"/><circle cx="871.9" cy="1437.9" r="5.2"/><circle cx="884" cy="1415.8" r="5.2"/><circle cx="878.8" cy="1226.3" r="5.2"/><circle cx="872.8" cy="1234.8" r="5.2"/><circle cx="872.3" cy="1315.7" r="5.2"/><circle cx="879.5" cy="1199.8" r="5.2"/><circle cx="886.3" cy="1205.7" r="5.2"/><circle cx="886.1" cy="1426.3" r="5.2"/><circle cx="878.9" cy="1039.4" r="5.2"/><circle cx="873.2" cy="1193.1" r="5.2"/><circle cx="875.6" cy="1302.5" r="5.2"/><circle cx="884.7" cy="1153.2" r="5.2"/><circle cx="874.7" cy="1247.6" r="5.2"/><circle cx="883" cy="1189.5" r="5.2"/><circle cx="875.7" cy="1068.5" r="5.2"/><circle cx="872.1" cy="1344.6" r="5.2"/><circle cx="886.3" cy="1182.1" r="5.2"/><circle cx="879.6" cy="1392.5" r="5.2"/><circle cx="871.1" cy="1205.1" r="5.2"/><circle cx="885.6" cy="1411.1" r="5.2"/><circle cx="870.2" cy="1326.5" r="5.2"/><circle cx="883.2" cy="1146.1" r="5.2"/><circle cx="879.6" cy="1372.8" r="5.2"/><circle cx="871.9" cy="1439" r="5.2"/><circle cx="886" cy="1276.8" r="5.2"/><circle cx="878" cy="1305.5" r="5.2"/><circle cx="885.1" cy="1114.6" r="5.2"/><circle cx="874.2" cy="1409" r="5.2"/><circle cx="885.2" cy="1016.7" r="5.2"/><circle cx="886.7" cy="1435.4" r="5.2"/><circle cx="873" cy="1191" r="5.2"/><circle cx="881.8" cy="1131.6" r="5.2"/><circle cx="886.2" cy="1394.4" r="5.2"/><circle cx="875.6" cy="1162.9" r="5.2"/><circle cx="879.9" cy="1267.5" r="5.2"/><circle cx="870.9" cy="1284.2" r="5.2"/><circle cx="887.4" cy="1257.6" r="5.2"/><circle cx="885.6" cy="1292.8" r="5.2"/><circle cx="875.4" cy="1304.6" r="5.2"/><circle cx="870.3" cy="1188.9" r="5.2"/><circle cx="887.4" cy="1217.6" r="5.2"/><circle cx="872.8" cy="1196" r="5.2"/><circle cx="887.1" cy="1250.2" r="5.2"/><circle cx="874.4" cy="1127" r="5.2"/><circle cx="881.6" cy="1388.8" r="5.2"/><circle cx="882.8" cy="1122.7" r="5.2"/><circle cx="874.5" cy="1100.7" r="5.2"/><circle cx="871.2" cy="1208.1" r="5.2"/><circle cx="871.8" cy="1136.8" r="5.2"/><circle cx="885.5" cy="1379" r="5.2"/><circle cx="878" cy="1333.1" r="5.2"/><circle cx="881.8" cy="1210.3" r="5.2"/><circle cx="875.8" cy="1241.1" r="5.2"/><circle cx="877.4" cy="1428.9" r="5.2"/><circle cx="885.6" cy="1243.6" r="5.2"/><circle cx="872.9" cy="1324.9" r="5.2"/><circle cx="879.2" cy="1220.7" r="5.2"/><circle cx="886" cy="1185.3" r="5.2"/><circle cx="872.2" cy="1211.6" r="5.2"/><circle cx="874.5" cy="1120" r="5.2"/><circle cx="874.1" cy="1262.6" r="5.2"/><circle cx="877.3" cy="1235.5" r="5.2"/><circle cx="882.4" cy="1269.5" r="5.2"/><circle cx="879.1" cy="1218.2" r="5.2"/><circle cx="870.2" cy="1428.3" r="5.2"/><circle cx="877.4" cy="1245.1" r="5.2"/><circle cx="879.4" cy="1265.9" r="5.2"/><circle cx="879.3" cy="1317" r="5.2"/><circle cx="885.5" cy="1403" r="5.2"/><circle cx="879.2" cy="1430.8" r="5.2"/><circle cx="886.7" cy="1386.4" r="5.2"/><circle cx="880.4" cy="1200.5" r="5.2"/><circle cx="882.7" cy="1124.7" r="5.2"/><circle cx="871.1" cy="1352.5" r="5.2"/><circle cx="882.9" cy="1328.6" r="5.2"/><circle cx="869.9" cy="1202.2" r="5.2"/><circle cx="877.6" cy="1420.3" r="5.2"/><circle cx="872.4" cy="1298.1" r="5.2"/><circle cx="882.3" cy="1313.4" r="5.2"/><circle cx="883" cy="1379.6" r="5.2"/><circle cx="870.1" cy="1273.5" r="5.2"/><circle cx="870.4" cy="1002.6" r="5.2"/><circle cx="870.4" cy="1157.5" r="5.2"/><circle cx="886.2" cy="1166.3" r="5.2"/><circle cx="887.8" cy="1382.2" r="5.2"/><circle cx="881.5" cy="1256.4" r="5.2"/><circle cx="881.2" cy="1150.5" r="5.2"/><circle cx="874.7" cy="1223.1" r="5.2"/><circle cx="872" cy="1232" r="5.2"/><circle cx="883.8" cy="1237.7" r="5.2"/><circle cx="875.7" cy="1433.4" r="5.2"/><circle cx="875.1" cy="1424.2" r="5.2"/><circle cx="887.5" cy="1147.9" r="5.2"/><circle cx="874" cy="1311.5" r="5.2"/><circle cx="884.3" cy="1048.5" r="5.2"/><circle cx="872" cy="1357" r="5.2"/><circle cx="881.2" cy="1272" r="5.2"/><circle cx="877.9" cy="1320.3" r="5.2"/><circle cx="871.7" cy="1396.2" r="5.2"/><circle cx="881.5" cy="1362.5" r="5.2"/><circle cx="873.1" cy="1213.9" r="5.2"/><circle cx="883.8" cy="1294.1" r="5.2"/><circle cx="884.7" cy="1440.2" r="5.2"/><circle cx="882.8" cy="1022.7" r="5.2"/><circle cx="871" cy="1170.2" r="5.2"/><circle cx="883.7" cy="1139.9" r="5.2"/><circle cx="880.7" cy="1063.2" r="5.2"/><circle cx="880" cy="1370.7" r="5.2"/><circle cx="872.5" cy="1185.4" r="5.2"/><circle cx="876.4" cy="1375.8" r="5.2"/><circle cx="870.7" cy="1086.2" r="5.2"/><circle cx="875.3" cy="1308.3" r="5.2"/><circle cx="874.6" cy="1228.9" r="5.2"/><circle cx="887.6" cy="1193.5" r="5.2"/><circle cx="873.9" cy="1213.4" r="5.2"/><circle cx="887.3" cy="1091.9" r="5.2"/><circle cx="885.7" cy="1413" r="5.2"/><circle cx="877.4" cy="1198" r="5.2"/><circle cx="879.6" cy="1115.2" r="5.2"/><circle cx="879.2" cy="1347.6" r="5.2"/><circle cx="873.4" cy="1289.5" r="5.2"/><circle cx="882.3" cy="1286.6" r="5.2"/><circle cx="875.1" cy="1225.4" r="5.2"/><circle cx="880.2" cy="1335.8" r="5.2"/><circle cx="869.8" cy="1178.7" r="5.2"/><circle cx="878.4" cy="1397.9" r="5.2"/><circle cx="881" cy="1183" r="5.2"/><circle cx="879.7" cy="1130.1" r="5.2"/><circle cx="875.5" cy="1282" r="5.2"/><circle cx="883.8" cy="1168.7" r="5.2"/><circle cx="880.8" cy="1057.3" r="5.2"/><circle cx="884.5" cy="1252.7" r="5.2"/><circle cx="880.9" cy="1421.5" r="5.2"/><circle cx="878.1" cy="1209.1" r="5.2"/><circle cx="875.3" cy="1254.8" r="5.2"/><circle cx="875.6" cy="1417.7" r="5.2"/><circle cx="877.4" cy="1359.2" r="5.2"/><circle cx="873.4" cy="1095.1" r="5.2"/><circle cx="883.8" cy="1297.1" r="5.2"/><circle cx="877.6" cy="1135.3" r="5.2"/><circle cx="875" cy="1157.1" r="5.2"/><circle cx="885.7" cy="1076.6" r="5.2"/><circle cx="880.5" cy="1140.9" r="5.2"/><circle cx="875.1" cy="1330.4" r="5.2"/><circle cx="881.8" cy="943.8" r="5.2"/></g>
<path d="M963.2 980.46V1201.4M963.2 1375.98V1456.33" stroke="#333" stroke-width="1.9" fill="none"/>
<rect x="941.6" y="1201.4" width="43.2" height="174.59" fill="none" stroke="#333" stroke-width="1.9"/>
<path d="M941.6 1264.74H984.8" stroke="#333" stroke-width="3.6" fill="none"/>
<g fill="#b00000" stroke="#000" stroke-width="1.2"><circle cx="970.8" cy="1098.4" r="5.2"/><circle cx="967.9" cy="1228.5" r="5.2"/><circle cx="962.7" cy="1382.2" r="5.2"/><circle cx="954.3" cy="1231.2" r="5.2"/><circle cx="959" cy="1116.7" r="5.2"/><circle cx="965.7" cy="1406.1" r="5.2"/><circle cx="956.8" cy="1277.3" r="5.2"/><circle cx="970" cy="1257.5" r="5.2"/><circle cx="970.5" cy="1303.1" r="5.2"/><circle cx="956.9" cy="1232" r="5.2"/><circle cx="972" cy="1217.6" r="5.2"/><circle cx="957.5" cy="1418.8" r="5.2"/><circle cx="961.6" cy="1443.1" r="5.2"/><circle cx="969.6" cy="1177.2" r="5.2"/><circle cx="959.3" cy="1269.5" r="5.2"/><circle cx="965.4" cy="1444.8" r="5.2"/><circle cx="966.7" cy="1432.2" r="5.2"/><circle cx="971.7" cy="1383" r="5.2"/><circle cx="957.1" cy="1396.5" r="5.2"/><circle cx="968" cy="1124.9" r="5.2"/><circle cx="964.6" cy="1276.9" r="5.2"/><circle cx="962" cy="1254.6" r="5.2"/><circle cx="971.1" cy="1012.3" r="5.2"/><circle cx="971.9" cy="1407.1" r="5.2"/><circle cx="955.3" cy="1138.7" r="5.2"/><circle cx="958.7" cy="1349.8" r="5.2"/><circle cx="958.7" cy="1190.4" r="5.2"/><circle cx="960.3" cy="1223.5" r="5.2"/><circle cx="968.7" cy="1187.1" r="5.2"/><circle cx="957.9" cy="1415.8" r="5.2"/><circle cx="964.3" cy="1210.3" r="5.2"/><circle cx="969.8" cy="1267.4" r="5.2"/><circle cx="966.5" cy="1420.9" r="5.2"/><circle cx="957.3" cy="1296.8" r="5.2"/><circle cx="968" cy="1026.6" r="5.2"/><circle cx="958.6" cy="1105.5" r="5.2"/><circle cx="957.6" cy="1196.7" r="5.2"/><circle cx="972.2" cy="1318.3" r="5.2"/><circle cx="965.9" cy="1386.7" r="5.2"/><circle cx="961.6" cy="1216.4" r="5.2"/><circle cx="960.4" cy="1439.3" r="5.2"/><circle cx="962.9" cy="1002.9" r="5.2"/><circle cx="966.7" cy="1379" r="5.2"/><circle cx="971.1" cy="1181.2" r="5.2"/><circle cx="955.4" cy="1292.8" r="5.2"/><circle cx="963.8" cy="1067.4" r="5.2"/><circle cx="967.2" cy="1283" r="5.2"/><circle cx="968.6" cy="1307.7" r="5.2"/><circle cx="960.8" cy="1134.5" r="5.2"/><circle cx="954.6" cy="1161.6" r="5.2"/><circle cx="954.9" cy="1447.1" r="5.2"/><circle cx="959.7" cy="1082.4" r="5.2"/><circle cx="959" cy="1398.3" r="5.2"/><circle cx="963.9" cy="1168.9" r="5.2"/><circle cx="966.4" cy="1324.4" r="5.2"/><circle cx="963.1" cy="1088.6" r="5.2"/><circle cx="967.5" cy="1434" r="5.2"/><circle cx="969.5" cy="1455.6" r="5.2"/><circle cx="966.3" cy="1167.6" r="5.2"/><circle cx="962.2" cy="1264.2" r="5.2"/><circle cx="958.7" cy="1199.6" r="5.2"/><circle cx="958.8" cy="1429.2" r="5.2"/><circle cx="969.9" cy="1289.8" r="5.2"/><circle cx="956.9" cy="1254.4" r="5.2"/><circle cx="961.5" cy="1304.1" r="5.2"/><circle cx="959.1" cy="1246.8" r="5.2"/><circle cx="970.9" cy="1367.1" r="5.2"/><circle cx="960" cy="1242" r="5.2"/><circle cx="969.6" cy="1297.3" r="5.2"/><circle cx="966.3" cy="1274.7" r="5.2"/><circle cx="959.5" cy="1387.8" r="5.2"/><circle cx="961.5" cy="1279.9" r="5.2"/><circle cx="968.4" cy="1220.6" r="5.2"/><circle cx="961.4" cy="1244" r="5.2"/><circle cx="970.1" cy="1251.2" r="5.2"/><circle cx="964.2" cy="1207.6" r="5.2"/><circle cx="959.1" cy="1250.3" r="5.2"/><circle cx="970.2" cy="1147.7" r="5.2"/><circle cx="955.3" cy="1155.5" r="5.2"/><circle cx="968.6" cy="1041.3" r="5.2"/><circle cx="956.7" cy="1221.6" r="5.2"/><circle cx="969.1" cy="1202.7" r="5.2"/><circle cx="969.2" cy="1262.1" r="5.2"/><circle cx="962.6" cy="1151.8" r="5.2"/><circle cx="959.1" cy="1164" r="5.2"/><circle cx="954.3" cy="1225.8" r="5.2"/><circle cx="964.5" cy="1184.6" r="5.2"/><circle cx="958.1" cy="1271.8" r="5.2"/><circle cx="969.2" cy="1299.5" r="5.2"/><circle cx="963.4" cy="1452.9" r="5.2"/><circle cx="969.3" cy="991.9" r="5.2"/><circle cx="962.1" cy="1290.6" r="5.2"/><circle cx="955" cy="1179.8" r="5.2"/><circle cx="958.1" cy="1205.7" r="5.2"/><circle cx="963.9" cy="1309.4" r="5.2"/><circle cx="964.3" cy="1411.6" r="5.2"/><circle cx="956.5" cy="1409.3" r="5.2"/><circle cx="960.8" cy="1425" r="5.2"/><circle cx="969.9" cy="1315.5" r="5.2"/><circle cx="956.5" cy="1401.9" r="5.2"/><circle cx="957.8" cy="1392.6" r="5.2"/><circle cx="966.3" cy="1226.9" r="5.2"/><circle cx="966.2" cy="1336.9" r="5.2"/><circle cx="964.2" cy="1260.7" r="5.2"/><circle cx="969.6" cy="1417" r="5.2"/><circle cx="960.5" cy="1212.7" r="5.2"/><circle cx="961.6" cy="987.6" r="5.2"/><circle cx="971.2" cy="1174.4" r="5.2"/><circle cx="967.5" cy="1400.2" r="5.2"/><circle cx="966.2" cy="1051.8" r="5.2"/><circle cx="965.4" cy="1391.1" r="5.2"/><circle cx="957" cy="1320.1" r="5.2"/><circle cx="968.4" cy="1376.6" r="5.2"/><circle cx="965.6" cy="1426.3" r="5.2"/><circle cx="964.4" cy="1248.6" r="5.2"/><circle cx="956.7" cy="1323.1" r="5.2"/><circle cx="964.3" cy="1234.8" r="5.2"/><circle cx="964.2" cy="1158.4" r="5.2"/><circle cx="961.4" cy="1436" r="5.2"/><circle cx="959" cy="1364.4" r="5.2"/><circle cx="961.2" cy="1334.8" r="5.2"/><circle cx="957.7" cy="1312.9" r="5.2"/><circle cx="965.9" cy="1287.3" r="5.2"/><circle cx="957.8" cy="1239.3" r="5.2"/><circle cx="955.7" cy="1241.2" r="5.2"/><circle cx="960.6" cy="1310.9" r="5.2"/><circle cx="959.4" cy="1195.8" r="5.2"/><circle cx="970.3" cy="1259.3" r="5.2"/><circle cx="954.8" cy="1214.5" r="5.2"/><circle cx="965.3" cy="1205.6" r="5.2"/><circle cx="964.1" cy="1236.7" r="5.2"/><circle cx="958.2" cy="1284.1" r="5.2"/><circle cx="959.1" cy="1353.7" r="5.2"/><circle cx="966.4" cy="1450.7" r="5.2"/><circle cx="962.9" cy="1440.9" r="5.2"/></g>
<rect x="829.7" y="918.5" width="183.6" height="562.9" fill="none" stroke="#111" stroke-width="2.6"/>
<path d="M822.2 1386.8H828.7M822.2 1232.3H828.7M822.2 1077.8H828.7M822.2 923.3H828.7M878.8 1482.4V1489.4M963.2 1482.4V1489.4" stroke="#333" stroke-width="1" fill="none"/>
<text x="808.71" y="1394.3" font-size="21.3" textLength="10.19" lengthAdjust="spacingAndGlyphs" fill="#4d4d4d" stroke="#4d4d4d" stroke-width="0.49">2</text>
<text x="808.71" y="1239.8" font-size="21.3" textLength="10.19" lengthAdjust="spacingAndGlyphs" fill="#4d4d4d" stroke="#4d4d4d" stroke-width="0.49">3</text>
<text x="808.71" y="1085.3" font-size="21.3" textLength="10.19" lengthAdjust="spacingAndGlyphs" fill="#4d4d4d" stroke="#4d4d4d" stroke-width="0.49">4</text>
<text x="808.71" y="930.8" font-size="21.3" textLength="10.19" lengthAdjust="spacingAndGlyphs" fill="#4d4d4d" stroke="#4d4d4d" stroke-width="0.49">5</text>
<text x="837" y="884.3" font-size="21.6" textLength="116.6" lengthAdjust="spacingAndGlyphs" stroke="#000" stroke-width="0.5">Tumor_Ploidy</text>
<text x="837" y="906.8" font-size="21.6" textLength="59.8" lengthAdjust="spacingAndGlyphs" stroke="#000" stroke-width="0.5">P=0.07</text>
<text transform="translate(856.8 1520) rotate(-30)" x="0" y="0" font-size="21" textLength="34" lengthAdjust="spacingAndGlyphs" fill="#4d4d4d" stroke="#4d4d4d" stroke-width="0.48">LAS</text>
<text transform="translate(941.2 1520) rotate(-30)" x="0" y="0" font-size="21" textLength="34" lengthAdjust="spacingAndGlyphs" fill="#4d4d4d" stroke="#4d4d4d" stroke-width="0.48">HAS</text>
<path d="M1065.4 1384.6H1248.5M1065.4 1259.3H1248.5M1065.4 1134H1248.5M1065.4 1008.7H1248.5" stroke="#d0d0d0" stroke-width="0.9" fill="none"/>
<path d="M1114.2 942.92V1088.89M1114.2 1187.25V1310.05" stroke="#333" stroke-width="1.9" fill="none"/>
<rect x="1092.6" y="1088.89" width="43.2" height="98.36" fill="none" stroke="#333" stroke-width="1.9"/>
<path d="M1092.6 1135.88H1135.8" stroke="#333" stroke-width="3.6" fill="none"/>
<g fill="#f5e6c0" stroke="#000" stroke-width="1.2"><circle cx="1110.9" cy="1140.2" r="5.2"/><circle cx="1112.9" cy="1153" r="5.2"/><circle cx="1112.4" cy="1144.9" r="5.2"/><circle cx="1116" cy="1126.4" r="5.2"/><circle cx="1118.7" cy="1083.1" r="5.2"/><circle cx="1122.4" cy="1024.8" r="5.2"/><circle cx="1114" cy="1135.1" r="5.2"/><circle cx="1112.7" cy="1179" r="5.2"/><circle cx="1107.3" cy="1051.6" r="5.2"/><circle cx="1121.5" cy="1165.1" r="5.2"/><circle cx="1113" cy="974.6" r="5.2"/><circle cx="1106.1" cy="1094.1" r="5.2"/><circle cx="1108" cy="1196" r="5.2"/><circle cx="1107.4" cy="999.1" r="5.2"/><circle cx="1106.5" cy="1043.7" r="5.2"/><circle cx="1121.3" cy="1307.7" r="5.2"/><circle cx="1111.1" cy="1173.4" r="5.2"/><circle cx="1110.6" cy="1185.9" r="5.2"/><circle cx="1111.8" cy="1124.8" r="5.2"/><circle cx="1117" cy="1170.6" r="5.2"/><circle cx="1118.8" cy="1117.7" r="5.2"/><circle cx="1110.6" cy="1248.3" r="5.2"/><circle cx="1113.9" cy="1138.9" r="5.2"/><circle cx="1111.1" cy="1101.4" r="5.2"/><circle cx="1116.2" cy="1122.7" r="5.2"/><circle cx="1119.4" cy="1098.8" r="5.2"/><circle cx="1110.3" cy="1106.9" r="5.2"/><circle cx="1113.3" cy="1054.5" r="5.2"/><circle cx="1119.4" cy="1253.8" r="5.2"/><circle cx="1112.3" cy="1163.2" r="5.2"/><circle cx="1122.9" cy="1070.1" r="5.2"/><circle cx="1118.5" cy="1076.9" r="5.2"/><circle cx="1114.6" cy="1205.9" r="5.2"/><circle cx="1116.2" cy="1204.1" r="5.2"/><circle cx="1106.3" cy="1149" r="5.2"/><circle cx="1105.4" cy="1134.5" r="5.2"/><circle cx="1120.2" cy="1102.5" r="5.2"/><circle cx="1110.1" cy="1112.7" r="5.2"/><circle cx="1115.3" cy="1021.4" r="5.2"/><circle cx="1122.5" cy="1128.2" r="5.2"/><circle cx="1110.9" cy="1120.8" r="5.2"/><circle cx="1114.8" cy="1188.9" r="5.2"/><circle cx="1119.3" cy="1062.7" r="5.2"/><circle cx="1114.2" cy="1120.1" r="5.2"/><circle cx="1109.2" cy="1143.9" r="5.2"/><circle cx="1121.8" cy="1016.8" r="5.2"/><circle cx="1121.2" cy="1169.8" r="5.2"/><circle cx="1107.2" cy="1256.5" r="5.2"/><circle cx="1112.4" cy="1108.9" r="5.2"/><circle cx="1121.9" cy="1090.7" r="5.2"/><circle cx="1105.4" cy="1198.2" r="5.2"/><circle cx="1115.4" cy="1238.1" r="5.2"/><circle cx="1109" cy="1013.8" r="5.2"/><circle cx="1107.4" cy="1241.3" r="5.2"/><circle cx="1120.7" cy="1109.7" r="5.2"/><circle cx="1113.1" cy="1061.8" r="5.2"/><circle cx="1109.9" cy="1176.6" r="5.2"/><circle cx="1106.2" cy="1220.6" r="5.2"/><circle cx="1105.6" cy="1291.5" r="5.2"/><circle cx="1112.7" cy="1222.5" r="5.2"/><circle cx="1121.7" cy="1067.1" r="5.2"/><circle cx="1106.9" cy="1114.7" r="5.2"/><circle cx="1118.5" cy="1161.4" r="5.2"/><circle cx="1112.7" cy="1075.1" r="5.2"/><circle cx="1106.2" cy="1096.6" r="5.2"/><circle cx="1119.9" cy="1194.6" r="5.2"/><circle cx="1115.1" cy="1146.7" r="5.2"/><circle cx="1122.5" cy="1201.4" r="5.2"/><circle cx="1122.6" cy="1132.2" r="5.2"/><circle cx="1113.5" cy="1215.1" r="5.2"/><circle cx="1111.5" cy="1283.4" r="5.2"/><circle cx="1110.6" cy="1124.3" r="5.2"/><circle cx="1118.4" cy="1046.4" r="5.2"/><circle cx="1110.5" cy="1226.4" r="5.2"/><circle cx="1112.6" cy="1200" r="5.2"/><circle cx="1111" cy="1048.5" r="5.2"/><circle cx="1122" cy="1086.7" r="5.2"/><circle cx="1120.5" cy="1181.6" r="5.2"/><circle cx="1110.8" cy="1025.9" r="5.2"/><circle cx="1106" cy="1180.1" r="5.2"/><circle cx="1115.2" cy="1216.1" r="5.2"/><circle cx="1114.7" cy="1147.6" r="5.2"/><circle cx="1107.1" cy="1211.8" r="5.2"/><circle cx="1113.1" cy="1051.7" r="5.2"/><circle cx="1120.2" cy="1038.6" r="5.2"/><circle cx="1122.6" cy="1183.6" r="5.2"/><circle cx="1107" cy="1142.2" r="5.2"/><circle cx="1111.7" cy="1155.2" r="5.2"/><circle cx="1120.5" cy="1210.3" r="5.2"/><circle cx="1122.7" cy="1207.9" r="5.2"/><circle cx="1122.9" cy="1104.2" r="5.2"/><circle cx="1120.7" cy="1202.4" r="5.2"/><circle cx="1106.8" cy="1230.3" r="5.2"/><circle cx="1118" cy="1192.7" r="5.2"/><circle cx="1109.7" cy="1114.3" r="5.2"/><circle cx="1122.2" cy="1168.2" r="5.2"/><circle cx="1112.9" cy="1111" r="5.2"/><circle cx="1112.7" cy="1010.3" r="5.2"/><circle cx="1114.9" cy="1008.7" r="5.2"/><circle cx="1118.9" cy="1095.2" r="5.2"/><circle cx="1113.3" cy="1152.2" r="5.2"/><circle cx="1113.3" cy="1217.8" r="5.2"/><circle cx="1120.2" cy="1150.1" r="5.2"/><circle cx="1116.8" cy="1183.3" r="5.2"/><circle cx="1106.5" cy="1064.9" r="5.2"/><circle cx="1114.8" cy="1261.4" r="5.2"/><circle cx="1109.1" cy="1219.9" r="5.2"/><circle cx="1109.8" cy="1160.2" r="5.2"/><circle cx="1108" cy="1191" r="5.2"/><circle cx="1112.5" cy="1133" r="5.2"/><circle cx="1114.4" cy="1228" r="5.2"/><circle cx="1118.7" cy="1058.6" r="5.2"/><circle cx="1113.7" cy="988.7" r="5.2"/><circle cx="1116.4" cy="1092.6" r="5.2"/><circle cx="1112.5" cy="1204.7" r="5.2"/><circle cx="1119.2" cy="1224.5" r="5.2"/><circle cx="1115.6" cy="1081.3" r="5.2"/><circle cx="1106.6" cy="1178.4" r="5.2"/><circle cx="1115.4" cy="1166.8" r="5.2"/><circle cx="1113.8" cy="1156.2" r="5.2"/><circle cx="1112" cy="957.8" r="5.2"/><circle cx="1121.7" cy="1175" r="5.2"/><circle cx="1120.3" cy="1003.9" r="5.2"/><circle cx="1106.1" cy="1150.9" r="5.2"/><circle cx="1114.3" cy="1248" r="5.2"/><circle cx="1111.9" cy="1141.5" r="5.2"/><circle cx="1119.9" cy="1099.5" r="5.2"/><circle cx="1117.4" cy="1106.5" r="5.2"/><circle cx="1114" cy="1172.2" r="5.2"/><circle cx="1110.6" cy="1162.2" r="5.2"/><circle cx="1107.2" cy="1033.9" r="5.2"/><circle cx="1115.1" cy="1035.6" r="5.2"/><circle cx="1109.6" cy="1224" r="5.2"/><circle cx="1111.8" cy="1158" r="5.2"/><circle cx="1107.5" cy="1236.1" r="5.2"/><circle cx="1119.5" cy="1111.6" r="5.2"/><circle cx="1107.3" cy="1030" r="5.2"/><circle cx="1112.9" cy="1157.2" r="5.2"/><circle cx="1114.2" cy="1166.2" r="5.2"/><circle cx="1116.7" cy="1089" r="5.2"/><circle cx="1120.5" cy="1214" r="5.2"/><circle cx="1118.7" cy="1136.7" r="5.2"/><circle cx="1106.2" cy="1116.4" r="5.2"/><circle cx="1120.9" cy="991.3" r="5.2"/><circle cx="1118.4" cy="1194.2" r="5.2"/><circle cx="1111.8" cy="1127.3" r="5.2"/><circle cx="1116.8" cy="1096.8" r="5.2"/><circle cx="1107.3" cy="1042.5" r="5.2"/><circle cx="1110.9" cy="1100.5" r="5.2"/><circle cx="1105.8" cy="978.7" r="5.2"/><circle cx="1117.4" cy="1072.1" r="5.2"/><circle cx="1115.8" cy="1121.8" r="5.2"/><circle cx="1115.9" cy="1130" r="5.2"/><circle cx="1105.7" cy="1187.8" r="5.2"/><circle cx="1105.3" cy="1130.4" r="5.2"/><circle cx="1114.8" cy="1270.4" r="5.2"/><circle cx="1107.2" cy="1175.7" r="5.2"/><circle cx="1109.3" cy="1137.2" r="5.2"/><circle cx="1117.2" cy="1038.1" r="5.2"/><circle cx="1107.2" cy="1186.1" r="5.2"/><circle cx="1112" cy="1056.8" r="5.2"/><circle cx="1108" cy="1209" r="5.2"/><circle cx="1115.1" cy="1091.5" r="5.2"/><circle cx="1105.3" cy="1079.3" r="5.2"/><circle cx="1114.5" cy="1118.6" r="5.2"/><circle cx="1106.7" cy="1105.2" r="5.2"/><circle cx="1117.3" cy="943.6" r="5.2"/><circle cx="1105.6" cy="1086.8" r="5.2"/><circle cx="1121.2" cy="1337.6" r="5.2"/><circle cx="1108.2" cy="1350.1" r="5.2"/><circle cx="1110.2" cy="1362" r="5.2"/><circle cx="1112.2" cy="1394" r="5.2"/><circle cx="1106.2" cy="1436" r="5.2"/><circle cx="1109.2" cy="1457.3" r="5.2"/></g>
<path d="M1198.6 996.17V1094.53M1198.6 1176.6V1279.35" stroke="#333" stroke-width="1.9" fill="none"/>
<rect x="1177" y="1094.53" width="43.2" height="82.07" fill="none" stroke="#333" stroke-width="1.9"/>
<path d="M1177 1140.26H1220.2" stroke="#333" stroke-width="3.6" fill="none"/>
<g fill="#b00000" stroke="#000" stroke-width="1.2"><circle cx="1198.9" cy="1097.5" r="5.2"/><circle cx="1204" cy="1057.9" r="5.2"/><circle cx="1206.6" cy="1167.1" r="5.2"/><circle cx="1206.4" cy="1125.1" r="5.2"/><circle cx="1205.9" cy="1054.6" r="5.2"/><circle cx="1197.3" cy="1047.4" r="5.2"/><circle cx="1195.5" cy="1180.4" r="5.2"/><circle cx="1195.2" cy="1192.7" r="5.2"/><circle cx="1194.8" cy="1024.2" r="5.2"/><circle cx="1190" cy="1165.9" r="5.2"/><circle cx="1193.8" cy="1126.9" r="5.2"/><circle cx="1206.2" cy="1187.8" r="5.2"/><circle cx="1198.5" cy="1092.7" r="5.2"/><circle cx="1192.5" cy="1161.5" r="5.2"/><circle cx="1197.9" cy="1131.6" r="5.2"/><circle cx="1202.9" cy="1158.5" r="5.2"/><circle cx="1201.4" cy="1152.5" r="5.2"/><circle cx="1198.7" cy="1016.1" r="5.2"/><circle cx="1190.5" cy="1226.4" r="5.2"/><circle cx="1192.9" cy="1230.9" r="5.2"/><circle cx="1194.7" cy="1107" r="5.2"/><circle cx="1203.3" cy="1190.2" r="5.2"/><circle cx="1195.1" cy="1147.6" r="5.2"/><circle cx="1192.7" cy="1159.5" r="5.2"/><circle cx="1202" cy="1104.3" r="5.2"/><circle cx="1190.9" cy="1233" r="5.2"/><circle cx="1189.6" cy="1094.7" r="5.2"/><circle cx="1207.1" cy="1073.3" r="5.2"/><circle cx="1191.3" cy="1105.4" r="5.2"/><circle cx="1191" cy="1195.7" r="5.2"/><circle cx="1194.6" cy="1071.3" r="5.2"/><circle cx="1192.9" cy="1149.2" r="5.2"/><circle cx="1190.3" cy="1146.6" r="5.2"/><circle cx="1199.3" cy="1132" r="5.2"/><circle cx="1197.8" cy="1244.6" r="5.2"/><circle cx="1199.6" cy="1042.7" r="5.2"/><circle cx="1205.5" cy="1123" r="5.2"/><circle cx="1195.1" cy="1222.7" r="5.2"/><circle cx="1200.1" cy="1135.4" r="5.2"/><circle cx="1194.8" cy="1117.4" r="5.2"/><circle cx="1207.3" cy="1118.4" r="5.2"/><circle cx="1198.6" cy="1153.7" r="5.2"/><circle cx="1200.7" cy="1144.7" r="5.2"/><circle cx="1200.8" cy="1140.7" r="5.2"/><circle cx="1204.5" cy="1061.1" r="5.2"/><circle cx="1204.8" cy="1170.5" r="5.2"/><circle cx="1207.1" cy="1174.2" r="5.2"/><circle cx="1199.8" cy="1210.8" r="5.2"/><circle cx="1189.9" cy="1148.3" r="5.2"/><circle cx="1206.7" cy="1247.1" r="5.2"/><circle cx="1199.9" cy="1087" r="5.2"/><circle cx="1206.6" cy="1204.5" r="5.2"/><circle cx="1191.8" cy="1241.4" r="5.2"/><circle cx="1206" cy="1128.7" r="5.2"/><circle cx="1201.1" cy="1074.5" r="5.2"/><circle cx="1198.3" cy="1077.7" r="5.2"/><circle cx="1207.2" cy="1167.1" r="5.2"/><circle cx="1205.5" cy="1262.8" r="5.2"/><circle cx="1195.9" cy="1228.1" r="5.2"/><circle cx="1196.8" cy="1162.7" r="5.2"/><circle cx="1199.3" cy="1213.4" r="5.2"/><circle cx="1196" cy="1138.4" r="5.2"/><circle cx="1197.1" cy="1134.3" r="5.2"/><circle cx="1194.4" cy="1089.3" r="5.2"/><circle cx="1203.3" cy="1207.3" r="5.2"/><circle cx="1198.7" cy="1048.5" r="5.2"/><circle cx="1205.5" cy="1136.5" r="5.2"/><circle cx="1192.5" cy="1183.1" r="5.2"/><circle cx="1204.6" cy="999.6" r="5.2"/><circle cx="1196.4" cy="1095.2" r="5.2"/><circle cx="1197.6" cy="1068.5" r="5.2"/><circle cx="1204" cy="1064.4" r="5.2"/><circle cx="1190.5" cy="1162.6" r="5.2"/><circle cx="1199.7" cy="1101.2" r="5.2"/><circle cx="1198.7" cy="1185.4" r="5.2"/><circle cx="1196.2" cy="1142.8" r="5.2"/><circle cx="1193.1" cy="1004.4" r="5.2"/><circle cx="1206.7" cy="1108.3" r="5.2"/><circle cx="1195.6" cy="1130.2" r="5.2"/><circle cx="1201.8" cy="1274.6" r="5.2"/><circle cx="1190" cy="1156.4" r="5.2"/><circle cx="1204" cy="1153.9" r="5.2"/><circle cx="1198" cy="1150.6" r="5.2"/><circle cx="1194.5" cy="1237.9" r="5.2"/><circle cx="1199.1" cy="1216.9" r="5.2"/><circle cx="1202.6" cy="1114.7" r="5.2"/><circle cx="1198.8" cy="1120.2" r="5.2"/><circle cx="1206.2" cy="1099.1" r="5.2"/><circle cx="1206.6" cy="1035.2" r="5.2"/><circle cx="1193.6" cy="1199.1" r="5.2"/><circle cx="1193.5" cy="1003.4" r="5.2"/><circle cx="1193" cy="1168.8" r="5.2"/><circle cx="1193.4" cy="1157.6" r="5.2"/><circle cx="1200.5" cy="1172" r="5.2"/><circle cx="1203.9" cy="1175.4" r="5.2"/><circle cx="1192.9" cy="1221" r="5.2"/><circle cx="1199.1" cy="1205.9" r="5.2"/><circle cx="1200.1" cy="1111.7" r="5.2"/><circle cx="1206.5" cy="1236.3" r="5.2"/><circle cx="1191.1" cy="1066" r="5.2"/><circle cx="1193.6" cy="1155.1" r="5.2"/><circle cx="1192.4" cy="1110.2" r="5.2"/><circle cx="1192.5" cy="1121.1" r="5.2"/><circle cx="1192.7" cy="1115.1" r="5.2"/><circle cx="1201" cy="1086.2" r="5.2"/><circle cx="1194.2" cy="1056" r="5.2"/><circle cx="1203.3" cy="1163.9" r="5.2"/><circle cx="1193.8" cy="1113.2" r="5.2"/><circle cx="1195.3" cy="1139.5" r="5.2"/><circle cx="1202.7" cy="1256.9" r="5.2"/><circle cx="1198.3" cy="1026" r="5.2"/><circle cx="1196.3" cy="1242.8" r="5.2"/><circle cx="1199.8" cy="1180.2" r="5.2"/><circle cx="1204.7" cy="1017.1" r="5.2"/><circle cx="1198.4" cy="1030.4" r="5.2"/><circle cx="1194.3" cy="1145.5" r="5.2"/><circle cx="1198.6" cy="1078.9" r="5.2"/><circle cx="1191.8" cy="1218.3" r="5.2"/><circle cx="1191.1" cy="1201.6" r="5.2"/><circle cx="1193.8" cy="1061.6" r="5.2"/><circle cx="1195.8" cy="1009.4" r="5.2"/><circle cx="1198" cy="1170.4" r="5.2"/><circle cx="1191.2" cy="1081" r="5.2"/><circle cx="1197.9" cy="1173.1" r="5.2"/><circle cx="1195.8" cy="1103.6" r="5.2"/><circle cx="1198.6" cy="1100.5" r="5.2"/><circle cx="1197.9" cy="1084.6" r="5.2"/><circle cx="1198.1" cy="1142.2" r="5.2"/><circle cx="1194.9" cy="1176.6" r="5.2"/><circle cx="1205" cy="1124.3" r="5.2"/><circle cx="1193.6" cy="961.7" r="5.2"/><circle cx="1204.6" cy="1305.7" r="5.2"/><circle cx="1199.6" cy="1349.5" r="5.2"/><circle cx="1204.6" cy="1353.9" r="5.2"/><circle cx="1191.6" cy="1435.3" r="5.2"/></g>
<rect x="1065.4" y="918.5" width="183.1" height="562.9" fill="none" stroke="#111" stroke-width="2.6"/>
<path d="M1057.9 1384.6H1064.4M1057.9 1259.3H1064.4M1057.9 1134H1064.4M1057.9 1008.7H1064.4M1114.2 1482.4V1489.4M1198.6 1482.4V1489.4" stroke="#333" stroke-width="1" fill="none"/>
<text x="1044.41" y="1392.1" font-size="21.3" textLength="10.19" lengthAdjust="spacingAndGlyphs" fill="#4d4d4d" stroke="#4d4d4d" stroke-width="0.49">0</text>
<text x="1044.41" y="1266.8" font-size="21.3" textLength="10.19" lengthAdjust="spacingAndGlyphs" fill="#4d4d4d" stroke="#4d4d4d" stroke-width="0.49">2</text>
<text x="1044.41" y="1141.5" font-size="21.3" textLength="10.19" lengthAdjust="spacingAndGlyphs" fill="#4d4d4d" stroke="#4d4d4d" stroke-width="0.49">4</text>
<text x="1044.41" y="1016.2" font-size="21.3" textLength="10.19" lengthAdjust="spacingAndGlyphs" fill="#4d4d4d" stroke="#4d4d4d" stroke-width="0.49">6</text>
<text x="1072.7" y="884.3" font-size="21.6" textLength="94.4" lengthAdjust="spacingAndGlyphs" stroke="#000" stroke-width="0.5">TMB (log2)</text>
<text x="1072.7" y="906.8" font-size="21.6" textLength="58.8" lengthAdjust="spacingAndGlyphs" stroke="#000" stroke-width="0.5">P=0.91</text>
<text transform="translate(1092.2 1520) rotate(-30)" x="0" y="0" font-size="21" textLength="34" lengthAdjust="spacingAndGlyphs" fill="#4d4d4d" stroke="#4d4d4d" stroke-width="0.48">LAS</text>
<text transform="translate(1176.6 1520) rotate(-30)" x="0" y="0" font-size="21" textLength="34" lengthAdjust="spacingAndGlyphs" fill="#4d4d4d" stroke="#4d4d4d" stroke-width="0.48">HAS</text>
<path d="M1311.9 1455H1495.6M1311.9 1348.46H1495.6M1311.9 1241.92H1495.6M1311.9 1135.38H1495.6M1311.9 1028.84H1495.6M1311.9 922.3H1495.6" stroke="#d0d0d0" stroke-width="0.9" fill="none"/>
<path d="M1361.4 942.54V969.71M1361.4 1113.01V1453.4" stroke="#333" stroke-width="1.9" fill="none"/>
<rect x="1339.8" y="969.71" width="43.2" height="143.3" fill="none" stroke="#333" stroke-width="1.9"/>
<path d="M1339.8 1011.26H1383" stroke="#333" stroke-width="3.6" fill="none"/>
<g fill="#f5e6c0" stroke="#000" stroke-width="1.2"><circle cx="1362.2" cy="969.4" r="5.2"/><circle cx="1354.4" cy="977.6" r="5.2"/><circle cx="1355.1" cy="1059.3" r="5.2"/><circle cx="1362.8" cy="990.9" r="5.2"/><circle cx="1365.8" cy="1194.4" r="5.2"/><circle cx="1355.8" cy="1028.6" r="5.2"/><circle cx="1357.7" cy="1005.1" r="5.2"/><circle cx="1366.3" cy="1258.3" r="5.2"/><circle cx="1369.4" cy="994.6" r="5.2"/><circle cx="1358.6" cy="951.5" r="5.2"/><circle cx="1369" cy="962.1" r="5.2"/><circle cx="1359.9" cy="1079.6" r="5.2"/><circle cx="1352.8" cy="1110.3" r="5.2"/><circle cx="1367" cy="963.2" r="5.2"/><circle cx="1354.5" cy="943.8" r="5.2"/><circle cx="1352.9" cy="1371.6" r="5.2"/><circle cx="1360.4" cy="1011.2" r="5.2"/><circle cx="1353.1" cy="981.7" r="5.2"/><circle cx="1362" cy="1092.9" r="5.2"/><circle cx="1361.3" cy="1221" r="5.2"/><circle cx="1369" cy="959.7" r="5.2"/><circle cx="1365.7" cy="948.3" r="5.2"/><circle cx="1356.8" cy="1017.1" r="5.2"/><circle cx="1366.8" cy="975.5" r="5.2"/><circle cx="1356.5" cy="991.3" r="5.2"/><circle cx="1364.1" cy="1324.7" r="5.2"/><circle cx="1370.4" cy="1009.1" r="5.2"/><circle cx="1363.3" cy="959.1" r="5.2"/><circle cx="1353.1" cy="1002.1" r="5.2"/><circle cx="1364.1" cy="964.1" r="5.2"/><circle cx="1365.3" cy="950.3" r="5.2"/><circle cx="1370.2" cy="971.5" r="5.2"/><circle cx="1367.7" cy="1200.5" r="5.2"/><circle cx="1354.4" cy="986.9" r="5.2"/><circle cx="1356.4" cy="952.7" r="5.2"/><circle cx="1362.4" cy="1063.3" r="5.2"/><circle cx="1355.6" cy="957.3" r="5.2"/><circle cx="1359.9" cy="1038.6" r="5.2"/><circle cx="1368.7" cy="1391.7" r="5.2"/><circle cx="1360.7" cy="996.1" r="5.2"/><circle cx="1366.2" cy="1186.8" r="5.2"/><circle cx="1358.1" cy="1251.4" r="5.2"/><circle cx="1358.9" cy="1013.1" r="5.2"/><circle cx="1362" cy="986.4" r="5.2"/><circle cx="1363" cy="969.7" r="5.2"/><circle cx="1355.7" cy="1304.1" r="5.2"/><circle cx="1368.8" cy="1073.2" r="5.2"/><circle cx="1369.2" cy="964.7" r="5.2"/><circle cx="1361.4" cy="965.2" r="5.2"/><circle cx="1365.4" cy="960.4" r="5.2"/><circle cx="1364.4" cy="1217.1" r="5.2"/><circle cx="1360.5" cy="972.3" r="5.2"/><circle cx="1362.3" cy="1338.9" r="5.2"/><circle cx="1362.8" cy="1010.1" r="5.2"/><circle cx="1352.8" cy="1454.6" r="5.2"/><circle cx="1361.8" cy="956.3" r="5.2"/><circle cx="1369" cy="998.3" r="5.2"/><circle cx="1358.7" cy="1267.3" r="5.2"/><circle cx="1370" cy="955.3" r="5.2"/><circle cx="1367.6" cy="1006.9" r="5.2"/><circle cx="1355.3" cy="1034.4" r="5.2"/><circle cx="1352.5" cy="1047.8" r="5.2"/><circle cx="1355.6" cy="1308.1" r="5.2"/><circle cx="1357.2" cy="1011.5" r="5.2"/><circle cx="1357.8" cy="1044.6" r="5.2"/><circle cx="1352.7" cy="1042.6" r="5.2"/><circle cx="1366.7" cy="953.6" r="5.2"/><circle cx="1369" cy="1046.4" r="5.2"/><circle cx="1358.4" cy="985.3" r="5.2"/><circle cx="1368.4" cy="1309.1" r="5.2"/><circle cx="1363.5" cy="961.8" r="5.2"/><circle cx="1362" cy="978.3" r="5.2"/><circle cx="1358.8" cy="980.4" r="5.2"/><circle cx="1364.2" cy="989.3" r="5.2"/><circle cx="1369" cy="1320.1" r="5.2"/><circle cx="1361" cy="1239.7" r="5.2"/><circle cx="1356.8" cy="965.7" r="5.2"/><circle cx="1368.9" cy="1368.2" r="5.2"/><circle cx="1364.6" cy="1029.9" r="5.2"/><circle cx="1366.9" cy="1007.8" r="5.2"/><circle cx="1358.2" cy="944" r="5.2"/><circle cx="1364.6" cy="1139.6" r="5.2"/><circle cx="1361.5" cy="1347.5" r="5.2"/><circle cx="1360.1" cy="983.9" r="5.2"/><circle cx="1352.5" cy="943" r="5.2"/><circle cx="1359.4" cy="1004.4" r="5.2"/><circle cx="1359.1" cy="995.6" r="5.2"/><circle cx="1368" cy="976.2" r="5.2"/><circle cx="1369.6" cy="979.4" r="5.2"/><circle cx="1364.4" cy="1452" r="5.2"/><circle cx="1355.9" cy="987.9" r="5.2"/><circle cx="1368.2" cy="1025.1" r="5.2"/><circle cx="1362.4" cy="997.5" r="5.2"/><circle cx="1367.8" cy="1248.3" r="5.2"/><circle cx="1358.9" cy="1340.6" r="5.2"/><circle cx="1358.2" cy="1448.3" r="5.2"/><circle cx="1369.3" cy="1128.2" r="5.2"/><circle cx="1363.6" cy="1449.5" r="5.2"/><circle cx="1362.4" cy="983.5" r="5.2"/><circle cx="1368.5" cy="970.4" r="5.2"/><circle cx="1365.5" cy="951" r="5.2"/><circle cx="1363.2" cy="1331.1" r="5.2"/><circle cx="1365.2" cy="967.9" r="5.2"/><circle cx="1366.1" cy="1099.3" r="5.2"/><circle cx="1368.1" cy="1023.6" r="5.2"/><circle cx="1363.5" cy="1068.7" r="5.2"/><circle cx="1363.1" cy="1297.8" r="5.2"/><circle cx="1364.6" cy="1058.1" r="5.2"/><circle cx="1361.3" cy="1095.9" r="5.2"/><circle cx="1357.6" cy="981" r="5.2"/><circle cx="1355.8" cy="954.2" r="5.2"/><circle cx="1357.6" cy="1451.1" r="5.2"/><circle cx="1368.1" cy="988.6" r="5.2"/><circle cx="1355.4" cy="952.4" r="5.2"/><circle cx="1366.6" cy="949.8" r="5.2"/><circle cx="1358.4" cy="1450.6" r="5.2"/><circle cx="1353.6" cy="966.9" r="5.2"/><circle cx="1356.4" cy="1052.2" r="5.2"/><circle cx="1366.6" cy="1312.8" r="5.2"/><circle cx="1353.2" cy="1060.4" r="5.2"/><circle cx="1358" cy="958" r="5.2"/><circle cx="1366.8" cy="1022.1" r="5.2"/><circle cx="1355.5" cy="1035.7" r="5.2"/><circle cx="1365.3" cy="1018.5" r="5.2"/><circle cx="1370.2" cy="962.5" r="5.2"/><circle cx="1353.4" cy="968.3" r="5.2"/><circle cx="1352.8" cy="1050.2" r="5.2"/><circle cx="1362.9" cy="1452.9" r="5.2"/><circle cx="1366.7" cy="1087.2" r="5.2"/><circle cx="1358.2" cy="1107.4" r="5.2"/><circle cx="1353.5" cy="1235.4" r="5.2"/><circle cx="1370.1" cy="946.5" r="5.2"/><circle cx="1367.1" cy="1014.9" r="5.2"/><circle cx="1364.1" cy="1003.3" r="5.2"/><circle cx="1357.5" cy="1005.5" r="5.2"/><circle cx="1358.9" cy="1449" r="5.2"/><circle cx="1366.1" cy="1295.3" r="5.2"/><circle cx="1365" cy="1375.5" r="5.2"/><circle cx="1355.7" cy="954.9" r="5.2"/><circle cx="1365.8" cy="966.7" r="5.2"/><circle cx="1363.3" cy="1277.9" r="5.2"/><circle cx="1356.8" cy="958.8" r="5.2"/><circle cx="1365.3" cy="974.8" r="5.2"/><circle cx="1354" cy="994" r="5.2"/><circle cx="1366.6" cy="1357.2" r="5.2"/><circle cx="1353.4" cy="1453.9" r="5.2"/><circle cx="1363.8" cy="949.2" r="5.2"/><circle cx="1360.4" cy="1020.2" r="5.2"/><circle cx="1365.8" cy="944.5" r="5.2"/><circle cx="1360.9" cy="1291.3" r="5.2"/><circle cx="1354.1" cy="1033" r="5.2"/><circle cx="1360.6" cy="1001.6" r="5.2"/><circle cx="1353.4" cy="1055.1" r="5.2"/><circle cx="1364" cy="947" r="5.2"/><circle cx="1368.6" cy="945.6" r="5.2"/><circle cx="1357.5" cy="1352.2" r="5.2"/><circle cx="1358.2" cy="1329.9" r="5.2"/><circle cx="1359.4" cy="1090.9" r="5.2"/><circle cx="1359" cy="1041.1" r="5.2"/><circle cx="1355.5" cy="1037.7" r="5.2"/><circle cx="1368.4" cy="956.9" r="5.2"/><circle cx="1366.4" cy="1053.6" r="5.2"/><circle cx="1367" cy="1397.5" r="5.2"/><circle cx="1365.9" cy="974" r="5.2"/><circle cx="1361.4" cy="992.7" r="5.2"/><circle cx="1363.1" cy="1104" r="5.2"/><circle cx="1368.4" cy="947.8" r="5.2"/><circle cx="1359" cy="999.1" r="5.2"/><circle cx="1356.9" cy="1048.3" r="5.2"/><circle cx="1366.9" cy="946.2" r="5.2"/><circle cx="1361.8" cy="1000.2" r="5.2"/><circle cx="1362.2" cy="1027.9" r="5.2"/><circle cx="1352.6" cy="961.2" r="5.2"/><circle cx="1367.6" cy="1385.8" r="5.2"/></g>
<path d="M1446.1 940.94V967.58M1446.1 1194.51V1453.4" stroke="#333" stroke-width="1.9" fill="none"/>
<rect x="1424.5" y="967.58" width="43.2" height="226.93" fill="none" stroke="#333" stroke-width="1.9"/>
<path d="M1424.5 1013.39H1467.7" stroke="#333" stroke-width="3.6" fill="none"/>
<g fill="#b00000" stroke="#000" stroke-width="1.2"><circle cx="1451.2" cy="1010.2" r="5.2"/><circle cx="1453.7" cy="1352.1" r="5.2"/><circle cx="1440.2" cy="1177.1" r="5.2"/><circle cx="1454.8" cy="1374.9" r="5.2"/><circle cx="1452.7" cy="1117" r="5.2"/><circle cx="1454.6" cy="1249.6" r="5.2"/><circle cx="1442.2" cy="1372.7" r="5.2"/><circle cx="1440.4" cy="1398.2" r="5.2"/><circle cx="1446" cy="963.3" r="5.2"/><circle cx="1444.6" cy="1320.9" r="5.2"/><circle cx="1448.2" cy="944.8" r="5.2"/><circle cx="1442.8" cy="942.7" r="5.2"/><circle cx="1443.3" cy="948.9" r="5.2"/><circle cx="1438.8" cy="977.1" r="5.2"/><circle cx="1437.9" cy="997.2" r="5.2"/><circle cx="1446.3" cy="1093.3" r="5.2"/><circle cx="1438" cy="1370.8" r="5.2"/><circle cx="1441.5" cy="1082.6" r="5.2"/><circle cx="1440.3" cy="1334.7" r="5.2"/><circle cx="1441.5" cy="958.5" r="5.2"/><circle cx="1451.2" cy="1022.8" r="5.2"/><circle cx="1452.3" cy="1072.3" r="5.2"/><circle cx="1438.2" cy="1098.6" r="5.2"/><circle cx="1445.7" cy="966.5" r="5.2"/><circle cx="1441.1" cy="1105.9" r="5.2"/><circle cx="1444.7" cy="1077.4" r="5.2"/><circle cx="1441.6" cy="1041.6" r="5.2"/><circle cx="1442.5" cy="943.4" r="5.2"/><circle cx="1448.4" cy="948.3" r="5.2"/><circle cx="1445.5" cy="957.9" r="5.2"/><circle cx="1444.6" cy="961.7" r="5.2"/><circle cx="1437.3" cy="962.3" r="5.2"/><circle cx="1453.5" cy="1339" r="5.2"/><circle cx="1452.8" cy="1160.1" r="5.2"/><circle cx="1444.6" cy="1307" r="5.2"/><circle cx="1447.3" cy="994.7" r="5.2"/><circle cx="1449.7" cy="974.2" r="5.2"/><circle cx="1448.6" cy="987.9" r="5.2"/><circle cx="1447.7" cy="989" r="5.2"/><circle cx="1442.6" cy="967.8" r="5.2"/><circle cx="1454.5" cy="993.6" r="5.2"/><circle cx="1441.2" cy="1046.4" r="5.2"/><circle cx="1442.4" cy="942.1" r="5.2"/><circle cx="1453.5" cy="1011.9" r="5.2"/><circle cx="1438.7" cy="1037.4" r="5.2"/><circle cx="1446.4" cy="1033.1" r="5.2"/><circle cx="1446.4" cy="1171.8" r="5.2"/><circle cx="1441.4" cy="1236.8" r="5.2"/><circle cx="1453.5" cy="990.6" r="5.2"/><circle cx="1445.9" cy="978.6" r="5.2"/><circle cx="1440.2" cy="991.6" r="5.2"/><circle cx="1453.8" cy="1264.7" r="5.2"/><circle cx="1451.1" cy="978.9" r="5.2"/><circle cx="1439.9" cy="1001.3" r="5.2"/><circle cx="1446.2" cy="946.4" r="5.2"/><circle cx="1443.1" cy="1355.4" r="5.2"/><circle cx="1448.9" cy="947.1" r="5.2"/><circle cx="1445.3" cy="1294.7" r="5.2"/><circle cx="1441.5" cy="1135.7" r="5.2"/><circle cx="1445" cy="954.7" r="5.2"/><circle cx="1441.9" cy="1003.4" r="5.2"/><circle cx="1454.7" cy="1029.8" r="5.2"/><circle cx="1449.7" cy="986.3" r="5.2"/><circle cx="1452" cy="1026.1" r="5.2"/><circle cx="1440.4" cy="1289.3" r="5.2"/><circle cx="1449.4" cy="951" r="5.2"/><circle cx="1448.4" cy="981.7" r="5.2"/><circle cx="1441.6" cy="1008.2" r="5.2"/><circle cx="1438.5" cy="1362.1" r="5.2"/><circle cx="1452.3" cy="1217.9" r="5.2"/><circle cx="1449.8" cy="1368" r="5.2"/><circle cx="1451.5" cy="971.9" r="5.2"/><circle cx="1438.5" cy="1048.4" r="5.2"/><circle cx="1438.2" cy="1282.5" r="5.2"/><circle cx="1440.3" cy="948" r="5.2"/><circle cx="1446.7" cy="983.6" r="5.2"/><circle cx="1439.3" cy="950.1" r="5.2"/><circle cx="1439.9" cy="1301.4" r="5.2"/><circle cx="1449.5" cy="1002" r="5.2"/><circle cx="1446.9" cy="1188.9" r="5.2"/><circle cx="1454" cy="1106.7" r="5.2"/><circle cx="1447.1" cy="1361.1" r="5.2"/><circle cx="1444.6" cy="1278.9" r="5.2"/><circle cx="1438.6" cy="960.8" r="5.2"/><circle cx="1441.3" cy="1089.6" r="5.2"/><circle cx="1439.3" cy="1009.8" r="5.2"/><circle cx="1451.4" cy="1023.1" r="5.2"/><circle cx="1443.1" cy="1453.4" r="5.2"/><circle cx="1440.7" cy="1055.2" r="5.2"/><circle cx="1439.5" cy="953.4" r="5.2"/><circle cx="1450.8" cy="1349.2" r="5.2"/><circle cx="1449.2" cy="1123.8" r="5.2"/><circle cx="1449.4" cy="998.6" r="5.2"/><circle cx="1440.3" cy="945.6" r="5.2"/><circle cx="1442.2" cy="1185.2" r="5.2"/><circle cx="1447.2" cy="1005" r="5.2"/><circle cx="1442.8" cy="956" r="5.2"/><circle cx="1454.3" cy="1314.1" r="5.2"/><circle cx="1446.2" cy="1035.8" r="5.2"/><circle cx="1446" cy="1331.5" r="5.2"/><circle cx="1450.6" cy="960.6" r="5.2"/><circle cx="1452" cy="1343.9" r="5.2"/><circle cx="1447.8" cy="1151.7" r="5.2"/><circle cx="1453.9" cy="969.3" r="5.2"/><circle cx="1442.4" cy="941.6" r="5.2"/><circle cx="1444.7" cy="1366.4" r="5.2"/><circle cx="1448.3" cy="952.7" r="5.2"/><circle cx="1442.6" cy="1326.5" r="5.2"/><circle cx="1447.4" cy="965.2" r="5.2"/><circle cx="1444.3" cy="1352.5" r="5.2"/><circle cx="1448" cy="1042.2" r="5.2"/><circle cx="1441.7" cy="954.3" r="5.2"/><circle cx="1454.1" cy="972.9" r="5.2"/><circle cx="1451.6" cy="968.3" r="5.2"/><circle cx="1451.1" cy="963.9" r="5.2"/><circle cx="1445.5" cy="1007.2" r="5.2"/><circle cx="1442.3" cy="999.6" r="5.2"/><circle cx="1454.7" cy="985.3" r="5.2"/><circle cx="1445.9" cy="956.8" r="5.2"/><circle cx="1446.7" cy="980.8" r="5.2"/><circle cx="1438.3" cy="975.3" r="5.2"/><circle cx="1444.9" cy="1018.4" r="5.2"/><circle cx="1440.9" cy="965.9" r="5.2"/><circle cx="1445.8" cy="1060.6" r="5.2"/><circle cx="1447.1" cy="959.8" r="5.2"/><circle cx="1454.7" cy="1014.5" r="5.2"/><circle cx="1441.4" cy="1016.2" r="5.2"/><circle cx="1441.8" cy="1145.7" r="5.2"/><circle cx="1451.8" cy="1240.6" r="5.2"/><circle cx="1444" cy="995.6" r="5.2"/><circle cx="1446.4" cy="1199.5" r="5.2"/><circle cx="1450.7" cy="951.5" r="5.2"/><circle cx="1454.7" cy="1358.9" r="5.2"/><circle cx="1446.4" cy="955.6" r="5.2"/><circle cx="1451" cy="1315.8" r="5.2"/></g>
<rect x="1311.9" y="918.5" width="183.7" height="562.9" fill="none" stroke="#111" stroke-width="2.6"/>
<path d="M1304.4 1455H1310.9M1304.4 1348.46H1310.9M1304.4 1241.92H1310.9M1304.4 1135.38H1310.9M1304.4 1028.84H1310.9M1304.4 922.3H1310.9M1361.4 1482.4V1489.4M1446.1 1482.4V1489.4" stroke="#333" stroke-width="1" fill="none"/>
<text x="1275.64" y="1462.5" font-size="21.3" textLength="25.46" lengthAdjust="spacingAndGlyphs" fill="#4d4d4d" stroke="#4d4d4d" stroke-width="0.49">0.0</text>
<text x="1275.64" y="1355.96" font-size="21.3" textLength="25.46" lengthAdjust="spacingAndGlyphs" fill="#4d4d4d" stroke="#4d4d4d" stroke-width="0.49">0.2</text>
<text x="1275.64" y="1249.42" font-size="21.3" textLength="25.46" lengthAdjust="spacingAndGlyphs" fill="#4d4d4d" stroke="#4d4d4d" stroke-width="0.49">0.4</text>
<text x="1275.64" y="1142.88" font-size="21.3" textLength="25.46" lengthAdjust="spacingAndGlyphs" fill="#4d4d4d" stroke="#4d4d4d" stroke-width="0.49">0.6</text>
<text x="1275.64" y="1036.34" font-size="21.3" textLength="25.46" lengthAdjust="spacingAndGlyphs" fill="#4d4d4d" stroke="#4d4d4d" stroke-width="0.49">0.8</text>
<text x="1275.64" y="929.8" font-size="21.3" textLength="25.46" lengthAdjust="spacingAndGlyphs" fill="#4d4d4d" stroke="#4d4d4d" stroke-width="0.49">1.0</text>
<text x="1319.2" y="884.3" font-size="21.6" textLength="37.3" lengthAdjust="spacingAndGlyphs" stroke="#000" stroke-width="0.5">PGA</text>
<text x="1319.2" y="906.8" font-size="21.6" textLength="60.1" lengthAdjust="spacingAndGlyphs" stroke="#000" stroke-width="0.5">P=0.65</text>
<text transform="translate(1339.4 1520) rotate(-30)" x="0" y="0" font-size="21" textLength="34" lengthAdjust="spacingAndGlyphs" fill="#4d4d4d" stroke="#4d4d4d" stroke-width="0.48">LAS</text>
<text transform="translate(1424.1 1520) rotate(-30)" x="0" y="0" font-size="21" textLength="34" lengthAdjust="spacingAndGlyphs" fill="#4d4d4d" stroke="#4d4d4d" stroke-width="0.48">HAS</text>
<path d="M1554.1 1456.3H1737.5M1554.1 1353.4H1737.5M1554.1 1250.5H1737.5M1554.1 1147.6H1737.5M1554.1 1044.7H1737.5M1554.1 941.8H1737.5" stroke="#d0d0d0" stroke-width="0.9" fill="none"/>
<path d="M1603.3 943.86V1049.33M1603.3 1137.31V1265.93" stroke="#333" stroke-width="1.9" fill="none"/>
<rect x="1581.7" y="1049.33" width="43.2" height="87.98" fill="none" stroke="#333" stroke-width="1.9"/>
<path d="M1581.7 1093.58H1624.9" stroke="#333" stroke-width="3.6" fill="none"/>
<g fill="#f5e6c0" stroke="#000" stroke-width="1.2"><circle cx="1605.2" cy="1026.2" r="5.2"/><circle cx="1607.8" cy="1049.1" r="5.2"/><circle cx="1609.3" cy="1099.1" r="5.2"/><circle cx="1598.4" cy="1206.4" r="5.2"/><circle cx="1612" cy="1096.6" r="5.2"/><circle cx="1609.8" cy="1102.9" r="5.2"/><circle cx="1595.5" cy="1060.2" r="5.2"/><circle cx="1596.3" cy="1135.7" r="5.2"/><circle cx="1600.9" cy="1155.3" r="5.2"/><circle cx="1604.2" cy="1137" r="5.2"/><circle cx="1594.7" cy="1125.6" r="5.2"/><circle cx="1606.6" cy="1137.8" r="5.2"/><circle cx="1605.5" cy="1097.4" r="5.2"/><circle cx="1600.6" cy="1086.4" r="5.2"/><circle cx="1605.2" cy="1112.2" r="5.2"/><circle cx="1608.2" cy="1056.8" r="5.2"/><circle cx="1605.2" cy="1040.8" r="5.2"/><circle cx="1609.1" cy="1187.4" r="5.2"/><circle cx="1595.6" cy="1118.3" r="5.2"/><circle cx="1603.5" cy="1241.6" r="5.2"/><circle cx="1601.5" cy="1133.6" r="5.2"/><circle cx="1599.1" cy="1063" r="5.2"/><circle cx="1603.9" cy="1061.8" r="5.2"/><circle cx="1601.2" cy="1033.2" r="5.2"/><circle cx="1602.6" cy="1107.4" r="5.2"/><circle cx="1612" cy="1034.4" r="5.2"/><circle cx="1610.9" cy="1017.9" r="5.2"/><circle cx="1595.3" cy="1051.1" r="5.2"/><circle cx="1606.3" cy="1117.6" r="5.2"/><circle cx="1594.3" cy="991" r="5.2"/><circle cx="1605" cy="1095.6" r="5.2"/><circle cx="1612.1" cy="1020.8" r="5.2"/><circle cx="1609.4" cy="1178" r="5.2"/><circle cx="1595.9" cy="1015.3" r="5.2"/><circle cx="1606.9" cy="1055.1" r="5.2"/><circle cx="1599" cy="1029" r="5.2"/><circle cx="1599.8" cy="1080.6" r="5.2"/><circle cx="1604.5" cy="1185.5" r="5.2"/><circle cx="1612.1" cy="1108.3" r="5.2"/><circle cx="1607.5" cy="1122.3" r="5.2"/><circle cx="1612.1" cy="1092.5" r="5.2"/><circle cx="1611" cy="1197.8" r="5.2"/><circle cx="1601.4" cy="1084.2" r="5.2"/><circle cx="1611.8" cy="1213.1" r="5.2"/><circle cx="1594.6" cy="1069.1" r="5.2"/><circle cx="1600.2" cy="1087.2" r="5.2"/><circle cx="1598.3" cy="1130.1" r="5.2"/><circle cx="1603.1" cy="1064.8" r="5.2"/><circle cx="1595.5" cy="1152.2" r="5.2"/><circle cx="1605.8" cy="1154.6" r="5.2"/><circle cx="1600.8" cy="1100.7" r="5.2"/><circle cx="1600.4" cy="1119.1" r="5.2"/><circle cx="1601.8" cy="1129.8" r="5.2"/><circle cx="1605.3" cy="1121.2" r="5.2"/><circle cx="1599.2" cy="1083.2" r="5.2"/><circle cx="1610.5" cy="1150" r="5.2"/><circle cx="1599.1" cy="1035.7" r="5.2"/><circle cx="1606.3" cy="1113.1" r="5.2"/><circle cx="1603.5" cy="1037" r="5.2"/><circle cx="1600.6" cy="1059" r="5.2"/><circle cx="1600.4" cy="1073.9" r="5.2"/><circle cx="1595.7" cy="1009.6" r="5.2"/><circle cx="1606.8" cy="1128.6" r="5.2"/><circle cx="1596.1" cy="1080.8" r="5.2"/><circle cx="1609.4" cy="1048" r="5.2"/><circle cx="1596.5" cy="1077.9" r="5.2"/><circle cx="1602.3" cy="949.9" r="5.2"/><circle cx="1608.7" cy="1145.5" r="5.2"/><circle cx="1604.5" cy="1043.4" r="5.2"/><circle cx="1596.7" cy="1039" r="5.2"/><circle cx="1612.1" cy="1165" r="5.2"/><circle cx="1606.5" cy="1162.5" r="5.2"/><circle cx="1610.4" cy="1066.7" r="5.2"/><circle cx="1603.1" cy="1169.1" r="5.2"/><circle cx="1603.2" cy="958.5" r="5.2"/><circle cx="1596.1" cy="1006.2" r="5.2"/><circle cx="1610.3" cy="978.5" r="5.2"/><circle cx="1603.9" cy="1071.2" r="5.2"/><circle cx="1606.3" cy="1030.2" r="5.2"/><circle cx="1606.2" cy="1222.6" r="5.2"/><circle cx="1606.7" cy="1081.9" r="5.2"/><circle cx="1612.1" cy="1047.1" r="5.2"/><circle cx="1596.9" cy="1215.8" r="5.2"/><circle cx="1610.4" cy="1090.1" r="5.2"/><circle cx="1603.8" cy="994.4" r="5.2"/><circle cx="1608.7" cy="1075.4" r="5.2"/><circle cx="1594.5" cy="1088.2" r="5.2"/><circle cx="1597.1" cy="1043.6" r="5.2"/><circle cx="1610.4" cy="1167.7" r="5.2"/><circle cx="1599.7" cy="1067.4" r="5.2"/><circle cx="1605" cy="1054" r="5.2"/><circle cx="1606.6" cy="1115.2" r="5.2"/><circle cx="1595.6" cy="1184.3" r="5.2"/><circle cx="1596.6" cy="1050.6" r="5.2"/><circle cx="1601.9" cy="1075.6" r="5.2"/><circle cx="1595.6" cy="1031.8" r="5.2"/><circle cx="1599.7" cy="1026.6" r="5.2"/><circle cx="1602.6" cy="1091.2" r="5.2"/><circle cx="1611.7" cy="1038.5" r="5.2"/><circle cx="1607.2" cy="999" r="5.2"/><circle cx="1609.6" cy="1191.1" r="5.2"/><circle cx="1606.3" cy="1023.4" r="5.2"/><circle cx="1606.3" cy="1158.9" r="5.2"/><circle cx="1600.1" cy="1221" r="5.2"/><circle cx="1610.7" cy="1114" r="5.2"/><circle cx="1594.4" cy="1100.2" r="5.2"/><circle cx="1605.3" cy="1101.8" r="5.2"/><circle cx="1611.4" cy="1005.6" r="5.2"/><circle cx="1607.6" cy="1051.7" r="5.2"/><circle cx="1598.9" cy="1017.5" r="5.2"/><circle cx="1611.4" cy="1198.7" r="5.2"/><circle cx="1609.9" cy="1124.7" r="5.2"/><circle cx="1609" cy="967.1" r="5.2"/><circle cx="1595.4" cy="1174.4" r="5.2"/><circle cx="1609.1" cy="1016.6" r="5.2"/><circle cx="1602.6" cy="1144.4" r="5.2"/><circle cx="1598" cy="1141" r="5.2"/><circle cx="1599.5" cy="1065.4" r="5.2"/><circle cx="1610.3" cy="1019.9" r="5.2"/><circle cx="1598.7" cy="1132" r="5.2"/><circle cx="1598.2" cy="1027.8" r="5.2"/><circle cx="1606.5" cy="1126.5" r="5.2"/><circle cx="1605.4" cy="1105.3" r="5.2"/><circle cx="1595.3" cy="1115.9" r="5.2"/><circle cx="1607.5" cy="1182" r="5.2"/><circle cx="1599.2" cy="1232.9" r="5.2"/><circle cx="1598.4" cy="1069.7" r="5.2"/><circle cx="1607.3" cy="1147.2" r="5.2"/><circle cx="1603.8" cy="1226.4" r="5.2"/><circle cx="1605.3" cy="1123.7" r="5.2"/><circle cx="1604.8" cy="1014" r="5.2"/><circle cx="1600.7" cy="1120.3" r="5.2"/><circle cx="1611.6" cy="1110.2" r="5.2"/><circle cx="1610.6" cy="1022" r="5.2"/><circle cx="1601.4" cy="1078.8" r="5.2"/><circle cx="1608.2" cy="1093.3" r="5.2"/><circle cx="1611.6" cy="1201.9" r="5.2"/><circle cx="1602.4" cy="1139.1" r="5.2"/><circle cx="1609" cy="1057.6" r="5.2"/><circle cx="1609.4" cy="1194.5" r="5.2"/><circle cx="1609.9" cy="1053.7" r="5.2"/><circle cx="1595.1" cy="1175.3" r="5.2"/><circle cx="1607.5" cy="1171.3" r="5.2"/><circle cx="1607.7" cy="1262.6" r="5.2"/><circle cx="1598.4" cy="1131.3" r="5.2"/><circle cx="1610.7" cy="1127.1" r="5.2"/><circle cx="1612.2" cy="1085.3" r="5.2"/><circle cx="1605.1" cy="1076.9" r="5.2"/><circle cx="1609.3" cy="1180.2" r="5.2"/><circle cx="1601.4" cy="1089" r="5.2"/><circle cx="1605.8" cy="1103.4" r="5.2"/><circle cx="1594.6" cy="1105.9" r="5.2"/><circle cx="1608.9" cy="1109.1" r="5.2"/><circle cx="1608.6" cy="989.9" r="5.2"/><circle cx="1608.3" cy="1044.9" r="5.2"/><circle cx="1611.9" cy="1073" r="5.2"/><circle cx="1606.8" cy="1158.5" r="5.2"/><circle cx="1600.1" cy="1024.9" r="5.2"/><circle cx="1596.6" cy="1002" r="5.2"/><circle cx="1597.8" cy="1071.4" r="5.2"/><circle cx="1594.4" cy="1134.7" r="5.2"/><circle cx="1609.6" cy="1094.8" r="5.2"/><circle cx="1602.3" cy="1163" r="5.2"/><circle cx="1599.4" cy="1058.1" r="5.2"/><circle cx="1608.1" cy="1251.5" r="5.2"/><circle cx="1605.5" cy="1041.8" r="5.2"/><circle cx="1595.4" cy="987.4" r="5.2"/><circle cx="1598.1" cy="1207.8" r="5.2"/><circle cx="1608.8" cy="1111.4" r="5.2"/><circle cx="1603.7" cy="1063.2" r="5.2"/><circle cx="1605.8" cy="1218.6" r="5.2"/><circle cx="1600.3" cy="1301.9" r="5.2"/><circle cx="1605.3" cy="1336.9" r="5.2"/><circle cx="1606.3" cy="1456.3" r="5.2"/></g>
<path d="M1687.7 944.37V1035.44M1687.7 1129.08V1255.64" stroke="#333" stroke-width="1.9" fill="none"/>
<rect x="1666.1" y="1035.44" width="43.2" height="93.64" fill="none" stroke="#333" stroke-width="1.9"/>
<path d="M1666.1 1086.37H1709.3" stroke="#333" stroke-width="3.6" fill="none"/>
<g fill="#b00000" stroke="#000" stroke-width="1.2"><circle cx="1684" cy="1196.1" r="5.2"/><circle cx="1692.2" cy="1097.7" r="5.2"/><circle cx="1692.8" cy="1135" r="5.2"/><circle cx="1689.8" cy="991.2" r="5.2"/><circle cx="1680.9" cy="1099.6" r="5.2"/><circle cx="1688" cy="1104.6" r="5.2"/><circle cx="1687.6" cy="974.3" r="5.2"/><circle cx="1687.2" cy="1170.3" r="5.2"/><circle cx="1690.4" cy="1058.4" r="5.2"/><circle cx="1681.2" cy="1128.5" r="5.2"/><circle cx="1684.1" cy="1070.6" r="5.2"/><circle cx="1685.1" cy="1109.2" r="5.2"/><circle cx="1682" cy="1064.8" r="5.2"/><circle cx="1687.1" cy="1002" r="5.2"/><circle cx="1692.9" cy="1202.3" r="5.2"/><circle cx="1695.5" cy="1121.6" r="5.2"/><circle cx="1680.1" cy="1051.1" r="5.2"/><circle cx="1686.7" cy="1010.8" r="5.2"/><circle cx="1681.5" cy="1067.4" r="5.2"/><circle cx="1681.9" cy="1146.8" r="5.2"/><circle cx="1682.5" cy="1009.7" r="5.2"/><circle cx="1683" cy="1017.8" r="5.2"/><circle cx="1682.5" cy="1116.7" r="5.2"/><circle cx="1680.5" cy="1122.7" r="5.2"/><circle cx="1685" cy="1005.2" r="5.2"/><circle cx="1692.1" cy="1075.6" r="5.2"/><circle cx="1695" cy="1052.6" r="5.2"/><circle cx="1691.4" cy="986.1" r="5.2"/><circle cx="1695.4" cy="1171.6" r="5.2"/><circle cx="1691.6" cy="1145.9" r="5.2"/><circle cx="1693.3" cy="1065.9" r="5.2"/><circle cx="1687.8" cy="1105.7" r="5.2"/><circle cx="1689.4" cy="1198.1" r="5.2"/><circle cx="1682.3" cy="1053.9" r="5.2"/><circle cx="1692.8" cy="1042" r="5.2"/><circle cx="1684" cy="1059.3" r="5.2"/><circle cx="1690.8" cy="1088.1" r="5.2"/><circle cx="1682.1" cy="1030.8" r="5.2"/><circle cx="1691.8" cy="1077" r="5.2"/><circle cx="1685.2" cy="1086.4" r="5.2"/><circle cx="1685.2" cy="981.9" r="5.2"/><circle cx="1683.5" cy="1084" r="5.2"/><circle cx="1686.6" cy="1101" r="5.2"/><circle cx="1688.9" cy="1034.2" r="5.2"/><circle cx="1682.9" cy="1008.4" r="5.2"/><circle cx="1693.5" cy="1213.6" r="5.2"/><circle cx="1684.4" cy="1099" r="5.2"/><circle cx="1688.6" cy="1081.3" r="5.2"/><circle cx="1693.4" cy="1037.4" r="5.2"/><circle cx="1687.2" cy="1131.7" r="5.2"/><circle cx="1684.3" cy="1186.4" r="5.2"/><circle cx="1687.3" cy="1077.6" r="5.2"/><circle cx="1694.2" cy="1083.3" r="5.2"/><circle cx="1690.1" cy="999.2" r="5.2"/><circle cx="1691" cy="1027.1" r="5.2"/><circle cx="1684.8" cy="1023.9" r="5.2"/><circle cx="1688.6" cy="1109.4" r="5.2"/><circle cx="1685.8" cy="1174.6" r="5.2"/><circle cx="1683.7" cy="1123.9" r="5.2"/><circle cx="1696.6" cy="971.4" r="5.2"/><circle cx="1684.2" cy="1115.6" r="5.2"/><circle cx="1680.8" cy="1255.4" r="5.2"/><circle cx="1691" cy="987.4" r="5.2"/><circle cx="1692.8" cy="1048.4" r="5.2"/><circle cx="1685.6" cy="949.7" r="5.2"/><circle cx="1693.8" cy="1089" r="5.2"/><circle cx="1692.3" cy="1117.6" r="5.2"/><circle cx="1693.6" cy="1157.2" r="5.2"/><circle cx="1679.6" cy="1080.1" r="5.2"/><circle cx="1689.6" cy="959.3" r="5.2"/><circle cx="1681.9" cy="993.9" r="5.2"/><circle cx="1681.8" cy="1206.7" r="5.2"/><circle cx="1691" cy="1139.2" r="5.2"/><circle cx="1687.8" cy="1127.3" r="5.2"/><circle cx="1696.2" cy="1047.6" r="5.2"/><circle cx="1689.7" cy="1039.6" r="5.2"/><circle cx="1689.7" cy="1164.5" r="5.2"/><circle cx="1690.6" cy="1150.1" r="5.2"/><circle cx="1689.2" cy="1143.5" r="5.2"/><circle cx="1682.7" cy="1061.9" r="5.2"/><circle cx="1681.5" cy="1102.8" r="5.2"/><circle cx="1684.8" cy="1103.3" r="5.2"/><circle cx="1695.6" cy="1181.5" r="5.2"/><circle cx="1692.5" cy="1093.5" r="5.2"/><circle cx="1687.6" cy="1112.5" r="5.2"/><circle cx="1694.7" cy="1110.9" r="5.2"/><circle cx="1696.4" cy="1038" r="5.2"/><circle cx="1685.3" cy="1044.5" r="5.2"/><circle cx="1689.9" cy="1072.4" r="5.2"/><circle cx="1686.8" cy="1056.5" r="5.2"/><circle cx="1694.7" cy="1217.4" r="5.2"/><circle cx="1695.2" cy="1019.3" r="5.2"/><circle cx="1685.7" cy="1074" r="5.2"/><circle cx="1693" cy="1136.2" r="5.2"/><circle cx="1694.1" cy="1045.7" r="5.2"/><circle cx="1688.9" cy="1062.9" r="5.2"/><circle cx="1679.2" cy="1068.4" r="5.2"/><circle cx="1696.6" cy="1091.9" r="5.2"/><circle cx="1682.8" cy="1095.2" r="5.2"/><circle cx="1684.1" cy="1119.5" r="5.2"/><circle cx="1681.3" cy="1107.3" r="5.2"/><circle cx="1694.7" cy="1005" r="5.2"/><circle cx="1688.6" cy="1055.4" r="5.2"/><circle cx="1690.2" cy="1000" r="5.2"/><circle cx="1683.5" cy="1118.6" r="5.2"/><circle cx="1691.2" cy="1161.7" r="5.2"/><circle cx="1693.2" cy="1223.9" r="5.2"/><circle cx="1686.5" cy="980.1" r="5.2"/><circle cx="1688" cy="1022" r="5.2"/><circle cx="1680.6" cy="1182.3" r="5.2"/><circle cx="1687.5" cy="1090.4" r="5.2"/><circle cx="1691" cy="1159.1" r="5.2"/><circle cx="1689.9" cy="953.8" r="5.2"/><circle cx="1684" cy="1219.7" r="5.2"/><circle cx="1688.2" cy="1126.4" r="5.2"/><circle cx="1696.5" cy="1027.5" r="5.2"/><circle cx="1696.5" cy="975.4" r="5.2"/><circle cx="1679.3" cy="1210.3" r="5.2"/><circle cx="1693.9" cy="1085.5" r="5.2"/><circle cx="1681.1" cy="1241.2" r="5.2"/><circle cx="1679.1" cy="1177.9" r="5.2"/><circle cx="1692.4" cy="1113.9" r="5.2"/><circle cx="1689.1" cy="1189.4" r="5.2"/><circle cx="1678.8" cy="1154.1" r="5.2"/><circle cx="1683.8" cy="1043.4" r="5.2"/><circle cx="1695.9" cy="1167.9" r="5.2"/><circle cx="1695.5" cy="995.7" r="5.2"/><circle cx="1694" cy="1096.5" r="5.2"/><circle cx="1684.9" cy="1015.7" r="5.2"/><circle cx="1688.2" cy="1125.1" r="5.2"/><circle cx="1689.3" cy="1020.5" r="5.2"/><circle cx="1686.3" cy="1031.6" r="5.2"/><circle cx="1678.8" cy="1035.3" r="5.2"/><circle cx="1687.6" cy="1013" r="5.2"/><circle cx="1679.7" cy="1336.9" r="5.2"/></g>
<rect x="1554.1" y="918.5" width="183.4" height="562.9" fill="none" stroke="#111" stroke-width="2.6"/>
<path d="M1546.6 1456.3H1553.1M1546.6 1353.4H1553.1M1546.6 1250.5H1553.1M1546.6 1147.6H1553.1M1546.6 1044.7H1553.1M1546.6 941.8H1553.1M1603.3 1482.4V1489.4M1687.7 1482.4V1489.4" stroke="#333" stroke-width="1" fill="none"/>
<text x="1533.11" y="1463.8" font-size="21.3" textLength="10.19" lengthAdjust="spacingAndGlyphs" fill="#4d4d4d" stroke="#4d4d4d" stroke-width="0.49">0</text>
<text x="1533.11" y="1360.9" font-size="21.3" textLength="10.19" lengthAdjust="spacingAndGlyphs" fill="#4d4d4d" stroke="#4d4d4d" stroke-width="0.49">2</text>
<text x="1533.11" y="1258" font-size="21.3" textLength="10.19" lengthAdjust="spacingAndGlyphs" fill="#4d4d4d" stroke="#4d4d4d" stroke-width="0.49">4</text>
<text x="1533.11" y="1155.1" font-size="21.3" textLength="10.19" lengthAdjust="spacingAndGlyphs" fill="#4d4d4d" stroke="#4d4d4d" stroke-width="0.49">6</text>
<text x="1533.11" y="1052.2" font-size="21.3" textLength="10.19" lengthAdjust="spacingAndGlyphs" fill="#4d4d4d" stroke="#4d4d4d" stroke-width="0.49">8</text>
<text x="1522.92" y="949.3" font-size="21.3" textLength="20.38" lengthAdjust="spacingAndGlyphs" fill="#4d4d4d" stroke="#4d4d4d" stroke-width="0.49">10</text>
<text x="1561.4" y="884.3" font-size="21.6" textLength="79.2" lengthAdjust="spacingAndGlyphs" stroke="#000" stroke-width="0.5">SV (log2)</text>
<text x="1561.4" y="906.8" font-size="21.6" textLength="59.8" lengthAdjust="spacingAndGlyphs" stroke="#000" stroke-width="0.5">P=0.23</text>
<text transform="translate(1581.3 1520) rotate(-30)" x="0" y="0" font-size="21" textLength="34" lengthAdjust="spacingAndGlyphs" fill="#4d4d4d" stroke="#4d4d4d" stroke-width="0.48">LAS</text>
<text transform="translate(1665.7 1520) rotate(-30)" x="0" y="0" font-size="21" textLength="34" lengthAdjust="spacingAndGlyphs" fill="#4d4d4d" stroke="#4d4d4d" stroke-width="0.48">HAS</text>
<path d="M1799 1417.3H1982.7M1799 1301.2H1982.7M1799 1185.1H1982.7M1799 1069H1982.7M1799 952.9H1982.7" stroke="#d0d0d0" stroke-width="0.9" fill="none"/>
<path d="M1847.9 943.61V1082.93M1847.9 1195.55V1382.47" stroke="#333" stroke-width="1.9" fill="none"/>
<rect x="1826.3" y="1082.93" width="43.2" height="112.62" fill="none" stroke="#333" stroke-width="1.9"/>
<path d="M1826.3 1139.24H1869.5" stroke="#333" stroke-width="3.6" fill="none"/>
<g fill="#f5e6c0" stroke="#000" stroke-width="1.2"><circle cx="1855.7" cy="1210.3" r="5.2"/><circle cx="1841.9" cy="1241.6" r="5.2"/><circle cx="1851.5" cy="1107.7" r="5.2"/><circle cx="1847.2" cy="1239.7" r="5.2"/><circle cx="1840.9" cy="979.2" r="5.2"/><circle cx="1844.9" cy="1069.2" r="5.2"/><circle cx="1853.5" cy="1033" r="5.2"/><circle cx="1846.4" cy="1169.9" r="5.2"/><circle cx="1855.5" cy="1160.4" r="5.2"/><circle cx="1856.9" cy="1102.4" r="5.2"/><circle cx="1850.1" cy="1076.6" r="5.2"/><circle cx="1854.1" cy="1135.9" r="5.2"/><circle cx="1848.1" cy="1065.9" r="5.2"/><circle cx="1854.2" cy="1192.3" r="5.2"/><circle cx="1849.3" cy="1096.7" r="5.2"/><circle cx="1839.8" cy="1100" r="5.2"/><circle cx="1852.4" cy="1112.3" r="5.2"/><circle cx="1846.8" cy="1154.9" r="5.2"/><circle cx="1850.2" cy="1093.5" r="5.2"/><circle cx="1850.8" cy="1288.9" r="5.2"/><circle cx="1855.3" cy="1185.1" r="5.2"/><circle cx="1839.4" cy="1236.9" r="5.2"/><circle cx="1843.6" cy="1134.1" r="5.2"/><circle cx="1841.7" cy="1291.9" r="5.2"/><circle cx="1855.8" cy="985.4" r="5.2"/><circle cx="1850.3" cy="1182.2" r="5.2"/><circle cx="1852.2" cy="1186.6" r="5.2"/><circle cx="1844.3" cy="1325" r="5.2"/><circle cx="1847.7" cy="1085.9" r="5.2"/><circle cx="1845" cy="1110.7" r="5.2"/><circle cx="1842.6" cy="1257.7" r="5.2"/><circle cx="1854.7" cy="1097.8" r="5.2"/><circle cx="1847.1" cy="1245" r="5.2"/><circle cx="1842.1" cy="1262.4" r="5.2"/><circle cx="1854.1" cy="999.8" r="5.2"/><circle cx="1847.9" cy="1006.9" r="5.2"/><circle cx="1843.3" cy="1195.3" r="5.2"/><circle cx="1844.1" cy="1028.8" r="5.2"/><circle cx="1851" cy="1162.7" r="5.2"/><circle cx="1841.6" cy="1044.9" r="5.2"/><circle cx="1840.9" cy="1328.8" r="5.2"/><circle cx="1839.1" cy="1218.5" r="5.2"/><circle cx="1855.3" cy="1012.7" r="5.2"/><circle cx="1847.1" cy="1125.5" r="5.2"/><circle cx="1845.8" cy="1059.8" r="5.2"/><circle cx="1840.5" cy="1338.7" r="5.2"/><circle cx="1844.7" cy="1190.3" r="5.2"/><circle cx="1841.3" cy="1132" r="5.2"/><circle cx="1850.7" cy="1185.8" r="5.2"/><circle cx="1851.3" cy="1204.9" r="5.2"/><circle cx="1844.7" cy="1116.6" r="5.2"/><circle cx="1856.2" cy="1143.3" r="5.2"/><circle cx="1842.4" cy="1369.7" r="5.2"/><circle cx="1845.7" cy="1172.7" r="5.2"/><circle cx="1851.1" cy="1165.7" r="5.2"/><circle cx="1844.5" cy="1150.8" r="5.2"/><circle cx="1839.5" cy="1145.9" r="5.2"/><circle cx="1852.5" cy="1058.6" r="5.2"/><circle cx="1853.2" cy="1118.5" r="5.2"/><circle cx="1841.7" cy="1201.3" r="5.2"/><circle cx="1844.1" cy="1280.1" r="5.2"/><circle cx="1853.7" cy="1179.5" r="5.2"/><circle cx="1856.3" cy="1073.1" r="5.2"/><circle cx="1843.1" cy="1171.1" r="5.2"/><circle cx="1851.7" cy="1138.6" r="5.2"/><circle cx="1847.1" cy="1137.8" r="5.2"/><circle cx="1848.4" cy="1141.7" r="5.2"/><circle cx="1854.6" cy="1139.9" r="5.2"/><circle cx="1850" cy="1042.3" r="5.2"/><circle cx="1843.7" cy="1130.2" r="5.2"/><circle cx="1845.5" cy="1314.7" r="5.2"/><circle cx="1843.1" cy="1084.7" r="5.2"/><circle cx="1845.8" cy="1105.6" r="5.2"/><circle cx="1847.6" cy="1159" r="5.2"/><circle cx="1851.7" cy="994.3" r="5.2"/><circle cx="1840.4" cy="1044.1" r="5.2"/><circle cx="1839.8" cy="1213.6" r="5.2"/><circle cx="1849.1" cy="1234" r="5.2"/><circle cx="1846.7" cy="1134" r="5.2"/><circle cx="1839.8" cy="1026.4" r="5.2"/><circle cx="1851.1" cy="1089.2" r="5.2"/><circle cx="1855.4" cy="1163.9" r="5.2"/><circle cx="1848.5" cy="1157.7" r="5.2"/><circle cx="1851.3" cy="1147.9" r="5.2"/><circle cx="1849.2" cy="1120.6" r="5.2"/><circle cx="1854.8" cy="1037.4" r="5.2"/><circle cx="1844.6" cy="1206.7" r="5.2"/><circle cx="1846.1" cy="1344.3" r="5.2"/><circle cx="1852.2" cy="1079.2" r="5.2"/><circle cx="1851.4" cy="1168.7" r="5.2"/><circle cx="1853.7" cy="1087.7" r="5.2"/><circle cx="1840.7" cy="1092.2" r="5.2"/><circle cx="1844.6" cy="1016.4" r="5.2"/><circle cx="1855.2" cy="1090.9" r="5.2"/><circle cx="1848.2" cy="1153.3" r="5.2"/><circle cx="1847.8" cy="945.2" r="5.2"/><circle cx="1851.6" cy="1082" r="5.2"/><circle cx="1845.8" cy="1247.2" r="5.2"/><circle cx="1853" cy="1104.2" r="5.2"/><circle cx="1852.8" cy="1071.1" r="5.2"/><circle cx="1845.9" cy="1117.7" r="5.2"/><circle cx="1851.7" cy="1372.5" r="5.2"/><circle cx="1850.2" cy="1173.9" r="5.2"/><circle cx="1842" cy="966.8" r="5.2"/><circle cx="1854.1" cy="1176.8" r="5.2"/><circle cx="1856.5" cy="1075.3" r="5.2"/><circle cx="1844.4" cy="1103" r="5.2"/><circle cx="1850.7" cy="1143.2" r="5.2"/><circle cx="1855.8" cy="1126.6" r="5.2"/><circle cx="1840.8" cy="1128.2" r="5.2"/><circle cx="1841.8" cy="1155.5" r="5.2"/><circle cx="1845.9" cy="990.8" r="5.2"/><circle cx="1843.2" cy="1114.6" r="5.2"/><circle cx="1855" cy="1023" r="5.2"/><circle cx="1854.4" cy="972.8" r="5.2"/><circle cx="1853.2" cy="1221.8" r="5.2"/><circle cx="1842.7" cy="958.2" r="5.2"/><circle cx="1845.5" cy="1107.8" r="5.2"/><circle cx="1856.1" cy="1005" r="5.2"/><circle cx="1854" cy="1083" r="5.2"/><circle cx="1848.2" cy="1067.3" r="5.2"/><circle cx="1851.9" cy="1217.2" r="5.2"/><circle cx="1851.7" cy="1177.5" r="5.2"/><circle cx="1847" cy="1056" r="5.2"/><circle cx="1841.9" cy="1051.5" r="5.2"/><circle cx="1851.5" cy="1048" r="5.2"/><circle cx="1840" cy="1188.3" r="5.2"/><circle cx="1849.3" cy="1198.7" r="5.2"/><circle cx="1851.3" cy="1055.3" r="5.2"/><circle cx="1847.1" cy="950" r="5.2"/><circle cx="1847.1" cy="1038.8" r="5.2"/><circle cx="1846.7" cy="1358.1" r="5.2"/><circle cx="1847" cy="1089.8" r="5.2"/><circle cx="1839" cy="1121.9" r="5.2"/><circle cx="1853.7" cy="1183" r="5.2"/><circle cx="1848.5" cy="1123.3" r="5.2"/><circle cx="1847.8" cy="1251.7" r="5.2"/><circle cx="1852.5" cy="1165" r="5.2"/><circle cx="1850.1" cy="1174.9" r="5.2"/><circle cx="1847.7" cy="1224.9" r="5.2"/><circle cx="1844.6" cy="1113.5" r="5.2"/><circle cx="1856.9" cy="1124.5" r="5.2"/><circle cx="1844.4" cy="1306.7" r="5.2"/><circle cx="1846.1" cy="1232.3" r="5.2"/><circle cx="1855.1" cy="1050.4" r="5.2"/><circle cx="1841.6" cy="1129.3" r="5.2"/><circle cx="1840.8" cy="1254.7" r="5.2"/><circle cx="1839.7" cy="1036.1" r="5.2"/><circle cx="1843.3" cy="1308.9" r="5.2"/><circle cx="1848.4" cy="1193.5" r="5.2"/><circle cx="1851.3" cy="1151.5" r="5.2"/><circle cx="1844.9" cy="1191" r="5.2"/><circle cx="1845.4" cy="1229.3" r="5.2"/><circle cx="1853" cy="1276.4" r="5.2"/><circle cx="1853" cy="1031.6" r="5.2"/><circle cx="1843.8" cy="1249.6" r="5.2"/><circle cx="1851.1" cy="1156.9" r="5.2"/><circle cx="1855.5" cy="1261.6" r="5.2"/><circle cx="1844" cy="1149.1" r="5.2"/><circle cx="1853.2" cy="1095.2" r="5.2"/><circle cx="1852.3" cy="1062.7" r="5.2"/><circle cx="1856.3" cy="1228.1" r="5.2"/><circle cx="1840.4" cy="1211.3" r="5.2"/><circle cx="1853.4" cy="1099.5" r="5.2"/><circle cx="1847.3" cy="1110.3" r="5.2"/><circle cx="1845.6" cy="1167.4" r="5.2"/><circle cx="1852.9" cy="1180.5" r="5.2"/><circle cx="1843.6" cy="1269.9" r="5.2"/><circle cx="1847.4" cy="980.5" r="5.2"/><circle cx="1843.3" cy="1300.2" r="5.2"/><circle cx="1842.4" cy="1145.6" r="5.2"/><circle cx="1852.3" cy="1196.8" r="5.2"/><circle cx="1840.9" cy="1398.1" r="5.2"/><circle cx="1846.9" cy="1440.5" r="5.2"/></g>
<path d="M1932.6 993.53V1113.7M1932.6 1200.77V1316.29" stroke="#333" stroke-width="1.9" fill="none"/>
<rect x="1911" y="1113.7" width="43.2" height="87.08" fill="none" stroke="#333" stroke-width="1.9"/>
<path d="M1911 1154.33H1954.2" stroke="#333" stroke-width="3.6" fill="none"/>
<g fill="#b00000" stroke="#000" stroke-width="1.2"><circle cx="1934.7" cy="997.4" r="5.2"/><circle cx="1928.6" cy="1139.4" r="5.2"/><circle cx="1941" cy="1158.4" r="5.2"/><circle cx="1932.7" cy="1187.3" r="5.2"/><circle cx="1927" cy="1094.8" r="5.2"/><circle cx="1935.5" cy="1228.6" r="5.2"/><circle cx="1924.7" cy="1107.6" r="5.2"/><circle cx="1933.8" cy="1083.7" r="5.2"/><circle cx="1924" cy="1119.5" r="5.2"/><circle cx="1934.7" cy="1194.3" r="5.2"/><circle cx="1933.9" cy="1135" r="5.2"/><circle cx="1939.9" cy="1149.7" r="5.2"/><circle cx="1929.6" cy="1056.3" r="5.2"/><circle cx="1932.7" cy="1189.9" r="5.2"/><circle cx="1932.3" cy="1167.3" r="5.2"/><circle cx="1932.6" cy="1216.9" r="5.2"/><circle cx="1929.4" cy="1133.1" r="5.2"/><circle cx="1938.8" cy="1006.9" r="5.2"/><circle cx="1937.2" cy="1154.1" r="5.2"/><circle cx="1924.5" cy="1080.1" r="5.2"/><circle cx="1934.4" cy="1000.8" r="5.2"/><circle cx="1933.2" cy="1225.9" r="5.2"/><circle cx="1925.6" cy="1199.9" r="5.2"/><circle cx="1936.5" cy="1214.7" r="5.2"/><circle cx="1934.9" cy="1145.4" r="5.2"/><circle cx="1941.2" cy="1147" r="5.2"/><circle cx="1941.6" cy="1177.6" r="5.2"/><circle cx="1926.7" cy="1137.6" r="5.2"/><circle cx="1928.8" cy="1156.5" r="5.2"/><circle cx="1934.6" cy="1191.8" r="5.2"/><circle cx="1935.8" cy="1203.3" r="5.2"/><circle cx="1927.7" cy="1169.5" r="5.2"/><circle cx="1925.6" cy="1289.4" r="5.2"/><circle cx="1940.8" cy="1142.3" r="5.2"/><circle cx="1927.4" cy="1174.9" r="5.2"/><circle cx="1931.1" cy="1060.1" r="5.2"/><circle cx="1938.3" cy="1128.5" r="5.2"/><circle cx="1940.5" cy="1224.1" r="5.2"/><circle cx="1935.9" cy="1129.9" r="5.2"/><circle cx="1936.6" cy="1071.8" r="5.2"/><circle cx="1924.9" cy="1176.7" r="5.2"/><circle cx="1938.2" cy="1262.5" r="5.2"/><circle cx="1929.3" cy="1062.3" r="5.2"/><circle cx="1929.8" cy="1115.2" r="5.2"/><circle cx="1939.3" cy="1118.3" r="5.2"/><circle cx="1939.3" cy="1184.9" r="5.2"/><circle cx="1939.7" cy="1162.9" r="5.2"/><circle cx="1925.1" cy="1104.9" r="5.2"/><circle cx="1941.2" cy="1124.8" r="5.2"/><circle cx="1926.7" cy="1303.1" r="5.2"/><circle cx="1936.7" cy="1141.7" r="5.2"/><circle cx="1935.1" cy="1102.9" r="5.2"/><circle cx="1927" cy="1218.7" r="5.2"/><circle cx="1936.1" cy="1240.5" r="5.2"/><circle cx="1940.1" cy="1026.6" r="5.2"/><circle cx="1929" cy="1220.9" r="5.2"/><circle cx="1935.2" cy="1041.8" r="5.2"/><circle cx="1933.5" cy="1227.8" r="5.2"/><circle cx="1928.1" cy="1273.2" r="5.2"/><circle cx="1932.5" cy="1113.4" r="5.2"/><circle cx="1936.9" cy="1236.1" r="5.2"/><circle cx="1926.7" cy="1052.8" r="5.2"/><circle cx="1935.6" cy="1181" r="5.2"/><circle cx="1925.9" cy="1023.9" r="5.2"/><circle cx="1940.7" cy="1100" r="5.2"/><circle cx="1932.8" cy="1126.6" r="5.2"/><circle cx="1938.3" cy="1172.8" r="5.2"/><circle cx="1932.1" cy="1201.4" r="5.2"/><circle cx="1925.4" cy="1139.1" r="5.2"/><circle cx="1937.8" cy="1088.9" r="5.2"/><circle cx="1940.8" cy="1038.5" r="5.2"/><circle cx="1930.2" cy="1015.2" r="5.2"/><circle cx="1925.2" cy="1159.9" r="5.2"/><circle cx="1925.2" cy="1065" r="5.2"/><circle cx="1925.8" cy="1127.9" r="5.2"/><circle cx="1929.2" cy="1215.7" r="5.2"/><circle cx="1931.1" cy="1292.1" r="5.2"/><circle cx="1934.7" cy="1018.1" r="5.2"/><circle cx="1936.5" cy="1285" r="5.2"/><circle cx="1938.1" cy="1179.9" r="5.2"/><circle cx="1930.7" cy="1204.4" r="5.2"/><circle cx="1935" cy="1211.5" r="5.2"/><circle cx="1934.7" cy="1155" r="5.2"/><circle cx="1931.4" cy="1183.5" r="5.2"/><circle cx="1941.4" cy="1186.9" r="5.2"/><circle cx="1926.3" cy="1097.6" r="5.2"/><circle cx="1925.2" cy="1131.6" r="5.2"/><circle cx="1933.2" cy="1123" r="5.2"/><circle cx="1937.8" cy="1149.3" r="5.2"/><circle cx="1937.5" cy="1117" r="5.2"/><circle cx="1936.6" cy="1165.5" r="5.2"/><circle cx="1925.3" cy="1194.4" r="5.2"/><circle cx="1931.9" cy="1090.4" r="5.2"/><circle cx="1936.7" cy="1248.8" r="5.2"/><circle cx="1936.9" cy="1116.6" r="5.2"/><circle cx="1929.1" cy="1151.4" r="5.2"/><circle cx="1934.4" cy="1258.5" r="5.2"/><circle cx="1934.1" cy="1072.9" r="5.2"/><circle cx="1927.8" cy="1173.2" r="5.2"/><circle cx="1928.3" cy="1136.7" r="5.2"/><circle cx="1940.1" cy="1231.9" r="5.2"/><circle cx="1938.2" cy="1121" r="5.2"/><circle cx="1924.9" cy="1046.5" r="5.2"/><circle cx="1940.5" cy="1110.5" r="5.2"/><circle cx="1927.2" cy="1074.8" r="5.2"/><circle cx="1932.6" cy="1270.8" r="5.2"/><circle cx="1940.2" cy="1160.7" r="5.2"/><circle cx="1928.9" cy="1152.4" r="5.2"/><circle cx="1934.7" cy="1206.1" r="5.2"/><circle cx="1936" cy="1198" r="5.2"/><circle cx="1936" cy="1235.4" r="5.2"/><circle cx="1934.3" cy="1231.1" r="5.2"/><circle cx="1936.9" cy="1144" r="5.2"/><circle cx="1925.2" cy="1067.8" r="5.2"/><circle cx="1940.2" cy="1170.9" r="5.2"/><circle cx="1936.9" cy="1314.3" r="5.2"/><circle cx="1926.3" cy="1132.8" r="5.2"/><circle cx="1938.2" cy="1182.3" r="5.2"/><circle cx="1935.5" cy="1080.6" r="5.2"/><circle cx="1930.1" cy="1124" r="5.2"/><circle cx="1929.9" cy="1309.7" r="5.2"/><circle cx="1927.4" cy="1207.7" r="5.2"/><circle cx="1935" cy="1030.9" r="5.2"/><circle cx="1925.3" cy="1146.3" r="5.2"/><circle cx="1940" cy="1249.4" r="5.2"/><circle cx="1923.6" cy="1210.1" r="5.2"/><circle cx="1939.6" cy="1166.3" r="5.2"/><circle cx="1934.2" cy="1163.7" r="5.2"/><circle cx="1941.1" cy="1196.8" r="5.2"/><circle cx="1934.6" cy="1191.3" r="5.2"/><circle cx="1936.6" cy="966.8" r="5.2"/><circle cx="1933.6" cy="1365.1" r="5.2"/><circle cx="1937.6" cy="1374.9" r="5.2"/><circle cx="1935.6" cy="1438.8" r="5.2"/><circle cx="1926.6" cy="1456.8" r="5.2"/></g>
<rect x="1799" y="918.5" width="183.7" height="562.9" fill="none" stroke="#111" stroke-width="2.6"/>
<path d="M1791.5 1417.3H1798M1791.5 1301.2H1798M1791.5 1185.1H1798M1791.5 1069H1798M1791.5 952.9H1798M1847.9 1482.4V1489.4M1932.6 1482.4V1489.4" stroke="#333" stroke-width="1" fill="none"/>
<text x="1767.82" y="1424.8" font-size="21.3" textLength="20.38" lengthAdjust="spacingAndGlyphs" fill="#4d4d4d" stroke="#4d4d4d" stroke-width="0.49">10</text>
<text x="1767.82" y="1308.7" font-size="21.3" textLength="20.38" lengthAdjust="spacingAndGlyphs" fill="#4d4d4d" stroke="#4d4d4d" stroke-width="0.49">12</text>
<text x="1767.82" y="1192.6" font-size="21.3" textLength="20.38" lengthAdjust="spacingAndGlyphs" fill="#4d4d4d" stroke="#4d4d4d" stroke-width="0.49">14</text>
<text x="1767.82" y="1076.5" font-size="21.3" textLength="20.38" lengthAdjust="spacingAndGlyphs" fill="#4d4d4d" stroke="#4d4d4d" stroke-width="0.49">16</text>
<text x="1767.82" y="960.4" font-size="21.3" textLength="20.38" lengthAdjust="spacingAndGlyphs" fill="#4d4d4d" stroke="#4d4d4d" stroke-width="0.49">18</text>
<text x="1806.3" y="884.3" font-size="21.6" textLength="100.1" lengthAdjust="spacingAndGlyphs" stroke="#000" stroke-width="0.5">SBS4 (log2)</text>
<text x="1806.3" y="906.8" font-size="21.6" textLength="59.8" lengthAdjust="spacingAndGlyphs" stroke="#000" stroke-width="0.5">P=0.09</text>
<text transform="translate(1825.9 1520) rotate(-30)" x="0" y="0" font-size="21" textLength="34" lengthAdjust="spacingAndGlyphs" fill="#4d4d4d" stroke="#4d4d4d" stroke-width="0.48">LAS</text>
<text transform="translate(1910.6 1520) rotate(-30)" x="0" y="0" font-size="21" textLength="34" lengthAdjust="spacingAndGlyphs" fill="#4d4d4d" stroke="#4d4d4d" stroke-width="0.48">HAS</text>
<text x="539" y="890.7" font-size="42" textLength="22.6" lengthAdjust="spacingAndGlyphs" font-weight="bold" stroke="#000" stroke-width="0.8">c</text>
<text transform="translate(549.9 1200.3) rotate(-90)" x="-31.75" y="0" font-size="30.5" textLength="63.5" lengthAdjust="spacingAndGlyphs" stroke="#000" stroke-width="0.7">Value</text>
</g>
<g>
<line x1="520.5" y1="1794.6" x2="520.5" y2="2397.4" stroke="#000" stroke-width="1.1"/>
<path d="M304.3 1912.3H1031" stroke="#4daf4a" stroke-width="2.5" stroke-dasharray="9.6 8.9" stroke-dashoffset="2" fill="none"/>
<path d="M304.3 2133.4H1031" stroke="#c2185b" stroke-width="2.5" stroke-dasharray="9.6 8.9" stroke-dashoffset="2" fill="none"/>
<g fill="#f5e6c0" stroke="#000" stroke-width="1.3"><circle cx="367.2" cy="2233.4" r="5.05"/><circle cx="372.1" cy="2234.8" r="5.25"/><circle cx="433.4" cy="2224.3" r="10.15"/><circle cx="421.6" cy="2258.4" r="8.25"/><circle cx="444.6" cy="2346.9" r="5.55"/><circle cx="480.7" cy="2341" r="8.25"/><circle cx="498.4" cy="2358.7" r="7.55"/><circle cx="494.8" cy="2359.7" r="5.55"/><circle cx="511.5" cy="2371.1" r="7.85"/><circle cx="336.1" cy="1821.1" r="10.15"/></g>
<g fill="#b00000" stroke="#000" stroke-width="1.3"><circle cx="547.5" cy="2356.1" r="5.75"/><circle cx="560.3" cy="2353.8" r="5.75"/><circle cx="563.9" cy="2359.7" r="5.55"/><circle cx="579.3" cy="2318" r="5.95"/><circle cx="594.8" cy="2301.3" r="5.95"/><circle cx="592.5" cy="2308.9" r="5.95"/><circle cx="607.5" cy="2307.2" r="5.95"/><circle cx="574.4" cy="2286.9" r="10.15"/><circle cx="622.6" cy="2219" r="8.25"/><circle cx="627.5" cy="2224.6" r="8.25"/><circle cx="631.1" cy="2253.8" r="5.95"/><circle cx="636.1" cy="2277.4" r="5.95"/><circle cx="678.7" cy="2218.4" r="5.95"/><circle cx="673.4" cy="2231.1" r="5.95"/><circle cx="741" cy="2219.7" r="6.05"/><circle cx="897.5" cy="2184.4" r="6.05"/><circle cx="998.6" cy="2124.1" r="6.05"/><circle cx="808.5" cy="1984.4" r="6.05"/><circle cx="635.7" cy="2081.8" r="14.15"/></g>
<text x="355.2" y="1825.6" font-size="23.8" textLength="64.81" lengthAdjust="spacingAndGlyphs" stroke="#000" stroke-width="0.55">KRAS</text>
<text x="629.3" y="2055.1" font-size="23.8" textLength="56.89" lengthAdjust="spacingAndGlyphs" stroke="#000" stroke-width="0.55">TP53</text>
<text x="788.7" y="1967.2" font-size="23.8" textLength="84.66" lengthAdjust="spacingAndGlyphs" stroke="#000" stroke-width="0.55">PIK3CA</text>
<text x="910.1" y="2115.6" font-size="23.8" textLength="78.05" lengthAdjust="spacingAndGlyphs" stroke="#000" stroke-width="0.55">ERBB2</text>
<rect x="304.3" y="1794.6" width="726.7" height="602.8" fill="none" stroke="#000" stroke-width="2.7"/>
<text x="262.24" y="2387.6" font-size="24.3" textLength="29.56" lengthAdjust="spacingAndGlyphs" fill="#4d4d4d" stroke="#4d4d4d" stroke-width="0.56">0.0</text>
<text x="262.24" y="2293.1" font-size="24.3" textLength="29.56" lengthAdjust="spacingAndGlyphs" fill="#4d4d4d" stroke="#4d4d4d" stroke-width="0.56">0.5</text>
<text x="262.24" y="2198.6" font-size="24.3" textLength="29.56" lengthAdjust="spacingAndGlyphs" fill="#4d4d4d" stroke="#4d4d4d" stroke-width="0.56">1.0</text>
<text x="262.24" y="2104.1" font-size="24.3" textLength="29.56" lengthAdjust="spacingAndGlyphs" fill="#4d4d4d" stroke="#4d4d4d" stroke-width="0.56">1.5</text>
<text x="262.24" y="2009.6" font-size="24.3" textLength="29.56" lengthAdjust="spacingAndGlyphs" fill="#4d4d4d" stroke="#4d4d4d" stroke-width="0.56">2.0</text>
<text x="262.24" y="1915.1" font-size="24.3" textLength="29.56" lengthAdjust="spacingAndGlyphs" fill="#4d4d4d" stroke="#4d4d4d" stroke-width="0.56">2.5</text>
<text x="262.24" y="1820.6" font-size="24.3" textLength="29.56" lengthAdjust="spacingAndGlyphs" fill="#4d4d4d" stroke="#4d4d4d" stroke-width="0.56">3.0</text>
<text x="312.16" y="2427.4" font-size="24.3" textLength="17.29" lengthAdjust="spacingAndGlyphs" fill="#4d4d4d" stroke="#4d4d4d" stroke-width="0.56">-1</text>
<text x="515.09" y="2427.4" font-size="24.3" textLength="10.81" lengthAdjust="spacingAndGlyphs" fill="#4d4d4d" stroke="#4d4d4d" stroke-width="0.56">0</text>
<text x="714.79" y="2427.4" font-size="24.3" textLength="10.81" lengthAdjust="spacingAndGlyphs" fill="#4d4d4d" stroke="#4d4d4d" stroke-width="0.56">1</text>
<text x="914.49" y="2427.4" font-size="24.3" textLength="10.81" lengthAdjust="spacingAndGlyphs" fill="#4d4d4d" stroke="#4d4d4d" stroke-width="0.56">2</text>
<path d="M292.8 2379.2H303M292.8 2284.7H303M292.8 2190.2H303M292.8 2095.7H303M292.8 2001.2H303M292.8 1906.7H303M292.8 1812.2H303M320.8 2398.7V2408.2M520.5 2398.7V2408.2M720.2 2398.7V2408.2M919.9 2398.7V2408.2" stroke="#333" stroke-width="1" fill="none"/>
<text x="486.2" y="2460.7" font-size="32" textLength="363" lengthAdjust="spacingAndGlyphs" stroke="#000" stroke-width="0.74">Logistic regression coefficient</text>
<text transform="translate(249.1 2096.7) rotate(-90)" x="-55" y="0" font-size="32" textLength="110" lengthAdjust="spacingAndGlyphs" stroke="#000" stroke-width="0.74">-log10(P)</text>
<text x="1041.3" y="1919.5" font-size="28.5" textLength="97.5" stroke="#000" stroke-width="0.4" lengthAdjust="spacingAndGlyphs"><tspan font-style="italic">FDR</tspan>=0.05</text>
<text x="1041.2" y="2140.6" font-size="28.5" textLength="72" stroke="#000" stroke-width="0.4" lengthAdjust="spacingAndGlyphs"><tspan font-style="italic">P</tspan>=0.05</text>
<text x="330.3" y="1749" font-size="28" textLength="193.8" lengthAdjust="spacingAndGlyphs" stroke="#000" stroke-width="0.64">Mutation Frequency</text>
<path d="M536.1 1744.1H965.9M598 1744.1v-6.6M659.3 1744.1v-6.6M720.6 1744.1v-6.6M781.9 1744.1v-6.6M843.2 1744.1v-6.6M904.5 1744.1v-6.6" stroke="#000" stroke-width="1" fill="none"/>
<g fill="#fff" stroke="#000" stroke-width="1.3"><circle cx="567.4" cy="1725.4" r="5.55"/><circle cx="628.6" cy="1725.4" r="7.95"/><circle cx="689.9" cy="1725.4" r="9.95"/><circle cx="751.1" cy="1725.4" r="11.45"/><circle cx="812.4" cy="1725.4" r="12.75"/><circle cx="873.6" cy="1725.4" r="13.75"/><circle cx="934.9" cy="1725.4" r="14.45"/></g>
<text x="582.54" y="1770.8" font-size="19.8" textLength="30.91" lengthAdjust="spacingAndGlyphs" stroke="#000" stroke-width="0.46">10%</text>
<text x="643.84" y="1770.8" font-size="19.8" textLength="30.91" lengthAdjust="spacingAndGlyphs" stroke="#000" stroke-width="0.46">20%</text>
<text x="705.14" y="1770.8" font-size="19.8" textLength="30.91" lengthAdjust="spacingAndGlyphs" stroke="#000" stroke-width="0.46">30%</text>
<text x="766.44" y="1770.8" font-size="19.8" textLength="30.91" lengthAdjust="spacingAndGlyphs" stroke="#000" stroke-width="0.46">40%</text>
<text x="827.74" y="1770.8" font-size="19.8" textLength="30.91" lengthAdjust="spacingAndGlyphs" stroke="#000" stroke-width="0.46">50%</text>
<text x="889.04" y="1770.8" font-size="19.8" textLength="30.91" lengthAdjust="spacingAndGlyphs" stroke="#000" stroke-width="0.46">60%</text>
<path d="M333 2485.9H520.4" stroke="#f0b429" stroke-width="5" fill="none"/>
<path d="M303.3 2485.9L340 2465.6L333.4 2485.9L340 2506.2z" fill="#f0b429"/>
<path d="M520.4 2485.9H1001" stroke="#b00000" stroke-width="5" fill="none"/>
<path d="M1031.2 2485.9L994.5 2465.6L1001.1 2485.9L994.5 2506.2z" fill="#b00000"/>
<text x="344.2" y="2525" font-size="32" textLength="191.6" lengthAdjust="spacingAndGlyphs" font-weight="bold" stroke="#000" stroke-width="0.3">Enriched in LAS</text>
<text x="670.9" y="2525" font-size="32" textLength="195.6" lengthAdjust="spacingAndGlyphs" font-weight="bold" stroke="#000" stroke-width="0.3">Enriched in HAS</text>
<text x="159.8" y="1765" font-size="42" textLength="25.7" lengthAdjust="spacingAndGlyphs" font-weight="bold" stroke="#000" stroke-width="0.8">d</text>
</g>
<g>
<path d="M1292 2410.2H1490.6M1292 2267.68H1490.6M1292 2125.16H1490.6M1292 1982.64H1490.6M1292 1840.12H1490.6" stroke="#d0d0d0" stroke-width="0.9" fill="none"/>
<path d="M1345.5 1948.44V2199.63M1345.5 2410.2V2410.2" stroke="#333" stroke-width="1.9" fill="none"/>
<rect x="1318.1" y="2199.63" width="54.8" height="210.57" fill="none" stroke="#333" stroke-width="1.9"/>
<path d="M1318.1 2297.61H1372.9" stroke="#333" stroke-width="3.6" fill="none"/>
<g fill="#f5e6c0" stroke="#000" stroke-width="1.2"><circle cx="1345.2" cy="2129.7" r="4.8"/><circle cx="1336.5" cy="2091.2" r="4.8"/><circle cx="1336.7" cy="2410" r="4.8"/><circle cx="1344.2" cy="2049.8" r="4.8"/><circle cx="1350.8" cy="2338.6" r="4.8"/><circle cx="1345.4" cy="2338.6" r="4.8"/><circle cx="1340.6" cy="2057.9" r="4.8"/><circle cx="1347.8" cy="2338.7" r="4.8"/><circle cx="1350.7" cy="2410.8" r="4.8"/><circle cx="1351.8" cy="2409.6" r="4.8"/><circle cx="1336.9" cy="2298.8" r="4.8"/><circle cx="1354.2" cy="2411.6" r="4.8"/><circle cx="1337.1" cy="2268" r="4.8"/><circle cx="1353.3" cy="2245" r="4.8"/><circle cx="1345.1" cy="2174.6" r="4.8"/><circle cx="1345.3" cy="1986.2" r="4.8"/><circle cx="1353.9" cy="2057.8" r="4.8"/><circle cx="1355" cy="2298.1" r="4.8"/><circle cx="1342.9" cy="2340" r="4.8"/><circle cx="1341.5" cy="2412.3" r="4.8"/><circle cx="1343.7" cy="2409.2" r="4.8"/><circle cx="1343.3" cy="2148.2" r="4.8"/><circle cx="1349.7" cy="2299.4" r="4.8"/><circle cx="1346.8" cy="2410.7" r="4.8"/><circle cx="1351.9" cy="2412.1" r="4.8"/><circle cx="1342.3" cy="2295.7" r="4.8"/><circle cx="1348.8" cy="2118.8" r="4.8"/><circle cx="1337.9" cy="2153.2" r="4.8"/><circle cx="1348.2" cy="2409.6" r="4.8"/><circle cx="1338.6" cy="2267.4" r="4.8"/><circle cx="1343.2" cy="2412.2" r="4.8"/><circle cx="1351.1" cy="2223.9" r="4.8"/><circle cx="1339.4" cy="2245.7" r="4.8"/><circle cx="1347.1" cy="2298.6" r="4.8"/><circle cx="1341.6" cy="2340.2" r="4.8"/><circle cx="1337.8" cy="2410.4" r="4.8"/><circle cx="1342" cy="2245.2" r="4.8"/><circle cx="1346.9" cy="2298.2" r="4.8"/><circle cx="1338.2" cy="2212.2" r="4.8"/><circle cx="1347.8" cy="2243.7" r="4.8"/><circle cx="1346.9" cy="2197.5" r="4.8"/><circle cx="1353.4" cy="2410.6" r="4.8"/><circle cx="1336.7" cy="2175.2" r="4.8"/><circle cx="1336" cy="2408.5" r="4.8"/><circle cx="1349.8" cy="2224" r="4.8"/><circle cx="1339.1" cy="2268.2" r="4.8"/><circle cx="1354.5" cy="2078.7" r="4.8"/><circle cx="1339.7" cy="2296.4" r="4.8"/><circle cx="1337.4" cy="1994.5" r="4.8"/><circle cx="1353.2" cy="2408" r="4.8"/><circle cx="1341.7" cy="2339.1" r="4.8"/><circle cx="1345" cy="2339.6" r="4.8"/><circle cx="1353.3" cy="2296.8" r="4.8"/><circle cx="1348.4" cy="2409" r="4.8"/><circle cx="1352" cy="2411.8" r="4.8"/><circle cx="1351.8" cy="2295.3" r="4.8"/><circle cx="1341.9" cy="2075.1" r="4.8"/><circle cx="1340.7" cy="2337.9" r="4.8"/><circle cx="1339.1" cy="2100.9" r="4.8"/><circle cx="1344.2" cy="2198" r="4.8"/><circle cx="1351.7" cy="2336.8" r="4.8"/><circle cx="1348.3" cy="2197.8" r="4.8"/><circle cx="1342.4" cy="2338" r="4.8"/><circle cx="1351.6" cy="2298.5" r="4.8"/><circle cx="1337" cy="1963.2" r="4.8"/><circle cx="1340.8" cy="2338.7" r="4.8"/><circle cx="1338.5" cy="2243.6" r="4.8"/><circle cx="1351.9" cy="2298.1" r="4.8"/><circle cx="1353.6" cy="2124.6" r="4.8"/><circle cx="1347.6" cy="2267.3" r="4.8"/><circle cx="1344.2" cy="2296.3" r="4.8"/><circle cx="1343.1" cy="2245.8" r="4.8"/><circle cx="1341.5" cy="2137.7" r="4.8"/><circle cx="1340.3" cy="2408.2" r="4.8"/><circle cx="1337.5" cy="2087.4" r="4.8"/><circle cx="1338.7" cy="2410.8" r="4.8"/><circle cx="1339.3" cy="2411.4" r="4.8"/><circle cx="1354" cy="2111.4" r="4.8"/><circle cx="1341.3" cy="2137.4" r="4.8"/><circle cx="1336.8" cy="2266" r="4.8"/><circle cx="1339" cy="2154.2" r="4.8"/><circle cx="1336.9" cy="2033.8" r="4.8"/><circle cx="1346.7" cy="2412.2" r="4.8"/><circle cx="1345.1" cy="2225.2" r="4.8"/><circle cx="1346.5" cy="2243.7" r="4.8"/><circle cx="1349.1" cy="2412.3" r="4.8"/><circle cx="1353.4" cy="2266.1" r="4.8"/><circle cx="1338.5" cy="2409.4" r="4.8"/><circle cx="1338.9" cy="2341.1" r="4.8"/><circle cx="1352.9" cy="2164.2" r="4.8"/><circle cx="1340.5" cy="2227.7" r="4.8"/><circle cx="1338.9" cy="2145.4" r="4.8"/><circle cx="1337.3" cy="2296.1" r="4.8"/><circle cx="1338.6" cy="2197.9" r="4.8"/><circle cx="1351.7" cy="2409.5" r="4.8"/><circle cx="1348" cy="2297.2" r="4.8"/><circle cx="1341.4" cy="2068.7" r="4.8"/><circle cx="1342.6" cy="2195.9" r="4.8"/><circle cx="1350.1" cy="2269.3" r="4.8"/><circle cx="1346.1" cy="2337.9" r="4.8"/><circle cx="1336.1" cy="2042.8" r="4.8"/><circle cx="1337" cy="1970.8" r="4.8"/><circle cx="1342.1" cy="2341.1" r="4.8"/><circle cx="1342.7" cy="2411.9" r="4.8"/><circle cx="1345.3" cy="2246.7" r="4.8"/><circle cx="1343.8" cy="2408.5" r="4.8"/><circle cx="1354.1" cy="2268.6" r="4.8"/><circle cx="1345.1" cy="2411" r="4.8"/><circle cx="1348.7" cy="2224.2" r="4.8"/><circle cx="1338.9" cy="2212.1" r="4.8"/><circle cx="1346.1" cy="2338.8" r="4.8"/><circle cx="1349.7" cy="2411.2" r="4.8"/><circle cx="1343.5" cy="2182.5" r="4.8"/><circle cx="1348.9" cy="2208.9" r="4.8"/><circle cx="1348.6" cy="2295.2" r="4.8"/><circle cx="1343.4" cy="2298.8" r="4.8"/><circle cx="1353.8" cy="2126" r="4.8"/><circle cx="1343.1" cy="2242.8" r="4.8"/><circle cx="1348.6" cy="2211.6" r="4.8"/><circle cx="1340.2" cy="2268.3" r="4.8"/><circle cx="1344" cy="2411.6" r="4.8"/><circle cx="1338.2" cy="2340.1" r="4.8"/><circle cx="1344" cy="2410.7" r="4.8"/><circle cx="1346.4" cy="2336.8" r="4.8"/><circle cx="1342.3" cy="2210.6" r="4.8"/><circle cx="1336.8" cy="2410.1" r="4.8"/><circle cx="1352.9" cy="2409.7" r="4.8"/><circle cx="1349.6" cy="2062.5" r="4.8"/><circle cx="1353.4" cy="2340.6" r="4.8"/><circle cx="1348.8" cy="2103.2" r="4.8"/><circle cx="1338.7" cy="2210.7" r="4.8"/><circle cx="1338.7" cy="2297.2" r="4.8"/><circle cx="1354.4" cy="2410.7" r="4.8"/><circle cx="1342.4" cy="2410.6" r="4.8"/><circle cx="1341.6" cy="2339.4" r="4.8"/><circle cx="1342.7" cy="2010.4" r="4.8"/><circle cx="1354.8" cy="2026" r="4.8"/><circle cx="1354.2" cy="2410.3" r="4.8"/><circle cx="1338.7" cy="2410.6" r="4.8"/><circle cx="1336.6" cy="2183" r="4.8"/><circle cx="1343.2" cy="2265.8" r="4.8"/><circle cx="1350.3" cy="2244.8" r="4.8"/><circle cx="1342.7" cy="2209" r="4.8"/><circle cx="1338.6" cy="2266.8" r="4.8"/><circle cx="1348.7" cy="2112.1" r="4.8"/><circle cx="1348.4" cy="2242.9" r="4.8"/><circle cx="1346.1" cy="2408.7" r="4.8"/><circle cx="1353.8" cy="2340.2" r="4.8"/><circle cx="1339.4" cy="2408.9" r="4.8"/><circle cx="1344.2" cy="2409" r="4.8"/><circle cx="1344.1" cy="2163.5" r="4.8"/><circle cx="1347.2" cy="2409" r="4.8"/><circle cx="1336.7" cy="2410.7" r="4.8"/><circle cx="1346.4" cy="2297.2" r="4.8"/><circle cx="1343.2" cy="2410.7" r="4.8"/><circle cx="1347.5" cy="2340" r="4.8"/><circle cx="1336" cy="2163.5" r="4.8"/><circle cx="1345.3" cy="2338" r="4.8"/><circle cx="1349.2" cy="2243.2" r="4.8"/><circle cx="1345.8" cy="2196.8" r="4.8"/><circle cx="1340.9" cy="2412.3" r="4.8"/><circle cx="1345.1" cy="2337.3" r="4.8"/><circle cx="1347" cy="2410.9" r="4.8"/><circle cx="1339" cy="2409.9" r="4.8"/><circle cx="1350.8" cy="2035.8" r="4.8"/><circle cx="1350.8" cy="2299.1" r="4.8"/><circle cx="1338.4" cy="2226.4" r="4.8"/><circle cx="1348" cy="2244.8" r="4.8"/><circle cx="1347.2" cy="2336.9" r="4.8"/><circle cx="1349.7" cy="2408.1" r="4.8"/><circle cx="1349" cy="2410.8" r="4.8"/><circle cx="1345.5" cy="1872.9" r="4.8"/><circle cx="1343.5" cy="1948.4" r="4.8"/><circle cx="1351.5" cy="1949.1" r="4.8"/></g>
<path d="M1437 1797.36V2120.17M1437 2338.94V2410.2" stroke="#333" stroke-width="1.9" fill="none"/>
<rect x="1409.6" y="2120.17" width="54.8" height="218.77" fill="none" stroke="#333" stroke-width="1.9"/>
<path d="M1409.6 2267.68H1464.4" stroke="#333" stroke-width="3.6" fill="none"/>
<g fill="#b00000" stroke="#000" stroke-width="1.2"><circle cx="1440.8" cy="2208.3" r="4.8"/><circle cx="1441.6" cy="2408.4" r="4.8"/><circle cx="1430.7" cy="2148.4" r="4.8"/><circle cx="1438.4" cy="2338" r="4.8"/><circle cx="1429.7" cy="2338.8" r="4.8"/><circle cx="1435.5" cy="2337.8" r="4.8"/><circle cx="1436.1" cy="2164.4" r="4.8"/><circle cx="1445.3" cy="2156.7" r="4.8"/><circle cx="1439.7" cy="1916.2" r="4.8"/><circle cx="1437.8" cy="2338.4" r="4.8"/><circle cx="1434.2" cy="2340" r="4.8"/><circle cx="1442.6" cy="2182.4" r="4.8"/><circle cx="1443" cy="2411.5" r="4.8"/><circle cx="1437.6" cy="2164.6" r="4.8"/><circle cx="1445.1" cy="2409" r="4.8"/><circle cx="1441.9" cy="2411.2" r="4.8"/><circle cx="1429.3" cy="2408.7" r="4.8"/><circle cx="1438.3" cy="2209.1" r="4.8"/><circle cx="1445" cy="2246.7" r="4.8"/><circle cx="1427.6" cy="2340.1" r="4.8"/><circle cx="1437.3" cy="2246.8" r="4.8"/><circle cx="1434.8" cy="2297.3" r="4.8"/><circle cx="1428.3" cy="2004.4" r="4.8"/><circle cx="1429.6" cy="1965.8" r="4.8"/><circle cx="1442.3" cy="2297" r="4.8"/><circle cx="1436.6" cy="2408.4" r="4.8"/><circle cx="1445.8" cy="2412.2" r="4.8"/><circle cx="1441" cy="2412.1" r="4.8"/><circle cx="1432.5" cy="2069.1" r="4.8"/><circle cx="1432.5" cy="2049.3" r="4.8"/><circle cx="1443.7" cy="2410.8" r="4.8"/><circle cx="1427.5" cy="1874.1" r="4.8"/><circle cx="1445.1" cy="2163.1" r="4.8"/><circle cx="1428.5" cy="2296" r="4.8"/><circle cx="1435.8" cy="2049.4" r="4.8"/><circle cx="1433.9" cy="2340.5" r="4.8"/><circle cx="1432.4" cy="1883.8" r="4.8"/><circle cx="1432.6" cy="2267.5" r="4.8"/><circle cx="1437.1" cy="2184.8" r="4.8"/><circle cx="1430.2" cy="2081.3" r="4.8"/><circle cx="1443.3" cy="2117.3" r="4.8"/><circle cx="1438.3" cy="2106.2" r="4.8"/><circle cx="1434.2" cy="2113" r="4.8"/><circle cx="1442.1" cy="2296.9" r="4.8"/><circle cx="1431.6" cy="2267.3" r="4.8"/><circle cx="1428.2" cy="2295.2" r="4.8"/><circle cx="1428.5" cy="2296.8" r="4.8"/><circle cx="1438.2" cy="2019" r="4.8"/><circle cx="1434.9" cy="2133.7" r="4.8"/><circle cx="1434.6" cy="2209.6" r="4.8"/><circle cx="1433.2" cy="2132" r="4.8"/><circle cx="1431.2" cy="2408.7" r="4.8"/><circle cx="1439.1" cy="1984.8" r="4.8"/><circle cx="1436.1" cy="2100.3" r="4.8"/><circle cx="1432.9" cy="2268.4" r="4.8"/><circle cx="1430" cy="2196.3" r="4.8"/><circle cx="1440.5" cy="1950.5" r="4.8"/><circle cx="1444.3" cy="2266.3" r="4.8"/><circle cx="1435.2" cy="2410.4" r="4.8"/><circle cx="1446.3" cy="2153.9" r="4.8"/><circle cx="1440.6" cy="2297.3" r="4.8"/><circle cx="1434.8" cy="2172.8" r="4.8"/><circle cx="1427.9" cy="2172.6" r="4.8"/><circle cx="1429.6" cy="2210.8" r="4.8"/><circle cx="1438.8" cy="2299" r="4.8"/><circle cx="1439.2" cy="2408.5" r="4.8"/><circle cx="1439.4" cy="2056" r="4.8"/><circle cx="1445.2" cy="2337.1" r="4.8"/><circle cx="1436.9" cy="2013.8" r="4.8"/><circle cx="1429.5" cy="2408.3" r="4.8"/><circle cx="1446" cy="2297" r="4.8"/><circle cx="1429" cy="2146.3" r="4.8"/><circle cx="1436.2" cy="2411" r="4.8"/><circle cx="1439.8" cy="1931.5" r="4.8"/><circle cx="1442.4" cy="2072.4" r="4.8"/><circle cx="1428.5" cy="2032" r="4.8"/><circle cx="1430.9" cy="2040.2" r="4.8"/><circle cx="1437.3" cy="1870.4" r="4.8"/><circle cx="1428.3" cy="2020.3" r="4.8"/><circle cx="1432.6" cy="2337.2" r="4.8"/><circle cx="1439.4" cy="2060" r="4.8"/><circle cx="1431.4" cy="2409.6" r="4.8"/><circle cx="1428.8" cy="1940.8" r="4.8"/><circle cx="1434.3" cy="2340.3" r="4.8"/><circle cx="1441.2" cy="1916.1" r="4.8"/><circle cx="1440.2" cy="2337.1" r="4.8"/><circle cx="1428.1" cy="2243.4" r="4.8"/><circle cx="1444.1" cy="2269.1" r="4.8"/><circle cx="1432.5" cy="2074.3" r="4.8"/><circle cx="1442.2" cy="2184" r="4.8"/><circle cx="1437.4" cy="2337" r="4.8"/><circle cx="1435.7" cy="2243.7" r="4.8"/><circle cx="1440.7" cy="2340.2" r="4.8"/><circle cx="1430.1" cy="2243.6" r="4.8"/><circle cx="1429.2" cy="2091.7" r="4.8"/><circle cx="1436.2" cy="2265.8" r="4.8"/><circle cx="1441.8" cy="2244.2" r="4.8"/><circle cx="1436.6" cy="2341.1" r="4.8"/><circle cx="1429.8" cy="1900.4" r="4.8"/><circle cx="1438.8" cy="2409.6" r="4.8"/><circle cx="1440.7" cy="2411.7" r="4.8"/><circle cx="1436.5" cy="2295.4" r="4.8"/><circle cx="1442.2" cy="2243.2" r="4.8"/><circle cx="1442.3" cy="2267.3" r="4.8"/><circle cx="1434.7" cy="2269.4" r="4.8"/><circle cx="1437" cy="2182.3" r="4.8"/><circle cx="1428.9" cy="2411.3" r="4.8"/><circle cx="1429.8" cy="2266.2" r="4.8"/><circle cx="1434.6" cy="2408.5" r="4.8"/><circle cx="1444.9" cy="2338.4" r="4.8"/><circle cx="1441.2" cy="2409.3" r="4.8"/><circle cx="1439.8" cy="2297.9" r="4.8"/><circle cx="1440.9" cy="2194.3" r="4.8"/><circle cx="1427.9" cy="2246.2" r="4.8"/><circle cx="1445.9" cy="2209" r="4.8"/><circle cx="1444.4" cy="2266.1" r="4.8"/><circle cx="1444.9" cy="2267.1" r="4.8"/><circle cx="1437.9" cy="2197.4" r="4.8"/><circle cx="1445.7" cy="2410.8" r="4.8"/><circle cx="1432.8" cy="2299.3" r="4.8"/><circle cx="1440.5" cy="2410.2" r="4.8"/><circle cx="1445.8" cy="2408.5" r="4.8"/><circle cx="1446" cy="2269.9" r="4.8"/><circle cx="1433" cy="2338.9" r="4.8"/><circle cx="1436.6" cy="2210.5" r="4.8"/><circle cx="1431.7" cy="1979.9" r="4.8"/><circle cx="1432.3" cy="2297.1" r="4.8"/><circle cx="1445.8" cy="2245.2" r="4.8"/><circle cx="1446.5" cy="2268.8" r="4.8"/><circle cx="1434.4" cy="2336.8" r="4.8"/><circle cx="1441.5" cy="2139" r="4.8"/><circle cx="1429.7" cy="1995.5" r="4.8"/><circle cx="1436" cy="1797.4" r="4.8"/><circle cx="1435" cy="1834.4" r="4.8"/><circle cx="1437" cy="1835.8" r="4.8"/></g>
<rect x="1292" y="1765.6" width="198.6" height="677.8" fill="none" stroke="#000" stroke-width="2.2"/>
<text x="1271.92" y="2418" font-size="22.2" textLength="9.88" lengthAdjust="spacingAndGlyphs" fill="#4d4d4d" stroke="#4d4d4d" stroke-width="0.51">0</text>
<text x="1271.92" y="2275.48" font-size="22.2" textLength="9.88" lengthAdjust="spacingAndGlyphs" fill="#4d4d4d" stroke="#4d4d4d" stroke-width="0.51">2</text>
<text x="1271.92" y="2132.96" font-size="22.2" textLength="9.88" lengthAdjust="spacingAndGlyphs" fill="#4d4d4d" stroke="#4d4d4d" stroke-width="0.51">4</text>
<text x="1271.92" y="1990.44" font-size="22.2" textLength="9.88" lengthAdjust="spacingAndGlyphs" fill="#4d4d4d" stroke="#4d4d4d" stroke-width="0.51">6</text>
<text x="1271.92" y="1847.92" font-size="22.2" textLength="9.88" lengthAdjust="spacingAndGlyphs" fill="#4d4d4d" stroke="#4d4d4d" stroke-width="0.51">8</text>
<path d="M1284.5 2410.2H1291.2M1284.5 2267.68H1291.2M1284.5 2125.16H1291.2M1284.5 1982.64H1291.2M1284.5 1840.12H1291.2M1345.5 2444.2V2450.9M1437 2444.2V2450.9" stroke="#333" stroke-width="1" fill="none"/>
<text x="1331.05" y="2470" font-size="19.6" textLength="28.9" lengthAdjust="spacingAndGlyphs" stroke="#000" stroke-width="0.45">LAS</text>
<text x="1421.28" y="2470" font-size="19.6" textLength="31.44" lengthAdjust="spacingAndGlyphs" stroke="#000" stroke-width="0.45">HAS</text>
<text x="1348.5" y="1751.8" font-size="19.4" textLength="71" lengthAdjust="spacingAndGlyphs" stroke="#000" stroke-width="0.45">P = 0.026</text>
<text transform="translate(1261 2104.5) rotate(-90)" x="-238" y="0" font-size="26.9" textLength="476" lengthAdjust="spacingAndGlyphs" stroke="#000" stroke-width="0.62">log2(Number of retrotransposon insertions + 1)</text>
<text x="1191.8" y="1764" font-size="42" textLength="23.4" lengthAdjust="spacingAndGlyphs" font-weight="bold" stroke="#000" stroke-width="0.8">e</text>
</g>
</svg>
</body>
</html>
